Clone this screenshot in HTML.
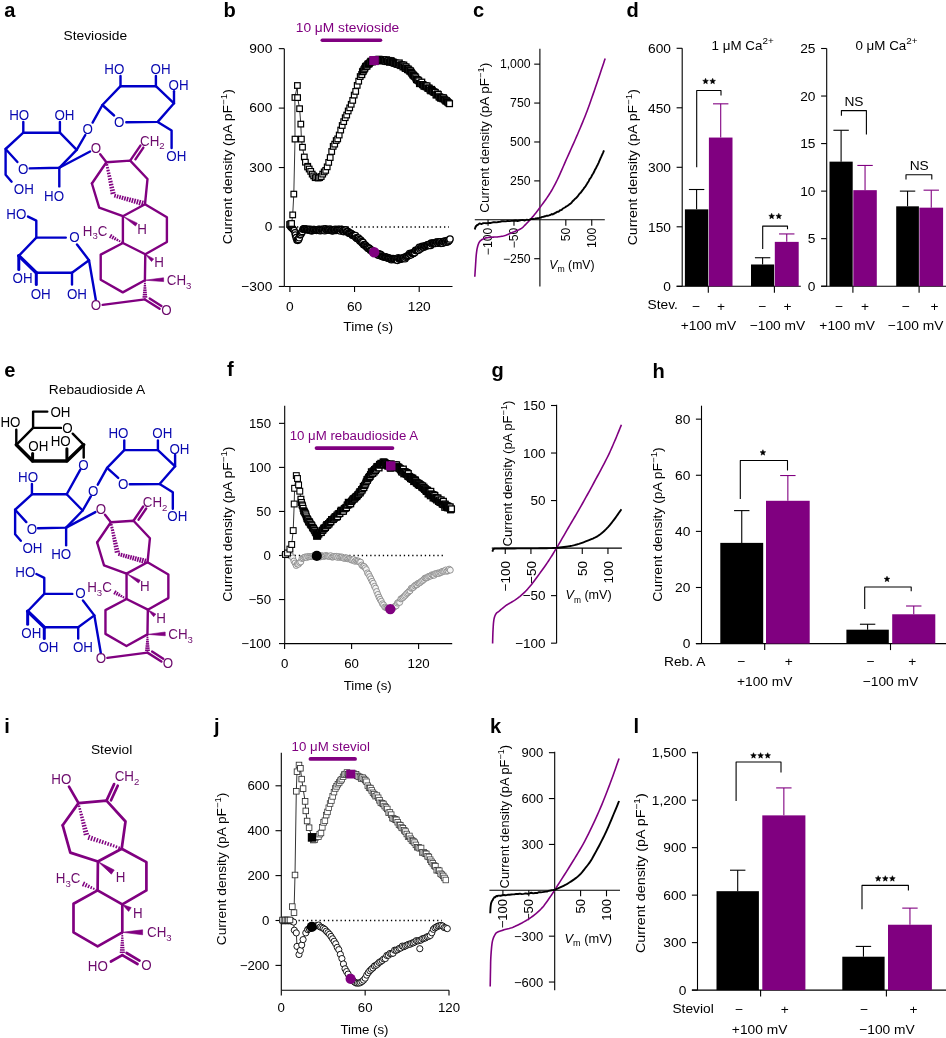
<!DOCTYPE html>
<html><head><meta charset="utf-8"><style>
html,body{margin:0;padding:0;background:#fff;}
svg{display:block;will-change:transform;}
text{font-family:"Liberation Sans", sans-serif;}
</style></head><body>
<svg width="946" height="1038" viewBox="0 0 946 1038">
<rect x="0" y="0" width="946" height="1038" fill="#fff"/>
<text transform="translate(223.50,16.70) scale(0.99,1)" font-size="20.3" text-anchor="start" fill="#000" font-weight="bold" >b</text>
<line x1="284.30" y1="48.65" x2="284.30" y2="286.45" stroke="#000" stroke-width="1.1" />
<line x1="278.80" y1="48.65" x2="284.30" y2="48.65" stroke="#000" stroke-width="1.1" />
<text transform="translate(272.30,52.95) scale(1.06,1)" font-size="13" text-anchor="end" fill="#000" font-weight="normal" >900</text>
<line x1="278.80" y1="108.10" x2="284.30" y2="108.10" stroke="#000" stroke-width="1.1" />
<text transform="translate(272.30,112.40) scale(1.06,1)" font-size="13" text-anchor="end" fill="#000" font-weight="normal" >600</text>
<line x1="278.80" y1="167.55" x2="284.30" y2="167.55" stroke="#000" stroke-width="1.1" />
<text transform="translate(272.30,171.85) scale(1.06,1)" font-size="13" text-anchor="end" fill="#000" font-weight="normal" >300</text>
<line x1="278.80" y1="227.00" x2="284.30" y2="227.00" stroke="#000" stroke-width="1.1" />
<text transform="translate(272.30,231.30) scale(1.06,1)" font-size="13" text-anchor="end" fill="#000" font-weight="normal" >0</text>
<line x1="278.80" y1="286.45" x2="284.30" y2="286.45" stroke="#000" stroke-width="1.1" />
<text transform="translate(272.30,290.75) scale(1.06,1)" font-size="13" text-anchor="end" fill="#000" font-weight="normal" >−300</text>
<line x1="284.30" y1="286.45" x2="452.50" y2="286.45" stroke="#000" stroke-width="1.1" />
<line x1="289.90" y1="286.45" x2="289.90" y2="291.95" stroke="#000" stroke-width="1.1" />
<text transform="translate(289.90,310.80) scale(1.06,1)" font-size="13" text-anchor="middle" fill="#000" font-weight="normal" >0</text>
<line x1="354.55" y1="286.45" x2="354.55" y2="291.95" stroke="#000" stroke-width="1.1" />
<text transform="translate(354.55,310.80) scale(1.06,1)" font-size="13" text-anchor="middle" fill="#000" font-weight="normal" >60</text>
<line x1="419.20" y1="286.45" x2="419.20" y2="291.95" stroke="#000" stroke-width="1.1" />
<text transform="translate(419.20,310.80) scale(1.06,1)" font-size="13" text-anchor="middle" fill="#000" font-weight="normal" >120</text>
<text transform="translate(368.20,331.00) scale(1.06,1)" font-size="13" text-anchor="middle" fill="#000" font-weight="normal" >Time (s)</text>
<text transform="translate(232.30,166.70) rotate(-90) scale(1.0731,1)" font-size="13" text-anchor="middle" fill="#000">Current density (pA pF<tspan font-size="9.1" dy="-5">−1</tspan><tspan dy="5">)</tspan></text>
<text transform="translate(347.50,32.00) scale(1.06,1)" font-size="13" text-anchor="middle" fill="#800080" font-weight="normal" >10 μM stevioside</text>
<line x1="322.30" y1="40.30" x2="380.50" y2="40.30" stroke="#800080" stroke-width="3.6" stroke-linecap="round"/>
<line x1="297.00" y1="227.00" x2="449.00" y2="227.00" stroke="#000" stroke-width="1.3" stroke-dasharray="1.3,2.9"/>
<polyline points="290.50,226.60 290.56,226.65 290.62,226.71 290.69,226.78 290.78,226.85 290.86,226.93 290.96,227.01 291.06,227.10 291.17,227.19 291.28,227.29 291.39,227.39 291.50,227.50 291.62,227.61 291.74,227.71 291.85,227.83 291.97,227.94 292.08,228.05 292.19,228.16 292.30,228.28 292.40,228.39 292.50,228.50 292.60,228.61 292.69,228.72 292.79,228.83 292.88,228.95 292.98,229.06 293.07,229.17 293.17,229.29 293.26,229.41 293.36,229.53 293.45,229.65 293.54,229.77 293.63,229.90 293.72,230.03 293.81,230.16 293.90,230.29 293.98,230.43 294.06,230.57 294.15,230.71 294.22,230.85 294.30,231.00 294.37,231.15 294.44,231.31 294.51,231.47 294.58,231.63 294.64,231.79 294.71,231.96 294.77,232.13 294.83,232.30 294.89,232.48 294.94,232.66 295.00,232.84 295.06,233.02 295.11,233.20 295.17,233.38 295.22,233.57 295.28,233.75 295.33,233.94 295.39,234.13 295.44,234.31 295.50,234.50 295.56,234.69 295.61,234.89 295.67,235.09 295.72,235.30 295.78,235.52 295.83,235.74 295.89,235.95 295.94,236.17 296.00,236.39 296.05,236.61 296.10,236.83 296.16,237.04 296.21,237.25 296.27,237.45 296.32,237.65 296.38,237.84 296.43,238.02 296.49,238.19 296.54,238.35 296.60,238.50 296.66,238.64 296.71,238.78 296.77,238.92 296.83,239.06 296.89,239.19 296.94,239.32 297.00,239.44 297.06,239.56 297.12,239.67 297.18,239.77 297.23,239.86 297.29,239.95 297.35,240.02 297.41,240.09 297.48,240.14 297.54,240.18 297.60,240.21 297.67,240.22 297.73,240.22 297.80,240.20 297.87,240.17 297.94,240.12 298.00,240.05 298.07,239.97 298.14,239.88 298.21,239.78 298.28,239.66 298.35,239.53 298.43,239.40 298.50,239.25 298.57,239.10 298.65,238.94 298.73,238.77 298.80,238.60 298.88,238.42 298.96,238.24 299.05,238.06 299.13,237.87 299.21,237.69 299.30,237.50 299.39,237.31 299.48,237.10 299.56,236.89 299.65,236.67 299.74,236.43 299.83,236.19 299.93,235.95 300.02,235.70 300.12,235.44 300.21,235.19 300.31,234.93 300.41,234.68 300.51,234.42 300.62,234.17 300.73,233.92 300.83,233.68 300.95,233.45 301.06,233.22 301.18,233.01 301.30,232.80 301.42,232.60 301.54,232.40 301.66,232.19 301.78,231.99 301.89,231.79 302.01,231.59 302.13,231.40 302.26,231.21 302.38,231.02 302.51,230.84 302.65,230.66 302.79,230.49 302.93,230.33 303.09,230.18 303.25,230.04 303.42,229.91 303.60,229.79 303.79,229.68 303.99,229.58 304.20,229.50 304.42,229.43 304.64,229.38 304.87,229.35 305.11,229.33 305.35,229.32 305.59,229.33 305.85,229.34 306.11,229.37 306.38,229.40 306.66,229.43 306.94,229.47 307.24,229.51 307.54,229.56 307.86,229.60 308.19,229.65 308.52,229.69 308.87,229.73 309.24,229.76 309.61,229.78 310.00,229.80 310.41,229.81 310.83,229.82 311.27,229.84 311.73,229.85 312.20,229.86 312.69,229.87 313.19,229.89 313.70,229.90 314.21,229.91 314.74,229.92 315.27,229.93 315.80,229.94 316.33,229.95 316.87,229.96 317.40,229.97 317.93,229.97 318.46,229.98 318.98,229.99 319.50,229.99 320.00,230.00 320.50,230.00 320.99,230.01 321.47,230.01 321.96,230.00 322.43,230.00 322.91,230.00 323.39,229.99 323.87,229.99 324.34,229.98 324.82,229.98 325.31,229.97 325.80,229.97 326.29,229.96 326.79,229.96 327.30,229.96 327.82,229.96 328.35,229.97 328.89,229.98 329.44,229.99 330.00,230.00 330.58,230.01 331.18,230.02 331.80,230.03 332.43,230.03 333.08,230.04 333.74,230.04 334.40,230.05 335.08,230.05 335.75,230.06 336.43,230.08 337.11,230.09 337.78,230.12 338.45,230.14 339.11,230.18 339.77,230.22 340.41,230.28 341.03,230.34 341.64,230.42 342.23,230.50 342.80,230.60 343.35,230.71 343.89,230.83 344.42,230.95 344.94,231.08 345.45,231.23 345.95,231.37 346.44,231.53 346.92,231.69 347.40,231.87 347.87,232.04 348.33,232.23 348.79,232.42 349.24,232.62 349.69,232.83 350.13,233.04 350.57,233.26 351.00,233.49 351.44,233.72 351.87,233.96 352.30,234.20 352.73,234.45 353.14,234.72 353.55,234.99 353.96,235.28 354.36,235.58 354.75,235.88 355.14,236.19 355.52,236.51 355.90,236.83 356.28,237.16 356.65,237.49 357.02,237.82 357.39,238.16 357.76,238.50 358.13,238.83 358.50,239.17 358.87,239.51 359.25,239.84 359.62,240.17 360.00,240.50 360.38,240.83 360.76,241.16 361.14,241.50 361.53,241.84 361.91,242.18 362.29,242.53 362.67,242.88 363.05,243.23 363.43,243.58 363.81,243.92 364.19,244.27 364.57,244.62 364.94,244.96 365.32,245.30 365.69,245.63 366.05,245.96 366.42,246.28 366.78,246.59 367.14,246.90 367.50,247.20 367.85,247.49 368.19,247.78 368.53,248.07 368.86,248.34 369.19,248.62 369.51,248.89 369.83,249.16 370.15,249.42 370.47,249.68 370.79,249.94 371.11,250.19 371.43,250.44 371.75,250.68 372.08,250.92 372.42,251.16 372.76,251.40 373.11,251.63 373.46,251.85 373.83,252.08 374.20,252.30 374.58,252.52 374.97,252.73 375.37,252.94 375.77,253.14 376.17,253.34 376.58,253.54 377.00,253.73 377.42,253.92 377.84,254.11 378.27,254.29 378.70,254.47 379.13,254.65 379.57,254.83 380.01,255.00 380.46,255.17 380.90,255.34 381.35,255.51 381.80,255.67 382.25,255.84 382.70,256.00 383.16,256.16 383.62,256.33 384.10,256.49 384.58,256.66 385.07,256.82 385.56,256.99 386.06,257.15 386.56,257.31 387.06,257.47 387.56,257.62 388.05,257.77 388.55,257.91 389.04,258.05 389.53,258.18 390.01,258.30 390.49,258.42 390.96,258.53 391.42,258.63 391.86,258.72 392.30,258.80 392.72,258.87 393.13,258.94 393.53,259.01 393.92,259.07 394.30,259.13 394.67,259.18 395.03,259.22 395.39,259.26 395.75,259.29 396.11,259.31 396.46,259.33 396.82,259.33 397.18,259.33 397.54,259.32 397.91,259.29 398.29,259.26 398.68,259.21 399.07,259.15 399.48,259.08 399.90,259.00 400.33,258.90 400.76,258.80 401.20,258.68 401.65,258.55 402.10,258.41 402.55,258.26 403.01,258.10 403.47,257.93 403.94,257.75 404.41,257.56 404.89,257.36 405.37,257.16 405.86,256.94 406.35,256.72 406.85,256.48 407.35,256.24 407.85,255.99 408.36,255.74 408.88,255.47 409.40,255.20 409.93,254.91 410.46,254.61 411.01,254.28 411.56,253.93 412.12,253.58 412.68,253.20 413.25,252.82 413.82,252.44 414.40,252.04 414.98,251.64 415.56,251.25 416.15,250.85 416.73,250.46 417.32,250.07 417.91,249.69 418.49,249.32 419.07,248.97 419.65,248.63 420.23,248.30 420.80,248.00 421.37,247.71 421.95,247.42 422.53,247.15 423.11,246.87 423.69,246.60 424.28,246.34 424.87,246.09 425.45,245.84 426.04,245.60 426.62,245.36 427.20,245.14 427.78,244.92 428.35,244.71 428.92,244.51 429.48,244.32 430.04,244.13 430.59,243.96 431.14,243.80 431.67,243.64 432.20,243.50 432.72,243.37 433.23,243.26 433.74,243.17 434.24,243.10 434.73,243.04 435.22,242.99 435.70,242.95 436.18,242.92 436.65,242.90 437.12,242.88 437.59,242.86 438.06,242.84 438.52,242.82 438.98,242.80 439.43,242.77 439.89,242.74 440.34,242.70 440.79,242.65 441.25,242.58 441.70,242.50 442.16,242.41 442.64,242.30 443.12,242.18 443.62,242.06 444.11,241.92 444.62,241.78 445.12,241.64 445.62,241.49 446.11,241.34 446.59,241.19 447.07,241.04 447.52,240.89 447.96,240.75 448.38,240.61 448.78,240.48 449.14,240.36 449.48,240.25 449.79,240.16 450.07,240.07 450.30,240.00" fill="none" stroke="#000" stroke-width="0.8" stroke-linejoin="round" />
<circle cx="290.50" cy="226.52" r="3.1" fill="#fff" stroke="#000" stroke-width="1.25"/>
<circle cx="291.40" cy="227.56" r="3.1" fill="#fff" stroke="#000" stroke-width="1.25"/>
<circle cx="292.30" cy="228.21" r="3.1" fill="#fff" stroke="#000" stroke-width="1.25"/>
<circle cx="293.20" cy="229.24" r="3.1" fill="#fff" stroke="#000" stroke-width="1.25"/>
<circle cx="294.10" cy="230.35" r="3.1" fill="#fff" stroke="#000" stroke-width="1.25"/>
<circle cx="295.00" cy="232.77" r="3.1" fill="#fff" stroke="#000" stroke-width="1.25"/>
<circle cx="295.50" cy="235.11" r="3.2" fill="#fff" stroke="#000" stroke-width="1.3"/>
<circle cx="296.25" cy="237.63" r="3.2" fill="#fff" stroke="#000" stroke-width="1.3"/>
<circle cx="297.00" cy="240.01" r="3.2" fill="#fff" stroke="#000" stroke-width="1.3"/>
<circle cx="297.75" cy="240.35" r="3.2" fill="#fff" stroke="#000" stroke-width="1.3"/>
<circle cx="298.50" cy="239.47" r="3.2" fill="#fff" stroke="#000" stroke-width="1.3"/>
<circle cx="299.25" cy="237.71" r="3.2" fill="#fff" stroke="#000" stroke-width="1.3"/>
<circle cx="300.00" cy="234.84" r="3.2" fill="#fff" stroke="#000" stroke-width="1.3"/>
<circle cx="300.75" cy="234.34" r="3.2" fill="#fff" stroke="#000" stroke-width="1.3"/>
<circle cx="301.50" cy="232.74" r="3.2" fill="#fff" stroke="#000" stroke-width="1.3"/>
<circle cx="302.25" cy="231.49" r="3.2" fill="#fff" stroke="#000" stroke-width="1.3"/>
<circle cx="303.00" cy="229.34" r="3.2" fill="#fff" stroke="#000" stroke-width="1.3"/>
<circle cx="303.75" cy="228.74" r="3.2" fill="#fff" stroke="#000" stroke-width="1.3"/>
<circle cx="304.50" cy="228.93" r="3.2" fill="#fff" stroke="#000" stroke-width="1.3"/>
<circle cx="305.25" cy="229.07" r="3.2" fill="#fff" stroke="#000" stroke-width="1.3"/>
<circle cx="306.00" cy="229.52" r="3.2" fill="#fff" stroke="#000" stroke-width="1.3"/>
<circle cx="306.75" cy="229.42" r="3.2" fill="#fff" stroke="#000" stroke-width="1.3"/>
<circle cx="307.50" cy="229.84" r="3.2" fill="#fff" stroke="#000" stroke-width="1.3"/>
<circle cx="308.25" cy="229.30" r="3.2" fill="#fff" stroke="#000" stroke-width="1.3"/>
<circle cx="309.00" cy="229.91" r="3.2" fill="#fff" stroke="#000" stroke-width="1.3"/>
<circle cx="309.75" cy="230.01" r="3.2" fill="#fff" stroke="#000" stroke-width="1.3"/>
<circle cx="310.50" cy="229.45" r="3.2" fill="#fff" stroke="#000" stroke-width="1.3"/>
<circle cx="311.25" cy="230.78" r="3.2" fill="#fff" stroke="#000" stroke-width="1.3"/>
<circle cx="312.00" cy="230.16" r="3.2" fill="#fff" stroke="#000" stroke-width="1.3"/>
<circle cx="312.75" cy="230.53" r="3.2" fill="#fff" stroke="#000" stroke-width="1.3"/>
<circle cx="313.50" cy="229.55" r="3.2" fill="#fff" stroke="#000" stroke-width="1.3"/>
<circle cx="314.25" cy="229.50" r="3.2" fill="#fff" stroke="#000" stroke-width="1.3"/>
<circle cx="315.00" cy="229.73" r="3.2" fill="#fff" stroke="#000" stroke-width="1.3"/>
<circle cx="315.75" cy="229.88" r="3.2" fill="#fff" stroke="#000" stroke-width="1.3"/>
<circle cx="316.50" cy="230.30" r="3.2" fill="#fff" stroke="#000" stroke-width="1.3"/>
<circle cx="317.25" cy="230.10" r="3.2" fill="#fff" stroke="#000" stroke-width="1.3"/>
<circle cx="318.00" cy="229.73" r="3.2" fill="#fff" stroke="#000" stroke-width="1.3"/>
<circle cx="318.75" cy="229.46" r="3.2" fill="#fff" stroke="#000" stroke-width="1.3"/>
<circle cx="319.50" cy="229.71" r="3.2" fill="#fff" stroke="#000" stroke-width="1.3"/>
<circle cx="320.25" cy="230.67" r="3.2" fill="#fff" stroke="#000" stroke-width="1.3"/>
<circle cx="321.00" cy="229.56" r="3.2" fill="#fff" stroke="#000" stroke-width="1.3"/>
<circle cx="321.75" cy="230.14" r="3.2" fill="#fff" stroke="#000" stroke-width="1.3"/>
<circle cx="322.50" cy="230.23" r="3.2" fill="#fff" stroke="#000" stroke-width="1.3"/>
<circle cx="323.25" cy="229.17" r="3.2" fill="#fff" stroke="#000" stroke-width="1.3"/>
<circle cx="324.00" cy="230.01" r="3.2" fill="#fff" stroke="#000" stroke-width="1.3"/>
<circle cx="324.75" cy="230.69" r="3.2" fill="#fff" stroke="#000" stroke-width="1.3"/>
<circle cx="325.50" cy="228.86" r="3.2" fill="#fff" stroke="#000" stroke-width="1.3"/>
<circle cx="326.25" cy="229.79" r="3.2" fill="#fff" stroke="#000" stroke-width="1.3"/>
<circle cx="327.00" cy="229.90" r="3.2" fill="#fff" stroke="#000" stroke-width="1.3"/>
<circle cx="327.75" cy="229.51" r="3.2" fill="#fff" stroke="#000" stroke-width="1.3"/>
<circle cx="328.50" cy="230.24" r="3.2" fill="#fff" stroke="#000" stroke-width="1.3"/>
<circle cx="329.25" cy="229.95" r="3.2" fill="#fff" stroke="#000" stroke-width="1.3"/>
<circle cx="330.00" cy="229.19" r="3.2" fill="#fff" stroke="#000" stroke-width="1.3"/>
<circle cx="330.75" cy="230.47" r="3.2" fill="#fff" stroke="#000" stroke-width="1.3"/>
<circle cx="331.50" cy="230.39" r="3.2" fill="#fff" stroke="#000" stroke-width="1.3"/>
<circle cx="332.25" cy="230.55" r="3.2" fill="#fff" stroke="#000" stroke-width="1.3"/>
<circle cx="333.00" cy="230.83" r="3.2" fill="#fff" stroke="#000" stroke-width="1.3"/>
<circle cx="333.75" cy="230.24" r="3.2" fill="#fff" stroke="#000" stroke-width="1.3"/>
<circle cx="334.50" cy="230.11" r="3.2" fill="#fff" stroke="#000" stroke-width="1.3"/>
<circle cx="335.25" cy="229.34" r="3.2" fill="#fff" stroke="#000" stroke-width="1.3"/>
<circle cx="336.00" cy="230.41" r="3.2" fill="#fff" stroke="#000" stroke-width="1.3"/>
<circle cx="336.75" cy="229.75" r="3.2" fill="#fff" stroke="#000" stroke-width="1.3"/>
<circle cx="337.50" cy="229.86" r="3.2" fill="#fff" stroke="#000" stroke-width="1.3"/>
<circle cx="338.25" cy="229.44" r="3.2" fill="#fff" stroke="#000" stroke-width="1.3"/>
<circle cx="339.00" cy="229.64" r="3.2" fill="#fff" stroke="#000" stroke-width="1.3"/>
<circle cx="339.75" cy="229.93" r="3.2" fill="#fff" stroke="#000" stroke-width="1.3"/>
<circle cx="340.50" cy="231.00" r="3.2" fill="#fff" stroke="#000" stroke-width="1.3"/>
<circle cx="341.25" cy="229.25" r="3.2" fill="#fff" stroke="#000" stroke-width="1.3"/>
<circle cx="342.00" cy="229.67" r="3.2" fill="#fff" stroke="#000" stroke-width="1.3"/>
<circle cx="342.75" cy="230.72" r="3.2" fill="#fff" stroke="#000" stroke-width="1.3"/>
<circle cx="343.50" cy="231.54" r="3.2" fill="#fff" stroke="#000" stroke-width="1.3"/>
<circle cx="344.25" cy="231.23" r="3.2" fill="#fff" stroke="#000" stroke-width="1.3"/>
<circle cx="345.00" cy="230.06" r="3.2" fill="#fff" stroke="#000" stroke-width="1.3"/>
<circle cx="345.75" cy="229.93" r="3.2" fill="#fff" stroke="#000" stroke-width="1.3"/>
<circle cx="346.50" cy="231.75" r="3.2" fill="#fff" stroke="#000" stroke-width="1.3"/>
<circle cx="347.25" cy="231.41" r="3.2" fill="#fff" stroke="#000" stroke-width="1.3"/>
<circle cx="348.00" cy="231.48" r="3.2" fill="#fff" stroke="#000" stroke-width="1.3"/>
<circle cx="348.75" cy="232.94" r="3.2" fill="#fff" stroke="#000" stroke-width="1.3"/>
<circle cx="349.50" cy="233.35" r="3.2" fill="#fff" stroke="#000" stroke-width="1.3"/>
<circle cx="350.25" cy="233.19" r="3.2" fill="#fff" stroke="#000" stroke-width="1.3"/>
<circle cx="351.00" cy="233.62" r="3.2" fill="#fff" stroke="#000" stroke-width="1.3"/>
<circle cx="351.75" cy="234.13" r="3.2" fill="#fff" stroke="#000" stroke-width="1.3"/>
<circle cx="352.50" cy="235.20" r="3.2" fill="#fff" stroke="#000" stroke-width="1.3"/>
<circle cx="353.25" cy="235.13" r="3.2" fill="#fff" stroke="#000" stroke-width="1.3"/>
<circle cx="354.00" cy="235.60" r="3.2" fill="#fff" stroke="#000" stroke-width="1.3"/>
<circle cx="354.75" cy="236.18" r="3.2" fill="#fff" stroke="#000" stroke-width="1.3"/>
<circle cx="355.50" cy="235.63" r="3.2" fill="#fff" stroke="#000" stroke-width="1.3"/>
<circle cx="356.25" cy="237.84" r="3.2" fill="#fff" stroke="#000" stroke-width="1.3"/>
<circle cx="357.00" cy="238.33" r="3.2" fill="#fff" stroke="#000" stroke-width="1.3"/>
<circle cx="357.75" cy="238.78" r="3.2" fill="#fff" stroke="#000" stroke-width="1.3"/>
<circle cx="358.50" cy="238.08" r="3.2" fill="#fff" stroke="#000" stroke-width="1.3"/>
<circle cx="359.25" cy="239.50" r="3.2" fill="#fff" stroke="#000" stroke-width="1.3"/>
<circle cx="360.00" cy="240.96" r="3.2" fill="#fff" stroke="#000" stroke-width="1.3"/>
<circle cx="360.75" cy="240.15" r="3.2" fill="#fff" stroke="#000" stroke-width="1.3"/>
<circle cx="361.50" cy="241.72" r="3.2" fill="#fff" stroke="#000" stroke-width="1.3"/>
<circle cx="362.25" cy="243.06" r="3.2" fill="#fff" stroke="#000" stroke-width="1.3"/>
<circle cx="363.00" cy="242.46" r="3.2" fill="#fff" stroke="#000" stroke-width="1.3"/>
<circle cx="363.75" cy="244.75" r="3.2" fill="#fff" stroke="#000" stroke-width="1.3"/>
<circle cx="364.50" cy="244.86" r="3.2" fill="#fff" stroke="#000" stroke-width="1.3"/>
<circle cx="365.25" cy="245.15" r="3.2" fill="#fff" stroke="#000" stroke-width="1.3"/>
<circle cx="366.00" cy="246.09" r="3.2" fill="#fff" stroke="#000" stroke-width="1.3"/>
<circle cx="366.75" cy="246.92" r="3.2" fill="#fff" stroke="#000" stroke-width="1.3"/>
<circle cx="367.50" cy="247.27" r="3.2" fill="#fff" stroke="#000" stroke-width="1.3"/>
<circle cx="368.25" cy="248.46" r="3.2" fill="#fff" stroke="#000" stroke-width="1.3"/>
<circle cx="369.00" cy="248.10" r="3.2" fill="#fff" stroke="#000" stroke-width="1.3"/>
<circle cx="369.75" cy="248.86" r="3.2" fill="#fff" stroke="#000" stroke-width="1.3"/>
<circle cx="370.50" cy="250.28" r="3.2" fill="#fff" stroke="#000" stroke-width="1.3"/>
<circle cx="371.25" cy="250.31" r="3.2" fill="#fff" stroke="#000" stroke-width="1.3"/>
<circle cx="372.00" cy="250.38" r="3.2" fill="#fff" stroke="#000" stroke-width="1.3"/>
<circle cx="372.75" cy="251.91" r="3.2" fill="#fff" stroke="#000" stroke-width="1.3"/>
<circle cx="373.50" cy="252.68" r="3.2" fill="#fff" stroke="#000" stroke-width="1.3"/>
<circle cx="374.25" cy="252.08" r="3.2" fill="#fff" stroke="#000" stroke-width="1.3"/>
<circle cx="375.00" cy="251.99" r="3.2" fill="#fff" stroke="#000" stroke-width="1.3"/>
<circle cx="375.75" cy="253.06" r="3.2" fill="#fff" stroke="#000" stroke-width="1.3"/>
<circle cx="376.50" cy="253.42" r="3.2" fill="#fff" stroke="#000" stroke-width="1.3"/>
<circle cx="377.25" cy="253.68" r="3.2" fill="#fff" stroke="#000" stroke-width="1.3"/>
<circle cx="378.00" cy="254.95" r="3.2" fill="#fff" stroke="#000" stroke-width="1.3"/>
<circle cx="378.75" cy="253.93" r="3.2" fill="#fff" stroke="#000" stroke-width="1.3"/>
<circle cx="379.50" cy="255.49" r="3.2" fill="#fff" stroke="#000" stroke-width="1.3"/>
<circle cx="380.25" cy="254.39" r="3.2" fill="#fff" stroke="#000" stroke-width="1.3"/>
<circle cx="381.00" cy="254.94" r="3.2" fill="#fff" stroke="#000" stroke-width="1.3"/>
<circle cx="381.75" cy="256.00" r="3.2" fill="#fff" stroke="#000" stroke-width="1.3"/>
<circle cx="382.50" cy="256.55" r="3.2" fill="#fff" stroke="#000" stroke-width="1.3"/>
<circle cx="383.25" cy="256.67" r="3.2" fill="#fff" stroke="#000" stroke-width="1.3"/>
<circle cx="384.00" cy="256.65" r="3.2" fill="#fff" stroke="#000" stroke-width="1.3"/>
<circle cx="384.75" cy="256.79" r="3.2" fill="#fff" stroke="#000" stroke-width="1.3"/>
<circle cx="385.50" cy="257.05" r="3.2" fill="#fff" stroke="#000" stroke-width="1.3"/>
<circle cx="386.25" cy="257.53" r="3.2" fill="#fff" stroke="#000" stroke-width="1.3"/>
<circle cx="387.00" cy="257.35" r="3.2" fill="#fff" stroke="#000" stroke-width="1.3"/>
<circle cx="387.75" cy="257.83" r="3.2" fill="#fff" stroke="#000" stroke-width="1.3"/>
<circle cx="388.50" cy="258.21" r="3.2" fill="#fff" stroke="#000" stroke-width="1.3"/>
<circle cx="389.25" cy="258.10" r="3.2" fill="#fff" stroke="#000" stroke-width="1.3"/>
<circle cx="390.00" cy="258.72" r="3.2" fill="#fff" stroke="#000" stroke-width="1.3"/>
<circle cx="390.75" cy="258.79" r="3.2" fill="#fff" stroke="#000" stroke-width="1.3"/>
<circle cx="391.50" cy="259.75" r="3.2" fill="#fff" stroke="#000" stroke-width="1.3"/>
<circle cx="392.25" cy="258.97" r="3.2" fill="#fff" stroke="#000" stroke-width="1.3"/>
<circle cx="393.00" cy="258.69" r="3.2" fill="#fff" stroke="#000" stroke-width="1.3"/>
<circle cx="393.75" cy="258.84" r="3.2" fill="#fff" stroke="#000" stroke-width="1.3"/>
<circle cx="394.50" cy="259.15" r="3.2" fill="#fff" stroke="#000" stroke-width="1.3"/>
<circle cx="395.25" cy="259.75" r="3.2" fill="#fff" stroke="#000" stroke-width="1.3"/>
<circle cx="396.00" cy="259.12" r="3.2" fill="#fff" stroke="#000" stroke-width="1.3"/>
<circle cx="396.75" cy="259.54" r="3.2" fill="#fff" stroke="#000" stroke-width="1.3"/>
<circle cx="397.50" cy="260.33" r="3.2" fill="#fff" stroke="#000" stroke-width="1.3"/>
<circle cx="398.25" cy="257.85" r="3.2" fill="#fff" stroke="#000" stroke-width="1.3"/>
<circle cx="399.00" cy="258.55" r="3.2" fill="#fff" stroke="#000" stroke-width="1.3"/>
<circle cx="399.75" cy="259.16" r="3.2" fill="#fff" stroke="#000" stroke-width="1.3"/>
<circle cx="400.50" cy="259.08" r="3.2" fill="#fff" stroke="#000" stroke-width="1.3"/>
<circle cx="401.25" cy="258.80" r="3.2" fill="#fff" stroke="#000" stroke-width="1.3"/>
<circle cx="402.00" cy="258.20" r="3.2" fill="#fff" stroke="#000" stroke-width="1.3"/>
<circle cx="402.75" cy="258.55" r="3.2" fill="#fff" stroke="#000" stroke-width="1.3"/>
<circle cx="403.50" cy="258.08" r="3.2" fill="#fff" stroke="#000" stroke-width="1.3"/>
<circle cx="404.25" cy="257.34" r="3.2" fill="#fff" stroke="#000" stroke-width="1.3"/>
<circle cx="405.00" cy="258.65" r="3.2" fill="#fff" stroke="#000" stroke-width="1.3"/>
<circle cx="405.75" cy="257.18" r="3.2" fill="#fff" stroke="#000" stroke-width="1.3"/>
<circle cx="406.50" cy="256.34" r="3.2" fill="#fff" stroke="#000" stroke-width="1.3"/>
<circle cx="407.25" cy="256.23" r="3.2" fill="#fff" stroke="#000" stroke-width="1.3"/>
<circle cx="408.00" cy="255.79" r="3.2" fill="#fff" stroke="#000" stroke-width="1.3"/>
<circle cx="408.75" cy="255.50" r="3.2" fill="#fff" stroke="#000" stroke-width="1.3"/>
<circle cx="409.50" cy="253.65" r="3.2" fill="#fff" stroke="#000" stroke-width="1.3"/>
<circle cx="410.25" cy="254.46" r="3.2" fill="#fff" stroke="#000" stroke-width="1.3"/>
<circle cx="411.00" cy="254.84" r="3.2" fill="#fff" stroke="#000" stroke-width="1.3"/>
<circle cx="411.75" cy="253.17" r="3.2" fill="#fff" stroke="#000" stroke-width="1.3"/>
<circle cx="412.50" cy="253.29" r="3.2" fill="#fff" stroke="#000" stroke-width="1.3"/>
<circle cx="413.25" cy="253.35" r="3.2" fill="#fff" stroke="#000" stroke-width="1.3"/>
<circle cx="414.00" cy="252.79" r="3.2" fill="#fff" stroke="#000" stroke-width="1.3"/>
<circle cx="414.75" cy="252.62" r="3.2" fill="#fff" stroke="#000" stroke-width="1.3"/>
<circle cx="415.50" cy="250.35" r="3.2" fill="#fff" stroke="#000" stroke-width="1.3"/>
<circle cx="416.25" cy="250.59" r="3.2" fill="#fff" stroke="#000" stroke-width="1.3"/>
<circle cx="417.00" cy="250.09" r="3.2" fill="#fff" stroke="#000" stroke-width="1.3"/>
<circle cx="417.75" cy="250.13" r="3.2" fill="#fff" stroke="#000" stroke-width="1.3"/>
<circle cx="418.50" cy="249.92" r="3.2" fill="#fff" stroke="#000" stroke-width="1.3"/>
<circle cx="419.25" cy="247.39" r="3.2" fill="#fff" stroke="#000" stroke-width="1.3"/>
<circle cx="420.00" cy="249.03" r="3.2" fill="#fff" stroke="#000" stroke-width="1.3"/>
<circle cx="420.75" cy="247.23" r="3.2" fill="#fff" stroke="#000" stroke-width="1.3"/>
<circle cx="421.50" cy="248.02" r="3.2" fill="#fff" stroke="#000" stroke-width="1.3"/>
<circle cx="422.25" cy="246.46" r="3.2" fill="#fff" stroke="#000" stroke-width="1.3"/>
<circle cx="423.00" cy="247.02" r="3.2" fill="#fff" stroke="#000" stroke-width="1.3"/>
<circle cx="423.75" cy="247.24" r="3.2" fill="#fff" stroke="#000" stroke-width="1.3"/>
<circle cx="424.50" cy="246.16" r="3.2" fill="#fff" stroke="#000" stroke-width="1.3"/>
<circle cx="425.25" cy="246.03" r="3.2" fill="#fff" stroke="#000" stroke-width="1.3"/>
<circle cx="426.00" cy="246.05" r="3.2" fill="#fff" stroke="#000" stroke-width="1.3"/>
<circle cx="426.75" cy="245.39" r="3.2" fill="#fff" stroke="#000" stroke-width="1.3"/>
<circle cx="427.50" cy="244.97" r="3.2" fill="#fff" stroke="#000" stroke-width="1.3"/>
<circle cx="428.25" cy="245.59" r="3.2" fill="#fff" stroke="#000" stroke-width="1.3"/>
<circle cx="429.00" cy="245.06" r="3.2" fill="#fff" stroke="#000" stroke-width="1.3"/>
<circle cx="429.75" cy="244.07" r="3.2" fill="#fff" stroke="#000" stroke-width="1.3"/>
<circle cx="430.50" cy="245.50" r="3.2" fill="#fff" stroke="#000" stroke-width="1.3"/>
<circle cx="431.25" cy="243.13" r="3.2" fill="#fff" stroke="#000" stroke-width="1.3"/>
<circle cx="432.00" cy="244.06" r="3.2" fill="#fff" stroke="#000" stroke-width="1.3"/>
<circle cx="432.75" cy="243.22" r="3.2" fill="#fff" stroke="#000" stroke-width="1.3"/>
<circle cx="433.50" cy="243.29" r="3.2" fill="#fff" stroke="#000" stroke-width="1.3"/>
<circle cx="434.25" cy="243.49" r="3.2" fill="#fff" stroke="#000" stroke-width="1.3"/>
<circle cx="435.00" cy="243.13" r="3.2" fill="#fff" stroke="#000" stroke-width="1.3"/>
<circle cx="435.75" cy="243.30" r="3.2" fill="#fff" stroke="#000" stroke-width="1.3"/>
<circle cx="436.50" cy="242.06" r="3.2" fill="#fff" stroke="#000" stroke-width="1.3"/>
<circle cx="437.25" cy="242.04" r="3.2" fill="#fff" stroke="#000" stroke-width="1.3"/>
<circle cx="438.00" cy="243.18" r="3.2" fill="#fff" stroke="#000" stroke-width="1.3"/>
<circle cx="438.75" cy="242.28" r="3.2" fill="#fff" stroke="#000" stroke-width="1.3"/>
<circle cx="439.50" cy="242.20" r="3.2" fill="#fff" stroke="#000" stroke-width="1.3"/>
<circle cx="440.25" cy="241.90" r="3.2" fill="#fff" stroke="#000" stroke-width="1.3"/>
<circle cx="441.00" cy="243.31" r="3.2" fill="#fff" stroke="#000" stroke-width="1.3"/>
<circle cx="441.75" cy="242.90" r="3.2" fill="#fff" stroke="#000" stroke-width="1.3"/>
<circle cx="442.50" cy="243.14" r="3.2" fill="#fff" stroke="#000" stroke-width="1.3"/>
<circle cx="443.25" cy="241.63" r="3.2" fill="#fff" stroke="#000" stroke-width="1.3"/>
<circle cx="444.00" cy="241.95" r="3.2" fill="#fff" stroke="#000" stroke-width="1.3"/>
<circle cx="444.75" cy="241.12" r="3.2" fill="#fff" stroke="#000" stroke-width="1.3"/>
<circle cx="445.50" cy="241.94" r="3.2" fill="#fff" stroke="#000" stroke-width="1.3"/>
<circle cx="446.25" cy="242.17" r="3.2" fill="#fff" stroke="#000" stroke-width="1.3"/>
<circle cx="447.00" cy="240.57" r="3.2" fill="#fff" stroke="#000" stroke-width="1.3"/>
<circle cx="447.75" cy="241.68" r="3.2" fill="#fff" stroke="#000" stroke-width="1.3"/>
<circle cx="448.50" cy="241.12" r="3.2" fill="#fff" stroke="#000" stroke-width="1.3"/>
<circle cx="449.25" cy="240.23" r="3.2" fill="#fff" stroke="#000" stroke-width="1.3"/>
<circle cx="450.00" cy="239.01" r="3.2" fill="#fff" stroke="#000" stroke-width="1.3"/>
<circle cx="374.20" cy="252.30" r="5.2" fill="#800080" stroke="#000" stroke-width="0"/>
<polyline points="289.60,224.50 290.60,223.80 291.60,223.50 292.70,214.90 293.80,194.10 295.00,139.10 294.90,97.50 297.40,85.50 297.60,97.60 299.60,108.70 300.80,124.10 301.40,139.10 302.50,147.20 304.30,157.00 305.40,162.20 307.70,166.30 307.70,166.30 307.78,166.44 307.87,166.61 307.98,166.81 308.09,167.03 308.22,167.26 308.36,167.52 308.50,167.78 308.65,168.06 308.81,168.35 308.97,168.65 309.13,168.95 309.30,169.26 309.47,169.56 309.64,169.86 309.81,170.16 309.97,170.45 310.14,170.74 310.30,171.01 310.45,171.26 310.60,171.50 310.74,171.73 310.89,171.96 311.03,172.18 311.18,172.41 311.32,172.63 311.47,172.85 311.61,173.07 311.76,173.28 311.90,173.49 312.04,173.70 312.19,173.90 312.33,174.10 312.48,174.30 312.62,174.48 312.77,174.67 312.91,174.85 313.06,175.02 313.21,175.19 313.35,175.35 313.50,175.50 313.65,175.65 313.80,175.79 313.94,175.93 314.09,176.07 314.24,176.20 314.39,176.33 314.54,176.45 314.69,176.56 314.84,176.68 314.99,176.78 315.14,176.88 315.30,176.98 315.45,177.06 315.60,177.15 315.75,177.22 315.90,177.29 316.05,177.35 316.20,177.41 316.35,177.46 316.50,177.50 316.65,177.53 316.80,177.56 316.95,177.57 317.11,177.58 317.26,177.59 317.42,177.58 317.57,177.57 317.72,177.55 317.88,177.53 318.03,177.50 318.18,177.47 318.34,177.43 318.49,177.39 318.64,177.34 318.79,177.29 318.93,177.24 319.08,177.18 319.22,177.12 319.36,177.06 319.50,177.00 319.64,176.94 319.77,176.87 319.90,176.80 320.02,176.73 320.15,176.65 320.27,176.58 320.39,176.49 320.51,176.41 320.63,176.32 320.74,176.22 320.86,176.13 320.98,176.02 321.10,175.91 321.22,175.80 321.34,175.68 321.47,175.56 321.60,175.43 321.73,175.29 321.86,175.15 322.00,175.00 322.14,174.84 322.29,174.68 322.43,174.52 322.58,174.35 322.74,174.17 322.89,173.99 323.05,173.81 323.21,173.62 323.37,173.42 323.52,173.22 323.69,173.01 323.85,172.80 324.01,172.58 324.17,172.36 324.33,172.13 324.48,171.89 324.64,171.65 324.80,171.41 324.95,171.16 325.10,170.90 325.25,170.65 325.39,170.40 325.53,170.16 325.67,169.93 325.80,169.70 325.93,169.46 326.06,169.23 326.19,168.98 326.32,168.73 326.46,168.47 326.59,168.19 326.73,167.90 326.87,167.58 327.01,167.24 327.16,166.88 327.31,166.49 327.47,166.07 327.64,165.62 327.82,165.13 328.00,164.60 328.19,164.03 328.38,163.40 328.58,162.74 328.79,162.03 329.00,161.29 329.21,160.52 329.42,159.72 329.65,158.90 329.87,158.06 330.10,157.21 330.33,156.35 330.57,155.48 330.81,154.62 331.06,153.77 331.30,152.92 331.56,152.09 331.81,151.28 332.07,150.49 332.33,149.73 332.60,149.00 332.87,148.30 333.16,147.61 333.45,146.94 333.75,146.28 334.05,145.64 334.36,145.00 334.68,144.37 335.00,143.75 335.32,143.13 335.64,142.51 335.97,141.90 336.29,141.29 336.61,140.67 336.93,140.05 337.24,139.43 337.55,138.80 337.85,138.17 338.14,137.52 338.42,136.87 338.70,136.20 338.97,135.52 339.22,134.83 339.48,134.13 339.72,133.42 339.96,132.70 340.19,131.98 340.42,131.25 340.65,130.52 340.88,129.79 341.10,129.06 341.32,128.33 341.54,127.60 341.77,126.88 341.99,126.16 342.22,125.44 342.44,124.73 342.68,124.04 342.91,123.35 343.15,122.67 343.40,122.00 343.65,121.35 343.91,120.71 344.16,120.08 344.42,119.46 344.68,118.85 344.95,118.24 345.21,117.65 345.48,117.05 345.74,116.46 346.01,115.88 346.28,115.29 346.55,114.70 346.82,114.11 347.09,113.51 347.36,112.92 347.63,112.31 347.90,111.70 348.17,111.08 348.43,110.44 348.70,109.80 348.96,109.15 349.23,108.50 349.49,107.85 349.75,107.20 350.01,106.55 350.27,105.89 350.54,105.23 350.80,104.57 351.06,103.90 351.32,103.22 351.58,102.54 351.84,101.86 352.11,101.16 352.37,100.45 352.64,99.74 352.91,99.02 353.18,98.28 353.45,97.53 353.72,96.77 354.00,96.00 354.28,95.20 354.57,94.36 354.86,93.49 355.16,92.60 355.46,91.68 355.77,90.75 356.08,89.80 356.38,88.84 356.69,87.89 357.00,86.93 357.31,85.98 357.61,85.05 357.91,84.13 358.20,83.24 358.49,82.37 358.77,81.53 359.04,80.73 359.30,79.97 359.56,79.26 359.80,78.60 360.03,77.99 360.25,77.42 360.47,76.88 360.67,76.38 360.87,75.92 361.05,75.48 361.24,75.06 361.42,74.67 361.59,74.30 361.76,73.95 361.93,73.61 362.10,73.28 362.27,72.96 362.43,72.65 362.60,72.33 362.77,72.02 362.95,71.70 363.13,71.38 363.31,71.05 363.50,70.70 363.69,70.35 363.88,70.00 364.06,69.66 364.24,69.31 364.42,68.98 364.60,68.64 364.78,68.31 364.96,67.99 365.14,67.67 365.32,67.35 365.51,67.04 365.71,66.73 365.90,66.43 366.11,66.14 366.32,65.85 366.54,65.57 366.76,65.29 367.00,65.02 367.24,64.76 367.50,64.50 367.77,64.25 368.05,64.00 368.34,63.76 368.65,63.52 368.96,63.28 369.28,63.05 369.61,62.82 369.94,62.60 370.28,62.39 370.62,62.18 370.97,61.98 371.32,61.79 371.66,61.61 372.01,61.43 372.35,61.27 372.69,61.11 373.03,60.97 373.36,60.83 373.68,60.71 374.00,60.60 374.31,60.50 374.61,60.42 374.91,60.35 375.20,60.29 375.49,60.24 375.77,60.20 376.06,60.17 376.34,60.15 376.62,60.14 376.91,60.13 377.19,60.13 377.48,60.14 377.77,60.15 378.07,60.17 378.37,60.19 378.68,60.21 379.00,60.23 379.32,60.25 379.66,60.28 380.00,60.30 380.35,60.33 380.71,60.36 381.08,60.39 381.45,60.43 381.83,60.48 382.21,60.52 382.60,60.58 382.99,60.63 383.39,60.69 383.79,60.76 384.20,60.82 384.61,60.89 385.02,60.96 385.44,61.03 385.86,61.11 386.28,61.18 386.71,61.26 387.14,61.34 387.57,61.42 388.00,61.50 388.43,61.58 388.87,61.65 389.31,61.73 389.76,61.80 390.20,61.87 390.65,61.94 391.11,62.01 391.56,62.08 392.02,62.16 392.49,62.24 392.95,62.33 393.42,62.42 393.90,62.52 394.37,62.63 394.85,62.75 395.34,62.88 395.82,63.01 396.31,63.16 396.80,63.32 397.30,63.50 397.80,63.68 398.31,63.87 398.82,64.05 399.34,64.24 399.86,64.43 400.39,64.63 400.92,64.84 401.45,65.05 401.99,65.28 402.52,65.51 403.06,65.76 403.60,66.02 404.15,66.30 404.69,66.60 405.23,66.91 405.77,67.25 406.30,67.60 406.84,67.98 407.37,68.38 407.90,68.80 408.43,69.26 408.95,69.76 409.48,70.30 410.00,70.88 410.53,71.48 411.05,72.10 411.58,72.75 412.10,73.41 412.63,74.09 413.15,74.77 413.67,75.45 414.20,76.13 414.72,76.81 415.25,77.48 415.77,78.13 416.30,78.76 416.82,79.36 417.35,79.94 417.87,80.49 418.40,81.00 418.93,81.48 419.46,81.93 419.98,82.37 420.51,82.78 421.04,83.18 421.57,83.56 422.10,83.92 422.63,84.28 423.16,84.63 423.69,84.97 424.22,85.30 424.76,85.63 425.29,85.96 425.82,86.29 426.35,86.63 426.88,86.96 427.41,87.31 427.94,87.66 428.47,88.02 429.00,88.40 429.53,88.78 430.06,89.17 430.59,89.56 431.12,89.96 431.65,90.35 432.18,90.75 432.71,91.15 433.24,91.55 433.78,91.95 434.31,92.35 434.84,92.75 435.37,93.15 435.90,93.55 436.43,93.95 436.96,94.35 437.49,94.74 438.02,95.14 438.54,95.53 439.07,95.92 439.60,96.30 440.14,96.69 440.70,97.09 441.28,97.51 441.87,97.93 442.48,98.36 443.09,98.79 443.70,99.22 444.31,99.65 444.92,100.08 445.51,100.49 446.10,100.90 446.66,101.30 447.21,101.68 447.72,102.04 448.22,102.38 448.67,102.70 449.09,103.00 449.48,103.26 449.81,103.50 450.10,103.70" fill="none" stroke="#000" stroke-width="0.8" stroke-linejoin="round" />
<rect x="286.80" y="221.70" width="5.6" height="5.6" fill="#fff" stroke="#000" stroke-width="1.2"/>
<rect x="287.80" y="221.00" width="5.6" height="5.6" fill="#fff" stroke="#000" stroke-width="1.2"/>
<rect x="288.80" y="220.70" width="5.6" height="5.6" fill="#fff" stroke="#000" stroke-width="1.2"/>
<rect x="289.90" y="212.10" width="5.6" height="5.6" fill="#fff" stroke="#000" stroke-width="1.2"/>
<rect x="291.00" y="191.30" width="5.6" height="5.6" fill="#fff" stroke="#000" stroke-width="1.2"/>
<rect x="292.20" y="136.30" width="5.6" height="5.6" fill="#fff" stroke="#000" stroke-width="1.2"/>
<rect x="292.10" y="94.70" width="5.6" height="5.6" fill="#fff" stroke="#000" stroke-width="1.2"/>
<rect x="294.60" y="82.70" width="5.6" height="5.6" fill="#fff" stroke="#000" stroke-width="1.2"/>
<rect x="294.80" y="94.80" width="5.6" height="5.6" fill="#fff" stroke="#000" stroke-width="1.2"/>
<rect x="296.80" y="105.90" width="5.6" height="5.6" fill="#fff" stroke="#000" stroke-width="1.2"/>
<rect x="298.00" y="121.30" width="5.6" height="5.6" fill="#fff" stroke="#000" stroke-width="1.2"/>
<rect x="298.60" y="136.30" width="5.6" height="5.6" fill="#fff" stroke="#000" stroke-width="1.2"/>
<rect x="299.70" y="144.40" width="5.6" height="5.6" fill="#fff" stroke="#000" stroke-width="1.2"/>
<rect x="301.50" y="154.20" width="5.6" height="5.6" fill="#fff" stroke="#000" stroke-width="1.2"/>
<rect x="302.60" y="159.40" width="5.6" height="5.6" fill="#fff" stroke="#000" stroke-width="1.2"/>
<rect x="304.90" y="163.50" width="5.6" height="5.6" fill="#fff" stroke="#000" stroke-width="1.2"/>
<rect x="304.90" y="164.20" width="5.6" height="5.6" fill="#fff" stroke="#000" stroke-width="1.2"/>
<rect x="306.40" y="166.23" width="5.6" height="5.6" fill="#fff" stroke="#000" stroke-width="1.2"/>
<rect x="307.90" y="168.56" width="5.6" height="5.6" fill="#fff" stroke="#000" stroke-width="1.2"/>
<rect x="309.40" y="171.32" width="5.6" height="5.6" fill="#fff" stroke="#000" stroke-width="1.2"/>
<rect x="310.90" y="173.10" width="5.6" height="5.6" fill="#fff" stroke="#000" stroke-width="1.2"/>
<rect x="312.40" y="174.87" width="5.6" height="5.6" fill="#fff" stroke="#000" stroke-width="1.2"/>
<rect x="313.90" y="174.23" width="5.6" height="5.6" fill="#fff" stroke="#000" stroke-width="1.2"/>
<rect x="315.40" y="175.23" width="5.6" height="5.6" fill="#fff" stroke="#000" stroke-width="1.2"/>
<rect x="316.90" y="174.85" width="5.6" height="5.6" fill="#fff" stroke="#000" stroke-width="1.2"/>
<rect x="318.40" y="173.75" width="5.6" height="5.6" fill="#fff" stroke="#000" stroke-width="1.2"/>
<rect x="319.90" y="171.33" width="5.6" height="5.6" fill="#fff" stroke="#000" stroke-width="1.2"/>
<rect x="321.40" y="169.14" width="5.6" height="5.6" fill="#fff" stroke="#000" stroke-width="1.2"/>
<rect x="322.90" y="167.58" width="5.6" height="5.6" fill="#fff" stroke="#000" stroke-width="1.2"/>
<rect x="324.40" y="164.04" width="5.6" height="5.6" fill="#fff" stroke="#000" stroke-width="1.2"/>
<rect x="325.90" y="159.60" width="5.6" height="5.6" fill="#fff" stroke="#000" stroke-width="1.2"/>
<rect x="327.40" y="154.75" width="5.6" height="5.6" fill="#fff" stroke="#000" stroke-width="1.2"/>
<rect x="328.90" y="148.70" width="5.6" height="5.6" fill="#fff" stroke="#000" stroke-width="1.2"/>
<rect x="330.40" y="143.56" width="5.6" height="5.6" fill="#fff" stroke="#000" stroke-width="1.2"/>
<rect x="331.90" y="141.34" width="5.6" height="5.6" fill="#fff" stroke="#000" stroke-width="1.2"/>
<rect x="333.40" y="137.73" width="5.6" height="5.6" fill="#fff" stroke="#000" stroke-width="1.2"/>
<rect x="334.90" y="136.09" width="5.6" height="5.6" fill="#fff" stroke="#000" stroke-width="1.2"/>
<rect x="336.40" y="132.25" width="5.6" height="5.6" fill="#fff" stroke="#000" stroke-width="1.2"/>
<rect x="337.90" y="127.26" width="5.6" height="5.6" fill="#fff" stroke="#000" stroke-width="1.2"/>
<rect x="339.40" y="122.69" width="5.6" height="5.6" fill="#fff" stroke="#000" stroke-width="1.2"/>
<rect x="340.90" y="118.84" width="5.6" height="5.6" fill="#fff" stroke="#000" stroke-width="1.2"/>
<rect x="342.40" y="114.91" width="5.6" height="5.6" fill="#fff" stroke="#000" stroke-width="1.2"/>
<rect x="343.90" y="112.24" width="5.6" height="5.6" fill="#fff" stroke="#000" stroke-width="1.2"/>
<rect x="345.40" y="108.17" width="5.6" height="5.6" fill="#fff" stroke="#000" stroke-width="1.2"/>
<rect x="346.90" y="105.05" width="5.6" height="5.6" fill="#fff" stroke="#000" stroke-width="1.2"/>
<rect x="348.40" y="101.48" width="5.6" height="5.6" fill="#fff" stroke="#000" stroke-width="1.2"/>
<rect x="349.90" y="97.58" width="5.6" height="5.6" fill="#fff" stroke="#000" stroke-width="1.2"/>
<rect x="351.40" y="92.30" width="5.6" height="5.6" fill="#fff" stroke="#000" stroke-width="1.2"/>
<rect x="352.90" y="88.60" width="5.6" height="5.6" fill="#fff" stroke="#000" stroke-width="1.2"/>
<rect x="354.40" y="82.57" width="5.6" height="5.6" fill="#fff" stroke="#000" stroke-width="1.2"/>
<rect x="355.90" y="78.39" width="5.6" height="5.6" fill="#fff" stroke="#000" stroke-width="1.2"/>
<rect x="357.40" y="73.77" width="5.6" height="5.6" fill="#fff" stroke="#000" stroke-width="1.2"/>
<rect x="358.86" y="71.69" width="5.8" height="5.8" fill="#fff" stroke="#000" stroke-width="1.3"/>
<rect x="359.61" y="68.86" width="5.8" height="5.8" fill="#fff" stroke="#000" stroke-width="1.3"/>
<rect x="360.36" y="68.23" width="5.8" height="5.8" fill="#fff" stroke="#000" stroke-width="1.3"/>
<rect x="361.11" y="66.73" width="5.8" height="5.8" fill="#fff" stroke="#000" stroke-width="1.3"/>
<rect x="361.86" y="65.42" width="5.8" height="5.8" fill="#fff" stroke="#000" stroke-width="1.3"/>
<rect x="362.61" y="63.78" width="5.8" height="5.8" fill="#fff" stroke="#000" stroke-width="1.3"/>
<rect x="363.36" y="63.16" width="5.8" height="5.8" fill="#fff" stroke="#000" stroke-width="1.3"/>
<rect x="364.11" y="63.18" width="5.8" height="5.8" fill="#fff" stroke="#000" stroke-width="1.3"/>
<rect x="364.86" y="61.38" width="5.8" height="5.8" fill="#fff" stroke="#000" stroke-width="1.3"/>
<rect x="365.61" y="61.04" width="5.8" height="5.8" fill="#fff" stroke="#000" stroke-width="1.3"/>
<rect x="366.36" y="60.76" width="5.8" height="5.8" fill="#fff" stroke="#000" stroke-width="1.3"/>
<rect x="367.11" y="59.54" width="5.8" height="5.8" fill="#fff" stroke="#000" stroke-width="1.3"/>
<rect x="367.86" y="58.45" width="5.8" height="5.8" fill="#fff" stroke="#000" stroke-width="1.3"/>
<rect x="368.61" y="58.45" width="5.8" height="5.8" fill="#fff" stroke="#000" stroke-width="1.3"/>
<rect x="369.36" y="59.05" width="5.8" height="5.8" fill="#fff" stroke="#000" stroke-width="1.3"/>
<rect x="370.11" y="57.09" width="5.8" height="5.8" fill="#fff" stroke="#000" stroke-width="1.3"/>
<rect x="370.86" y="57.42" width="5.8" height="5.8" fill="#fff" stroke="#000" stroke-width="1.3"/>
<rect x="371.61" y="58.15" width="5.8" height="5.8" fill="#fff" stroke="#000" stroke-width="1.3"/>
<rect x="372.36" y="57.85" width="5.8" height="5.8" fill="#fff" stroke="#000" stroke-width="1.3"/>
<rect x="373.11" y="57.28" width="5.8" height="5.8" fill="#fff" stroke="#000" stroke-width="1.3"/>
<rect x="373.86" y="57.72" width="5.8" height="5.8" fill="#fff" stroke="#000" stroke-width="1.3"/>
<rect x="374.61" y="57.34" width="5.8" height="5.8" fill="#fff" stroke="#000" stroke-width="1.3"/>
<rect x="375.36" y="56.57" width="5.8" height="5.8" fill="#fff" stroke="#000" stroke-width="1.3"/>
<rect x="376.11" y="56.39" width="5.8" height="5.8" fill="#fff" stroke="#000" stroke-width="1.3"/>
<rect x="376.86" y="57.00" width="5.8" height="5.8" fill="#fff" stroke="#000" stroke-width="1.3"/>
<rect x="377.61" y="57.99" width="5.8" height="5.8" fill="#fff" stroke="#000" stroke-width="1.3"/>
<rect x="378.36" y="57.17" width="5.8" height="5.8" fill="#fff" stroke="#000" stroke-width="1.3"/>
<rect x="379.11" y="57.06" width="5.8" height="5.8" fill="#fff" stroke="#000" stroke-width="1.3"/>
<rect x="379.86" y="57.24" width="5.8" height="5.8" fill="#fff" stroke="#000" stroke-width="1.3"/>
<rect x="380.61" y="56.89" width="5.8" height="5.8" fill="#fff" stroke="#000" stroke-width="1.3"/>
<rect x="381.36" y="57.86" width="5.8" height="5.8" fill="#fff" stroke="#000" stroke-width="1.3"/>
<rect x="382.11" y="57.35" width="5.8" height="5.8" fill="#fff" stroke="#000" stroke-width="1.3"/>
<rect x="382.86" y="58.41" width="5.8" height="5.8" fill="#fff" stroke="#000" stroke-width="1.3"/>
<rect x="383.61" y="56.91" width="5.8" height="5.8" fill="#fff" stroke="#000" stroke-width="1.3"/>
<rect x="384.36" y="58.66" width="5.8" height="5.8" fill="#fff" stroke="#000" stroke-width="1.3"/>
<rect x="385.11" y="58.22" width="5.8" height="5.8" fill="#fff" stroke="#000" stroke-width="1.3"/>
<rect x="385.86" y="57.57" width="5.8" height="5.8" fill="#fff" stroke="#000" stroke-width="1.3"/>
<rect x="386.61" y="59.29" width="5.8" height="5.8" fill="#fff" stroke="#000" stroke-width="1.3"/>
<rect x="387.36" y="58.81" width="5.8" height="5.8" fill="#fff" stroke="#000" stroke-width="1.3"/>
<rect x="388.11" y="57.76" width="5.8" height="5.8" fill="#fff" stroke="#000" stroke-width="1.3"/>
<rect x="388.86" y="58.69" width="5.8" height="5.8" fill="#fff" stroke="#000" stroke-width="1.3"/>
<rect x="389.61" y="59.52" width="5.8" height="5.8" fill="#fff" stroke="#000" stroke-width="1.3"/>
<rect x="390.36" y="59.22" width="5.8" height="5.8" fill="#fff" stroke="#000" stroke-width="1.3"/>
<rect x="391.11" y="60.12" width="5.8" height="5.8" fill="#fff" stroke="#000" stroke-width="1.3"/>
<rect x="391.86" y="60.28" width="5.8" height="5.8" fill="#fff" stroke="#000" stroke-width="1.3"/>
<rect x="392.61" y="60.43" width="5.8" height="5.8" fill="#fff" stroke="#000" stroke-width="1.3"/>
<rect x="393.36" y="60.44" width="5.8" height="5.8" fill="#fff" stroke="#000" stroke-width="1.3"/>
<rect x="394.11" y="61.30" width="5.8" height="5.8" fill="#fff" stroke="#000" stroke-width="1.3"/>
<rect x="394.86" y="61.16" width="5.8" height="5.8" fill="#fff" stroke="#000" stroke-width="1.3"/>
<rect x="395.61" y="61.31" width="5.8" height="5.8" fill="#fff" stroke="#000" stroke-width="1.3"/>
<rect x="396.36" y="60.06" width="5.8" height="5.8" fill="#fff" stroke="#000" stroke-width="1.3"/>
<rect x="397.11" y="62.13" width="5.8" height="5.8" fill="#fff" stroke="#000" stroke-width="1.3"/>
<rect x="397.86" y="62.66" width="5.8" height="5.8" fill="#fff" stroke="#000" stroke-width="1.3"/>
<rect x="398.61" y="62.00" width="5.8" height="5.8" fill="#fff" stroke="#000" stroke-width="1.3"/>
<rect x="399.36" y="62.22" width="5.8" height="5.8" fill="#fff" stroke="#000" stroke-width="1.3"/>
<rect x="400.11" y="64.00" width="5.8" height="5.8" fill="#fff" stroke="#000" stroke-width="1.3"/>
<rect x="400.86" y="62.15" width="5.8" height="5.8" fill="#fff" stroke="#000" stroke-width="1.3"/>
<rect x="401.61" y="63.89" width="5.8" height="5.8" fill="#fff" stroke="#000" stroke-width="1.3"/>
<rect x="402.36" y="65.49" width="5.8" height="5.8" fill="#fff" stroke="#000" stroke-width="1.3"/>
<rect x="403.11" y="63.95" width="5.8" height="5.8" fill="#fff" stroke="#000" stroke-width="1.3"/>
<rect x="403.86" y="65.44" width="5.8" height="5.8" fill="#fff" stroke="#000" stroke-width="1.3"/>
<rect x="404.61" y="66.72" width="5.8" height="5.8" fill="#fff" stroke="#000" stroke-width="1.3"/>
<rect x="405.36" y="66.14" width="5.8" height="5.8" fill="#fff" stroke="#000" stroke-width="1.3"/>
<rect x="406.11" y="67.26" width="5.8" height="5.8" fill="#fff" stroke="#000" stroke-width="1.3"/>
<rect x="406.86" y="68.25" width="5.8" height="5.8" fill="#fff" stroke="#000" stroke-width="1.3"/>
<rect x="407.61" y="68.01" width="5.8" height="5.8" fill="#fff" stroke="#000" stroke-width="1.3"/>
<rect x="408.36" y="69.41" width="5.8" height="5.8" fill="#fff" stroke="#000" stroke-width="1.3"/>
<rect x="409.11" y="70.58" width="5.8" height="5.8" fill="#fff" stroke="#000" stroke-width="1.3"/>
<rect x="409.86" y="71.86" width="5.8" height="5.8" fill="#fff" stroke="#000" stroke-width="1.3"/>
<rect x="410.61" y="72.32" width="5.8" height="5.8" fill="#fff" stroke="#000" stroke-width="1.3"/>
<rect x="411.36" y="73.20" width="5.8" height="5.8" fill="#fff" stroke="#000" stroke-width="1.3"/>
<rect x="412.11" y="73.67" width="5.8" height="5.8" fill="#fff" stroke="#000" stroke-width="1.3"/>
<rect x="412.86" y="75.00" width="5.8" height="5.8" fill="#fff" stroke="#000" stroke-width="1.3"/>
<rect x="413.61" y="76.64" width="5.8" height="5.8" fill="#fff" stroke="#000" stroke-width="1.3"/>
<rect x="414.36" y="77.01" width="5.8" height="5.8" fill="#fff" stroke="#000" stroke-width="1.3"/>
<rect x="415.11" y="77.21" width="5.8" height="5.8" fill="#fff" stroke="#000" stroke-width="1.3"/>
<rect x="415.86" y="77.92" width="5.8" height="5.8" fill="#fff" stroke="#000" stroke-width="1.3"/>
<rect x="416.61" y="80.68" width="5.8" height="5.8" fill="#fff" stroke="#000" stroke-width="1.3"/>
<rect x="417.36" y="80.37" width="5.8" height="5.8" fill="#fff" stroke="#000" stroke-width="1.3"/>
<rect x="418.11" y="80.64" width="5.8" height="5.8" fill="#fff" stroke="#000" stroke-width="1.3"/>
<rect x="418.86" y="79.23" width="5.8" height="5.8" fill="#fff" stroke="#000" stroke-width="1.3"/>
<rect x="419.61" y="81.67" width="5.8" height="5.8" fill="#fff" stroke="#000" stroke-width="1.3"/>
<rect x="420.36" y="82.08" width="5.8" height="5.8" fill="#fff" stroke="#000" stroke-width="1.3"/>
<rect x="421.11" y="83.28" width="5.8" height="5.8" fill="#fff" stroke="#000" stroke-width="1.3"/>
<rect x="421.86" y="83.00" width="5.8" height="5.8" fill="#fff" stroke="#000" stroke-width="1.3"/>
<rect x="422.61" y="83.16" width="5.8" height="5.8" fill="#fff" stroke="#000" stroke-width="1.3"/>
<rect x="423.36" y="83.99" width="5.8" height="5.8" fill="#fff" stroke="#000" stroke-width="1.3"/>
<rect x="424.11" y="82.99" width="5.8" height="5.8" fill="#fff" stroke="#000" stroke-width="1.3"/>
<rect x="424.86" y="85.26" width="5.8" height="5.8" fill="#fff" stroke="#000" stroke-width="1.3"/>
<rect x="425.61" y="85.35" width="5.8" height="5.8" fill="#fff" stroke="#000" stroke-width="1.3"/>
<rect x="426.36" y="85.27" width="5.8" height="5.8" fill="#fff" stroke="#000" stroke-width="1.3"/>
<rect x="427.11" y="87.03" width="5.8" height="5.8" fill="#fff" stroke="#000" stroke-width="1.3"/>
<rect x="427.86" y="87.88" width="5.8" height="5.8" fill="#fff" stroke="#000" stroke-width="1.3"/>
<rect x="428.61" y="86.51" width="5.8" height="5.8" fill="#fff" stroke="#000" stroke-width="1.3"/>
<rect x="429.36" y="87.51" width="5.8" height="5.8" fill="#fff" stroke="#000" stroke-width="1.3"/>
<rect x="430.11" y="88.65" width="5.8" height="5.8" fill="#fff" stroke="#000" stroke-width="1.3"/>
<rect x="430.86" y="89.15" width="5.8" height="5.8" fill="#fff" stroke="#000" stroke-width="1.3"/>
<rect x="431.61" y="89.37" width="5.8" height="5.8" fill="#fff" stroke="#000" stroke-width="1.3"/>
<rect x="432.36" y="89.59" width="5.8" height="5.8" fill="#fff" stroke="#000" stroke-width="1.3"/>
<rect x="433.11" y="92.01" width="5.8" height="5.8" fill="#fff" stroke="#000" stroke-width="1.3"/>
<rect x="433.86" y="91.92" width="5.8" height="5.8" fill="#fff" stroke="#000" stroke-width="1.3"/>
<rect x="434.61" y="91.15" width="5.8" height="5.8" fill="#fff" stroke="#000" stroke-width="1.3"/>
<rect x="435.36" y="91.61" width="5.8" height="5.8" fill="#fff" stroke="#000" stroke-width="1.3"/>
<rect x="436.11" y="93.99" width="5.8" height="5.8" fill="#fff" stroke="#000" stroke-width="1.3"/>
<rect x="436.86" y="94.11" width="5.8" height="5.8" fill="#fff" stroke="#000" stroke-width="1.3"/>
<rect x="437.61" y="95.15" width="5.8" height="5.8" fill="#fff" stroke="#000" stroke-width="1.3"/>
<rect x="438.36" y="95.08" width="5.8" height="5.8" fill="#fff" stroke="#000" stroke-width="1.3"/>
<rect x="439.11" y="94.61" width="5.8" height="5.8" fill="#fff" stroke="#000" stroke-width="1.3"/>
<rect x="439.86" y="95.82" width="5.8" height="5.8" fill="#fff" stroke="#000" stroke-width="1.3"/>
<rect x="440.61" y="94.89" width="5.8" height="5.8" fill="#fff" stroke="#000" stroke-width="1.3"/>
<rect x="441.36" y="96.27" width="5.8" height="5.8" fill="#fff" stroke="#000" stroke-width="1.3"/>
<rect x="442.11" y="97.21" width="5.8" height="5.8" fill="#fff" stroke="#000" stroke-width="1.3"/>
<rect x="442.86" y="98.08" width="5.8" height="5.8" fill="#fff" stroke="#000" stroke-width="1.3"/>
<rect x="443.61" y="97.86" width="5.8" height="5.8" fill="#fff" stroke="#000" stroke-width="1.3"/>
<rect x="444.36" y="98.74" width="5.8" height="5.8" fill="#fff" stroke="#000" stroke-width="1.3"/>
<rect x="445.11" y="99.62" width="5.8" height="5.8" fill="#fff" stroke="#000" stroke-width="1.3"/>
<rect x="445.86" y="100.09" width="5.8" height="5.8" fill="#fff" stroke="#000" stroke-width="1.3"/>
<rect x="446.61" y="100.77" width="5.8" height="5.8" fill="#fff" stroke="#000" stroke-width="1.3"/>
<rect x="369.3" y="56.1" width="9.5" height="9" fill="#800080"/>
<text transform="translate(473.00,16.70) scale(0.99,1)" font-size="20.3" text-anchor="start" fill="#000" font-weight="bold" >c</text>
<line x1="539.90" y1="48.70" x2="539.90" y2="286.50" stroke="#000" stroke-width="1.1" />
<line x1="534.20" y1="64.15" x2="539.90" y2="64.15" stroke="#000" stroke-width="1.1" />
<text transform="translate(530.50,68.45) scale(1.02,1)" font-size="12" text-anchor="end" fill="#000" font-weight="normal" >1,000</text>
<line x1="534.20" y1="103.06" x2="539.90" y2="103.06" stroke="#000" stroke-width="1.1" />
<text transform="translate(530.50,107.36) scale(1.02,1)" font-size="12" text-anchor="end" fill="#000" font-weight="normal" >750</text>
<line x1="534.20" y1="141.98" x2="539.90" y2="141.98" stroke="#000" stroke-width="1.1" />
<text transform="translate(530.50,146.28) scale(1.02,1)" font-size="12" text-anchor="end" fill="#000" font-weight="normal" >500</text>
<line x1="534.20" y1="180.89" x2="539.90" y2="180.89" stroke="#000" stroke-width="1.1" />
<text transform="translate(530.50,185.19) scale(1.02,1)" font-size="12" text-anchor="end" fill="#000" font-weight="normal" >250</text>
<line x1="534.20" y1="258.71" x2="539.90" y2="258.71" stroke="#000" stroke-width="1.1" />
<text transform="translate(530.50,263.01) scale(1.02,1)" font-size="12" text-anchor="end" fill="#000" font-weight="normal" >−250</text>
<line x1="474.80" y1="219.80" x2="604.80" y2="219.80" stroke="#000" stroke-width="1.1" />
<line x1="488.05" y1="219.80" x2="488.05" y2="225.80" stroke="#000" stroke-width="1.1" />
<text transform="translate(492.35,227.6) rotate(-90) scale(1.02,1)" font-size="12" text-anchor="end" fill="#000">−100</text>
<line x1="513.98" y1="219.80" x2="513.98" y2="225.80" stroke="#000" stroke-width="1.1" />
<text transform="translate(518.27,227.6) rotate(-90) scale(1.02,1)" font-size="12" text-anchor="end" fill="#000">−50</text>
<line x1="565.82" y1="219.80" x2="565.82" y2="225.80" stroke="#000" stroke-width="1.1" />
<text transform="translate(570.12,227.6) rotate(-90) scale(1.02,1)" font-size="12" text-anchor="end" fill="#000">50</text>
<line x1="591.75" y1="219.80" x2="591.75" y2="225.80" stroke="#000" stroke-width="1.1" />
<text transform="translate(596.05,227.6) rotate(-90) scale(1.02,1)" font-size="12" text-anchor="end" fill="#000">100</text>
<text transform="translate(549.3,268.8) scale(1.02,1)" font-size="12" fill="#000"><tspan font-style="italic">V</tspan><tspan font-size="8.5" dy="3.5">m</tspan><tspan dy="-3.5"> (mV)</tspan></text>
<text transform="translate(489.00,137.70) rotate(-90) scale(1.0380,1)" font-size="13" text-anchor="middle" fill="#000">Current density (pA pF<tspan font-size="9.1" dy="-5">−1</tspan><tspan dy="5">)</tspan></text>
<polyline points="474.80,276.70 474.85,275.88 474.92,274.80 475.01,273.51 475.10,272.07 475.20,270.54 475.30,268.98 475.40,267.45 475.50,266.00 475.59,264.57 475.68,263.09 475.78,261.57 475.87,260.05 475.97,258.55 476.07,257.11 476.18,255.75 476.30,254.50 476.43,253.36 476.55,252.29 476.69,251.29 476.83,250.36 476.97,249.47 477.13,248.62 477.31,247.80 477.50,247.00 477.70,246.22 477.92,245.47 478.15,244.76 478.39,244.09 478.64,243.45 478.91,242.86 479.20,242.31 479.50,241.80 479.82,241.35 480.17,240.96 480.53,240.62 480.91,240.31 481.30,240.04 481.70,239.78 482.10,239.54 482.50,239.30 482.89,239.07 483.26,238.86 483.63,238.66 484.01,238.49 484.41,238.33 484.85,238.18 485.34,238.03 485.90,237.90 486.53,237.78 487.23,237.67 487.97,237.57 488.76,237.49 489.56,237.41 490.38,237.34 491.20,237.27 492.00,237.20 492.79,237.14 493.60,237.10 494.41,237.07 495.23,237.04 496.04,237.00 496.87,236.96 497.68,236.89 498.50,236.80 499.30,236.69 500.09,236.58 500.88,236.46 501.67,236.32 502.47,236.17 503.28,235.98 504.13,235.76 505.00,235.50 505.91,235.19 506.86,234.84 507.83,234.45 508.81,234.04 509.81,233.61 510.81,233.17 511.81,232.73 512.80,232.30 513.80,231.88 514.84,231.46 515.89,231.04 516.94,230.61 517.96,230.18 518.94,229.73 519.86,229.27 520.70,228.80 521.45,228.31 522.12,227.82 522.73,227.31 523.30,226.79 523.84,226.26 524.38,225.72 524.93,225.17 525.50,224.60 526.09,224.02 526.68,223.42 527.27,222.81 527.85,222.19 528.43,221.55 529.02,220.91 529.61,220.26 530.20,219.60 530.80,218.93 531.39,218.26 531.99,217.57 532.59,216.88 533.20,216.18 533.80,215.46 534.40,214.74 535.00,214.00 535.57,213.29 536.09,212.64 536.59,212.00 537.11,211.34 537.66,210.61 538.27,209.79 538.98,208.83 539.80,207.70 540.77,206.37 541.88,204.87 543.09,203.23 544.36,201.50 545.65,199.70 546.93,197.88 548.16,196.07 549.30,194.30 550.35,192.61 551.34,190.97 552.30,189.34 553.23,187.69 554.17,185.97 555.13,184.14 556.13,182.16 557.20,180.00 558.33,177.63 559.49,175.10 560.69,172.42 561.92,169.63 563.17,166.76 564.44,163.84 565.71,160.91 567.00,158.00 568.31,155.06 569.66,152.06 571.04,149.00 572.42,145.91 573.81,142.82 575.17,139.74 576.51,136.69 577.80,133.70 579.04,130.79 580.25,127.95 581.42,125.16 582.58,122.37 583.73,119.56 584.88,116.70 586.03,113.76 587.20,110.70 588.39,107.50 589.59,104.19 590.80,100.79 592.01,97.34 593.21,93.88 594.39,90.42 595.56,87.02 596.70,83.70 597.87,80.28 599.09,76.66 600.33,72.98 601.54,69.36 602.68,65.96 603.70,62.91 604.55,60.34 605.20,58.40" fill="none" stroke="#800080" stroke-width="1.6" stroke-linejoin="round" />
<polyline points="474.80,229.25 474.85,228.97 474.92,229.00 475.01,228.57 475.10,228.09 475.20,227.84 475.30,227.69 475.40,227.40 475.50,227.23 475.58,227.02 475.64,226.90 475.69,226.69 475.74,226.32 475.82,226.56 475.93,226.56 476.08,226.27 476.30,225.96 476.54,225.89 476.78,225.35 477.05,224.90 477.36,225.07 477.73,224.59 478.20,224.71 478.78,224.08 479.50,223.52 480.36,223.68 481.36,224.08 482.46,223.48 483.66,223.11 484.93,223.09 486.25,223.23 487.62,223.07 489.00,222.84 490.41,222.96 491.88,222.63 493.39,222.30 494.95,222.27 496.56,222.34 498.22,222.02 499.94,221.88 501.70,221.26 503.56,221.32 505.53,221.36 507.57,220.99 509.66,221.15 511.74,220.91 513.78,220.85 515.75,220.48 517.60,220.96 519.42,220.55 521.28,220.11 523.12,220.06 524.89,220.50 526.54,219.75 528.01,219.93 529.25,219.88 530.20,219.44 531.10,219.03 532.00,219.17 532.90,219.06 533.80,219.07 534.70,218.84 535.60,218.51 536.50,218.53 537.40,218.29 538.30,218.05 539.20,217.83 540.10,217.58 541.00,217.59 541.90,217.01 542.80,216.90 543.70,216.82 544.60,216.27 545.50,216.26 546.40,215.67 547.30,215.70 548.20,215.70 549.10,215.42 550.00,214.99 550.90,214.64 551.80,214.06 552.70,214.43 553.60,213.79 554.50,213.55 555.40,212.73 556.30,212.48 557.20,211.69 558.10,211.82 559.00,211.40 559.90,210.30 560.80,210.20 561.70,209.83 562.60,208.76 563.50,208.18 564.40,207.76 565.30,207.25 566.20,206.44 567.10,206.10 568.00,205.46 568.90,204.84 569.80,204.11 570.70,203.52 571.60,202.66 572.50,201.29 573.40,200.62 574.30,199.62 575.20,198.70 576.10,197.98 577.00,197.03 577.90,196.13 578.80,194.64 579.70,193.65 580.60,192.81 581.50,191.63 582.40,190.43 583.30,189.28 584.20,187.88 585.10,186.92 586.00,185.52 586.90,184.07 587.80,182.54 588.70,181.22 589.60,179.18 590.50,178.04 591.40,176.71 592.30,174.77 593.20,173.50 594.10,171.81 595.00,169.74 595.90,168.22 596.80,166.38 597.70,164.69 598.60,162.81 599.50,160.71 600.40,158.53 601.30,156.63 602.20,154.55 603.10,152.58 604.00,150.28" fill="none" stroke="#000" stroke-width="1.9" stroke-linejoin="round" />
<text transform="translate(626.50,16.70) scale(0.99,1)" font-size="20.3" text-anchor="start" fill="#000" font-weight="bold" >d</text>
<line x1="682.20" y1="48.30" x2="682.20" y2="286.30" stroke="#000" stroke-width="1.1" />
<line x1="676.60" y1="286.30" x2="800.80" y2="286.30" stroke="#000" stroke-width="1.1" />
<line x1="676.60" y1="48.30" x2="682.20" y2="48.30" stroke="#000" stroke-width="1.1" />
<text transform="translate(671.00,53.00) scale(1.06,1)" font-size="13" text-anchor="end" fill="#000" font-weight="normal" >600</text>
<line x1="676.60" y1="107.80" x2="682.20" y2="107.80" stroke="#000" stroke-width="1.1" />
<text transform="translate(671.00,112.50) scale(1.06,1)" font-size="13" text-anchor="end" fill="#000" font-weight="normal" >450</text>
<line x1="676.60" y1="167.30" x2="682.20" y2="167.30" stroke="#000" stroke-width="1.1" />
<text transform="translate(671.00,172.00) scale(1.06,1)" font-size="13" text-anchor="end" fill="#000" font-weight="normal" >300</text>
<line x1="676.60" y1="226.80" x2="682.20" y2="226.80" stroke="#000" stroke-width="1.1" />
<text transform="translate(671.00,231.50) scale(1.06,1)" font-size="13" text-anchor="end" fill="#000" font-weight="normal" >150</text>
<line x1="676.60" y1="286.30" x2="682.20" y2="286.30" stroke="#000" stroke-width="1.1" />
<text transform="translate(671.00,291.00) scale(1.06,1)" font-size="13" text-anchor="end" fill="#000" font-weight="normal" >0</text>
<rect x="684.90" y="209.35" width="23.40" height="76.95" fill="#000" />
<line x1="696.60" y1="189.51" x2="696.60" y2="209.35" stroke="#000" stroke-width="1.1" />
<line x1="688.90" y1="189.51" x2="704.30" y2="189.51" stroke="#000" stroke-width="1.1" />
<rect x="708.90" y="137.55" width="23.60" height="148.75" fill="#800080" />
<line x1="720.70" y1="103.83" x2="720.70" y2="137.55" stroke="#800080" stroke-width="1.1" />
<line x1="713.00" y1="103.83" x2="728.40" y2="103.83" stroke="#800080" stroke-width="1.1" />
<rect x="751.00" y="264.48" width="23.20" height="21.82" fill="#000" />
<line x1="762.60" y1="257.74" x2="762.60" y2="264.48" stroke="#000" stroke-width="1.1" />
<line x1="754.90" y1="257.74" x2="770.30" y2="257.74" stroke="#000" stroke-width="1.1" />
<rect x="774.80" y="241.87" width="23.90" height="44.43" fill="#800080" />
<line x1="786.75" y1="233.94" x2="786.75" y2="241.87" stroke="#800080" stroke-width="1.1" />
<line x1="779.05" y1="233.94" x2="794.45" y2="233.94" stroke="#800080" stroke-width="1.1" />
<polyline points="696.70,167.20 696.70,90.50 721.00,90.50 721.00,95.60" fill="none" stroke="#000" stroke-width="1.1" stroke-linejoin="round" stroke-linejoin="miter"/>
<path d="M705.55,78.30 L706.34,80.21 L708.40,80.37 L706.83,81.72 L707.31,83.73 L705.55,82.65 L703.79,83.73 L704.27,81.72 L702.70,80.37 L704.76,80.21 Z" fill="#000" stroke="#000" stroke-width="0.5" stroke-linejoin="round"/>
<path d="M712.65,78.30 L713.44,80.21 L715.50,80.37 L713.93,81.72 L714.41,83.73 L712.65,82.65 L710.89,83.73 L711.37,81.72 L709.80,80.37 L711.86,80.21 Z" fill="#000" stroke="#000" stroke-width="0.5" stroke-linejoin="round"/>
<polyline points="762.70,249.00 762.70,226.10 787.50,226.10 787.50,229.20" fill="none" stroke="#000" stroke-width="1.1" stroke-linejoin="round" stroke-linejoin="miter"/>
<path d="M771.65,213.30 L772.44,215.21 L774.50,215.37 L772.93,216.72 L773.41,218.73 L771.65,217.65 L769.89,218.73 L770.37,216.72 L768.80,215.37 L770.86,215.21 Z" fill="#000" stroke="#000" stroke-width="0.5" stroke-linejoin="round"/>
<path d="M778.75,213.30 L779.54,215.21 L781.60,215.37 L780.03,216.72 L780.51,218.73 L778.75,217.65 L776.99,218.73 L777.47,216.72 L775.90,215.37 L777.96,215.21 Z" fill="#000" stroke="#000" stroke-width="0.5" stroke-linejoin="round"/>
<line x1="708.30" y1="286.30" x2="708.30" y2="292.80" stroke="#000" stroke-width="1.1" />
<line x1="774.40" y1="286.30" x2="774.40" y2="292.80" stroke="#000" stroke-width="1.1" />
<line x1="826.70" y1="48.50" x2="826.70" y2="286.20" stroke="#000" stroke-width="1.1" />
<line x1="821.10" y1="286.20" x2="946.00" y2="286.20" stroke="#000" stroke-width="1.1" />
<line x1="821.10" y1="48.50" x2="826.70" y2="48.50" stroke="#000" stroke-width="1.1" />
<text transform="translate(815.50,53.20) scale(1.06,1)" font-size="13" text-anchor="end" fill="#000" font-weight="normal" >25</text>
<line x1="821.10" y1="96.04" x2="826.70" y2="96.04" stroke="#000" stroke-width="1.1" />
<text transform="translate(815.50,100.74) scale(1.06,1)" font-size="13" text-anchor="end" fill="#000" font-weight="normal" >20</text>
<line x1="821.10" y1="143.58" x2="826.70" y2="143.58" stroke="#000" stroke-width="1.1" />
<text transform="translate(815.50,148.28) scale(1.06,1)" font-size="13" text-anchor="end" fill="#000" font-weight="normal" >15</text>
<line x1="821.10" y1="191.12" x2="826.70" y2="191.12" stroke="#000" stroke-width="1.1" />
<text transform="translate(815.50,195.82) scale(1.06,1)" font-size="13" text-anchor="end" fill="#000" font-weight="normal" >10</text>
<line x1="821.10" y1="238.66" x2="826.70" y2="238.66" stroke="#000" stroke-width="1.1" />
<text transform="translate(815.50,243.36) scale(1.06,1)" font-size="13" text-anchor="end" fill="#000" font-weight="normal" >5</text>
<line x1="821.10" y1="286.20" x2="826.70" y2="286.20" stroke="#000" stroke-width="1.1" />
<text transform="translate(815.50,290.90) scale(1.06,1)" font-size="13" text-anchor="end" fill="#000" font-weight="normal" >0</text>
<rect x="829.50" y="161.65" width="23.20" height="124.55" fill="#000" />
<line x1="841.10" y1="130.27" x2="841.10" y2="161.65" stroke="#000" stroke-width="1.1" />
<line x1="833.40" y1="130.27" x2="848.80" y2="130.27" stroke="#000" stroke-width="1.1" />
<rect x="853.30" y="190.17" width="23.50" height="96.03" fill="#800080" />
<line x1="865.05" y1="165.45" x2="865.05" y2="190.17" stroke="#800080" stroke-width="1.1" />
<line x1="857.35" y1="165.45" x2="872.75" y2="165.45" stroke="#800080" stroke-width="1.1" />
<rect x="896.20" y="206.33" width="22.70" height="79.87" fill="#000" />
<line x1="907.55" y1="191.12" x2="907.55" y2="206.33" stroke="#000" stroke-width="1.1" />
<line x1="899.85" y1="191.12" x2="915.25" y2="191.12" stroke="#000" stroke-width="1.1" />
<rect x="919.40" y="207.66" width="23.70" height="78.54" fill="#800080" />
<line x1="931.25" y1="190.17" x2="931.25" y2="207.66" stroke="#800080" stroke-width="1.1" />
<line x1="923.55" y1="190.17" x2="938.95" y2="190.17" stroke="#800080" stroke-width="1.1" />
<polyline points="841.40,115.70 841.40,110.60 866.40,110.60 866.40,134.60" fill="none" stroke="#000" stroke-width="1.1" stroke-linejoin="round" stroke-linejoin="miter"/>
<text transform="translate(854.00,106.40) scale(1.06,1)" font-size="13" text-anchor="middle" fill="#000" font-weight="normal" >NS</text>
<polyline points="906.00,179.40 906.00,174.70 931.80,174.70 931.80,179.40" fill="none" stroke="#000" stroke-width="1.1" stroke-linejoin="round" stroke-linejoin="miter"/>
<text transform="translate(919.20,170.40) scale(1.06,1)" font-size="13" text-anchor="middle" fill="#000" font-weight="normal" >NS</text>
<line x1="852.90" y1="286.20" x2="852.90" y2="292.70" stroke="#000" stroke-width="1.1" />
<line x1="919.10" y1="286.20" x2="919.10" y2="292.70" stroke="#000" stroke-width="1.1" />
<text transform="translate(711.6,49.9) scale(1.03,1)" font-size="13" fill="#000">1 μM Ca<tspan font-size="9.6" dy="-5.6">2+</tspan></text>
<text transform="translate(855.4,49.8) scale(1.03,1)" font-size="13" fill="#000">0 μM Ca<tspan font-size="9.6" dy="-5.6">2+</tspan></text>
<text transform="translate(647.50,309.30) scale(1.06,1)" font-size="13" text-anchor="start" fill="#000" font-weight="normal" >Stev.</text>
<text transform="translate(696.00,310.50) scale(1.06,1)" font-size="13" text-anchor="middle" fill="#000" font-weight="normal" >−</text>
<text transform="translate(720.90,310.50) scale(1.06,1)" font-size="13" text-anchor="middle" fill="#000" font-weight="normal" >+</text>
<text transform="translate(762.20,310.50) scale(1.06,1)" font-size="13" text-anchor="middle" fill="#000" font-weight="normal" >−</text>
<text transform="translate(787.40,310.50) scale(1.06,1)" font-size="13" text-anchor="middle" fill="#000" font-weight="normal" >+</text>
<text transform="translate(839.00,310.50) scale(1.06,1)" font-size="13" text-anchor="middle" fill="#000" font-weight="normal" >−</text>
<text transform="translate(865.00,310.50) scale(1.06,1)" font-size="13" text-anchor="middle" fill="#000" font-weight="normal" >+</text>
<text transform="translate(905.80,310.50) scale(1.06,1)" font-size="13" text-anchor="middle" fill="#000" font-weight="normal" >−</text>
<text transform="translate(934.40,310.50) scale(1.06,1)" font-size="13" text-anchor="middle" fill="#000" font-weight="normal" >+</text>
<text transform="translate(708.50,329.60) scale(1.06,1)" font-size="13" text-anchor="middle" fill="#000" font-weight="normal" >+100 mV</text>
<text transform="translate(777.50,329.60) scale(1.06,1)" font-size="13" text-anchor="middle" fill="#000" font-weight="normal" >−100 mV</text>
<text transform="translate(847.10,329.60) scale(1.06,1)" font-size="13" text-anchor="middle" fill="#000" font-weight="normal" >+100 mV</text>
<text transform="translate(915.60,329.60) scale(1.06,1)" font-size="13" text-anchor="middle" fill="#000" font-weight="normal" >−100 mV</text>
<text transform="translate(637.30,167.20) rotate(-90) scale(1.0795,1)" font-size="13" text-anchor="middle" fill="#000">Current density (pA pF<tspan font-size="9.1" dy="-5">−1</tspan><tspan dy="5">)</tspan></text>
<text transform="translate(227.00,375.60) scale(0.99,1)" font-size="20.3" text-anchor="start" fill="#000" font-weight="bold" >f</text>
<line x1="284.70" y1="405.80" x2="284.70" y2="643.60" stroke="#000" stroke-width="1.1" />
<line x1="279.00" y1="423.35" x2="284.70" y2="423.35" stroke="#000" stroke-width="1.1" />
<text transform="translate(271.00,427.65) scale(1.06,1)" font-size="12.5" text-anchor="end" fill="#000" font-weight="normal" >150</text>
<line x1="279.00" y1="467.40" x2="284.70" y2="467.40" stroke="#000" stroke-width="1.1" />
<text transform="translate(271.00,471.70) scale(1.06,1)" font-size="12.5" text-anchor="end" fill="#000" font-weight="normal" >100</text>
<line x1="279.00" y1="511.45" x2="284.70" y2="511.45" stroke="#000" stroke-width="1.1" />
<text transform="translate(271.00,515.75) scale(1.06,1)" font-size="12.5" text-anchor="end" fill="#000" font-weight="normal" >50</text>
<line x1="279.00" y1="555.50" x2="284.70" y2="555.50" stroke="#000" stroke-width="1.1" />
<text transform="translate(271.00,559.80) scale(1.06,1)" font-size="12.5" text-anchor="end" fill="#000" font-weight="normal" >0</text>
<line x1="279.00" y1="599.55" x2="284.70" y2="599.55" stroke="#000" stroke-width="1.1" />
<text transform="translate(271.00,603.85) scale(1.06,1)" font-size="12.5" text-anchor="end" fill="#000" font-weight="normal" >−50</text>
<line x1="279.00" y1="643.60" x2="284.70" y2="643.60" stroke="#000" stroke-width="1.1" />
<text transform="translate(271.00,647.90) scale(1.06,1)" font-size="12.5" text-anchor="end" fill="#000" font-weight="normal" >−100</text>
<line x1="284.70" y1="643.60" x2="452.20" y2="643.60" stroke="#000" stroke-width="1.1" />
<line x1="284.60" y1="643.60" x2="284.60" y2="649.00" stroke="#000" stroke-width="1.1" />
<text transform="translate(284.60,667.50) scale(1.06,1)" font-size="12.5" text-anchor="middle" fill="#000" font-weight="normal" >0</text>
<line x1="351.60" y1="643.60" x2="351.60" y2="649.00" stroke="#000" stroke-width="1.1" />
<text transform="translate(351.60,667.50) scale(1.06,1)" font-size="12.5" text-anchor="middle" fill="#000" font-weight="normal" >60</text>
<line x1="418.60" y1="643.60" x2="418.60" y2="649.00" stroke="#000" stroke-width="1.1" />
<text transform="translate(418.60,667.50) scale(1.06,1)" font-size="12.5" text-anchor="middle" fill="#000" font-weight="normal" >120</text>
<text transform="translate(367.70,689.70) scale(1.06,1)" font-size="12.5" text-anchor="middle" fill="#000" font-weight="normal" >Time (s)</text>
<text transform="translate(232.30,524.10) rotate(-90) scale(1.0731,1)" font-size="13" text-anchor="middle" fill="#000">Current density (pA pF<tspan font-size="9.1" dy="-5">−1</tspan><tspan dy="5">)</tspan></text>
<text transform="translate(289.70,439.60) scale(1.06,1)" font-size="12.5" text-anchor="start" fill="#800080" font-weight="normal" >10 μM rebaudioside A</text>
<line x1="316.50" y1="448.10" x2="392.50" y2="448.10" stroke="#800080" stroke-width="3.7" stroke-linecap="round"/>
<line x1="294.60" y1="555.50" x2="445.00" y2="555.50" stroke="#000" stroke-width="1.3" stroke-dasharray="1.3,2.9"/>
<circle cx="284.70" cy="554.14" r="3.0" fill="#f4f4f4" stroke="#8a8a8a" stroke-width="0.9"/>
<circle cx="285.85" cy="554.08" r="3.0" fill="#f4f4f4" stroke="#8a8a8a" stroke-width="0.9"/>
<circle cx="287.00" cy="554.80" r="3.0" fill="#f4f4f4" stroke="#8a8a8a" stroke-width="0.9"/>
<circle cx="288.15" cy="554.78" r="3.0" fill="#f4f4f4" stroke="#8a8a8a" stroke-width="0.9"/>
<circle cx="289.30" cy="554.87" r="3.0" fill="#f4f4f4" stroke="#8a8a8a" stroke-width="0.9"/>
<circle cx="290.45" cy="555.83" r="3.0" fill="#f4f4f4" stroke="#8a8a8a" stroke-width="0.9"/>
<circle cx="291.60" cy="556.30" r="3.0" fill="#f4f4f4" stroke="#8a8a8a" stroke-width="0.9"/>
<circle cx="292.75" cy="557.97" r="3.0" fill="#f4f4f4" stroke="#8a8a8a" stroke-width="0.9"/>
<circle cx="293.90" cy="561.05" r="3.0" fill="#f4f4f4" stroke="#8a8a8a" stroke-width="0.9"/>
<circle cx="295.05" cy="563.05" r="3.0" fill="#f4f4f4" stroke="#8a8a8a" stroke-width="0.9"/>
<circle cx="296.20" cy="565.50" r="3.0" fill="#f4f4f4" stroke="#8a8a8a" stroke-width="0.9"/>
<circle cx="297.35" cy="564.10" r="3.0" fill="#f4f4f4" stroke="#8a8a8a" stroke-width="0.9"/>
<circle cx="298.50" cy="564.24" r="3.0" fill="#f4f4f4" stroke="#8a8a8a" stroke-width="0.9"/>
<circle cx="299.65" cy="562.68" r="3.0" fill="#f4f4f4" stroke="#8a8a8a" stroke-width="0.9"/>
<circle cx="300.80" cy="561.88" r="3.0" fill="#f4f4f4" stroke="#8a8a8a" stroke-width="0.9"/>
<circle cx="301.95" cy="558.54" r="3.0" fill="#f4f4f4" stroke="#8a8a8a" stroke-width="0.9"/>
<circle cx="303.10" cy="558.03" r="3.0" fill="#f4f4f4" stroke="#8a8a8a" stroke-width="0.9"/>
<circle cx="304.25" cy="557.30" r="3.0" fill="#f4f4f4" stroke="#8a8a8a" stroke-width="0.9"/>
<circle cx="305.40" cy="556.96" r="3.0" fill="#f4f4f4" stroke="#8a8a8a" stroke-width="0.9"/>
<circle cx="306.55" cy="557.59" r="3.0" fill="#f4f4f4" stroke="#8a8a8a" stroke-width="0.9"/>
<circle cx="307.70" cy="556.46" r="3.0" fill="#f4f4f4" stroke="#8a8a8a" stroke-width="0.9"/>
<circle cx="308.85" cy="556.85" r="3.0" fill="#f4f4f4" stroke="#8a8a8a" stroke-width="0.9"/>
<circle cx="310.00" cy="556.53" r="3.0" fill="#f4f4f4" stroke="#8a8a8a" stroke-width="0.9"/>
<circle cx="311.15" cy="556.58" r="3.0" fill="#f4f4f4" stroke="#8a8a8a" stroke-width="0.9"/>
<circle cx="312.30" cy="556.34" r="3.0" fill="#f4f4f4" stroke="#8a8a8a" stroke-width="0.9"/>
<circle cx="313.45" cy="555.98" r="3.0" fill="#f4f4f4" stroke="#8a8a8a" stroke-width="0.9"/>
<circle cx="314.60" cy="556.29" r="3.0" fill="#f4f4f4" stroke="#8a8a8a" stroke-width="0.9"/>
<circle cx="315.75" cy="555.48" r="3.0" fill="#f4f4f4" stroke="#8a8a8a" stroke-width="0.9"/>
<circle cx="316.90" cy="556.58" r="3.0" fill="#f4f4f4" stroke="#8a8a8a" stroke-width="0.9"/>
<circle cx="318.05" cy="555.46" r="3.0" fill="#f4f4f4" stroke="#8a8a8a" stroke-width="0.9"/>
<circle cx="319.20" cy="556.07" r="3.0" fill="#f4f4f4" stroke="#8a8a8a" stroke-width="0.9"/>
<circle cx="320.35" cy="556.98" r="3.0" fill="#f4f4f4" stroke="#8a8a8a" stroke-width="0.9"/>
<circle cx="321.50" cy="555.80" r="3.0" fill="#f4f4f4" stroke="#8a8a8a" stroke-width="0.9"/>
<circle cx="322.65" cy="555.91" r="3.0" fill="#f4f4f4" stroke="#8a8a8a" stroke-width="0.9"/>
<circle cx="323.80" cy="556.47" r="3.0" fill="#f4f4f4" stroke="#8a8a8a" stroke-width="0.9"/>
<circle cx="324.95" cy="555.91" r="3.0" fill="#f4f4f4" stroke="#8a8a8a" stroke-width="0.9"/>
<circle cx="326.10" cy="555.50" r="3.0" fill="#f4f4f4" stroke="#8a8a8a" stroke-width="0.9"/>
<circle cx="327.25" cy="556.06" r="3.0" fill="#f4f4f4" stroke="#8a8a8a" stroke-width="0.9"/>
<circle cx="328.40" cy="556.25" r="3.0" fill="#f4f4f4" stroke="#8a8a8a" stroke-width="0.9"/>
<circle cx="329.55" cy="556.37" r="3.0" fill="#f4f4f4" stroke="#8a8a8a" stroke-width="0.9"/>
<circle cx="330.70" cy="555.69" r="3.0" fill="#f4f4f4" stroke="#8a8a8a" stroke-width="0.9"/>
<circle cx="331.85" cy="557.03" r="3.0" fill="#f4f4f4" stroke="#8a8a8a" stroke-width="0.9"/>
<circle cx="333.00" cy="557.08" r="3.0" fill="#f4f4f4" stroke="#8a8a8a" stroke-width="0.9"/>
<circle cx="334.15" cy="556.37" r="3.0" fill="#f4f4f4" stroke="#8a8a8a" stroke-width="0.9"/>
<circle cx="335.30" cy="556.61" r="3.0" fill="#f4f4f4" stroke="#8a8a8a" stroke-width="0.9"/>
<circle cx="336.45" cy="556.39" r="3.0" fill="#f4f4f4" stroke="#8a8a8a" stroke-width="0.9"/>
<circle cx="337.60" cy="557.46" r="3.0" fill="#f4f4f4" stroke="#8a8a8a" stroke-width="0.9"/>
<circle cx="338.75" cy="556.55" r="3.0" fill="#f4f4f4" stroke="#8a8a8a" stroke-width="0.9"/>
<circle cx="339.90" cy="557.40" r="3.0" fill="#f4f4f4" stroke="#8a8a8a" stroke-width="0.9"/>
<circle cx="341.05" cy="557.00" r="3.0" fill="#f4f4f4" stroke="#8a8a8a" stroke-width="0.9"/>
<circle cx="342.20" cy="557.07" r="3.0" fill="#f4f4f4" stroke="#8a8a8a" stroke-width="0.9"/>
<circle cx="343.35" cy="557.97" r="3.0" fill="#f4f4f4" stroke="#8a8a8a" stroke-width="0.9"/>
<circle cx="344.50" cy="558.47" r="3.0" fill="#f4f4f4" stroke="#8a8a8a" stroke-width="0.9"/>
<circle cx="345.65" cy="558.01" r="3.0" fill="#f4f4f4" stroke="#8a8a8a" stroke-width="0.9"/>
<circle cx="346.80" cy="557.89" r="3.0" fill="#f4f4f4" stroke="#8a8a8a" stroke-width="0.9"/>
<circle cx="347.95" cy="558.86" r="3.0" fill="#f4f4f4" stroke="#8a8a8a" stroke-width="0.9"/>
<circle cx="349.10" cy="558.68" r="3.0" fill="#f4f4f4" stroke="#8a8a8a" stroke-width="0.9"/>
<circle cx="350.25" cy="559.11" r="3.0" fill="#f4f4f4" stroke="#8a8a8a" stroke-width="0.9"/>
<circle cx="351.40" cy="560.00" r="3.0" fill="#f4f4f4" stroke="#8a8a8a" stroke-width="0.9"/>
<circle cx="352.55" cy="560.11" r="3.0" fill="#f4f4f4" stroke="#8a8a8a" stroke-width="0.9"/>
<circle cx="353.70" cy="559.58" r="3.0" fill="#f4f4f4" stroke="#8a8a8a" stroke-width="0.9"/>
<circle cx="354.85" cy="561.27" r="3.0" fill="#f4f4f4" stroke="#8a8a8a" stroke-width="0.9"/>
<circle cx="356.00" cy="560.44" r="3.0" fill="#f4f4f4" stroke="#8a8a8a" stroke-width="0.9"/>
<circle cx="357.15" cy="561.22" r="3.0" fill="#f4f4f4" stroke="#8a8a8a" stroke-width="0.9"/>
<circle cx="358.30" cy="561.03" r="3.0" fill="#f4f4f4" stroke="#8a8a8a" stroke-width="0.9"/>
<circle cx="359.45" cy="562.06" r="3.0" fill="#f4f4f4" stroke="#8a8a8a" stroke-width="0.9"/>
<circle cx="360.60" cy="562.14" r="3.0" fill="#f4f4f4" stroke="#8a8a8a" stroke-width="0.9"/>
<circle cx="361.75" cy="565.04" r="3.0" fill="#f4f4f4" stroke="#8a8a8a" stroke-width="0.9"/>
<circle cx="362.90" cy="566.16" r="3.0" fill="#f4f4f4" stroke="#8a8a8a" stroke-width="0.9"/>
<circle cx="364.05" cy="566.37" r="3.0" fill="#f4f4f4" stroke="#8a8a8a" stroke-width="0.9"/>
<circle cx="365.20" cy="567.88" r="3.0" fill="#f4f4f4" stroke="#8a8a8a" stroke-width="0.9"/>
<circle cx="366.35" cy="569.60" r="3.0" fill="#f4f4f4" stroke="#8a8a8a" stroke-width="0.9"/>
<circle cx="367.50" cy="572.90" r="3.0" fill="#f4f4f4" stroke="#8a8a8a" stroke-width="0.9"/>
<circle cx="368.65" cy="574.16" r="3.0" fill="#f4f4f4" stroke="#8a8a8a" stroke-width="0.9"/>
<circle cx="369.80" cy="576.59" r="3.0" fill="#f4f4f4" stroke="#8a8a8a" stroke-width="0.9"/>
<circle cx="370.95" cy="578.80" r="3.0" fill="#f4f4f4" stroke="#8a8a8a" stroke-width="0.9"/>
<circle cx="372.10" cy="581.31" r="3.0" fill="#f4f4f4" stroke="#8a8a8a" stroke-width="0.9"/>
<circle cx="373.25" cy="583.27" r="3.0" fill="#f4f4f4" stroke="#8a8a8a" stroke-width="0.9"/>
<circle cx="374.40" cy="586.29" r="3.0" fill="#f4f4f4" stroke="#8a8a8a" stroke-width="0.9"/>
<circle cx="375.55" cy="588.16" r="3.0" fill="#f4f4f4" stroke="#8a8a8a" stroke-width="0.9"/>
<circle cx="376.70" cy="591.53" r="3.0" fill="#f4f4f4" stroke="#8a8a8a" stroke-width="0.9"/>
<circle cx="377.85" cy="594.43" r="3.0" fill="#f4f4f4" stroke="#8a8a8a" stroke-width="0.9"/>
<circle cx="379.00" cy="597.18" r="3.0" fill="#f4f4f4" stroke="#8a8a8a" stroke-width="0.9"/>
<circle cx="380.15" cy="599.37" r="3.0" fill="#f4f4f4" stroke="#8a8a8a" stroke-width="0.9"/>
<circle cx="381.30" cy="601.29" r="3.0" fill="#f4f4f4" stroke="#8a8a8a" stroke-width="0.9"/>
<circle cx="382.45" cy="603.76" r="3.0" fill="#f4f4f4" stroke="#8a8a8a" stroke-width="0.9"/>
<circle cx="383.60" cy="604.93" r="3.0" fill="#f4f4f4" stroke="#8a8a8a" stroke-width="0.9"/>
<circle cx="384.75" cy="607.06" r="3.0" fill="#f4f4f4" stroke="#8a8a8a" stroke-width="0.9"/>
<circle cx="385.90" cy="607.62" r="3.0" fill="#f4f4f4" stroke="#8a8a8a" stroke-width="0.9"/>
<circle cx="387.05" cy="607.97" r="3.0" fill="#f4f4f4" stroke="#8a8a8a" stroke-width="0.9"/>
<circle cx="388.20" cy="608.39" r="3.0" fill="#f4f4f4" stroke="#8a8a8a" stroke-width="0.9"/>
<circle cx="389.35" cy="608.66" r="3.0" fill="#f4f4f4" stroke="#8a8a8a" stroke-width="0.9"/>
<circle cx="390.50" cy="608.61" r="3.0" fill="#f4f4f4" stroke="#8a8a8a" stroke-width="0.9"/>
<circle cx="391.65" cy="608.53" r="3.0" fill="#f4f4f4" stroke="#8a8a8a" stroke-width="0.9"/>
<circle cx="392.80" cy="608.09" r="3.0" fill="#f4f4f4" stroke="#8a8a8a" stroke-width="0.9"/>
<circle cx="393.95" cy="607.20" r="3.0" fill="#f4f4f4" stroke="#8a8a8a" stroke-width="0.9"/>
<circle cx="395.10" cy="606.20" r="3.0" fill="#f4f4f4" stroke="#8a8a8a" stroke-width="0.9"/>
<circle cx="396.25" cy="605.84" r="3.0" fill="#f4f4f4" stroke="#8a8a8a" stroke-width="0.9"/>
<circle cx="397.40" cy="603.15" r="3.0" fill="#f4f4f4" stroke="#8a8a8a" stroke-width="0.9"/>
<circle cx="398.55" cy="602.23" r="3.0" fill="#f4f4f4" stroke="#8a8a8a" stroke-width="0.9"/>
<circle cx="399.70" cy="602.40" r="3.0" fill="#f4f4f4" stroke="#8a8a8a" stroke-width="0.9"/>
<circle cx="400.85" cy="598.88" r="3.0" fill="#f4f4f4" stroke="#8a8a8a" stroke-width="0.9"/>
<circle cx="402.00" cy="598.34" r="3.0" fill="#f4f4f4" stroke="#8a8a8a" stroke-width="0.9"/>
<circle cx="403.15" cy="597.46" r="3.0" fill="#f4f4f4" stroke="#8a8a8a" stroke-width="0.9"/>
<circle cx="404.30" cy="596.24" r="3.0" fill="#f4f4f4" stroke="#8a8a8a" stroke-width="0.9"/>
<circle cx="405.45" cy="595.16" r="3.0" fill="#f4f4f4" stroke="#8a8a8a" stroke-width="0.9"/>
<circle cx="406.60" cy="593.66" r="3.0" fill="#f4f4f4" stroke="#8a8a8a" stroke-width="0.9"/>
<circle cx="407.75" cy="592.79" r="3.0" fill="#f4f4f4" stroke="#8a8a8a" stroke-width="0.9"/>
<circle cx="408.90" cy="591.50" r="3.0" fill="#f4f4f4" stroke="#8a8a8a" stroke-width="0.9"/>
<circle cx="410.05" cy="590.76" r="3.0" fill="#f4f4f4" stroke="#8a8a8a" stroke-width="0.9"/>
<circle cx="411.20" cy="588.36" r="3.0" fill="#f4f4f4" stroke="#8a8a8a" stroke-width="0.9"/>
<circle cx="412.35" cy="587.86" r="3.0" fill="#f4f4f4" stroke="#8a8a8a" stroke-width="0.9"/>
<circle cx="413.50" cy="587.32" r="3.0" fill="#f4f4f4" stroke="#8a8a8a" stroke-width="0.9"/>
<circle cx="414.65" cy="585.84" r="3.0" fill="#f4f4f4" stroke="#8a8a8a" stroke-width="0.9"/>
<circle cx="415.80" cy="584.90" r="3.0" fill="#f4f4f4" stroke="#8a8a8a" stroke-width="0.9"/>
<circle cx="416.95" cy="584.82" r="3.0" fill="#f4f4f4" stroke="#8a8a8a" stroke-width="0.9"/>
<circle cx="418.10" cy="583.29" r="3.0" fill="#f4f4f4" stroke="#8a8a8a" stroke-width="0.9"/>
<circle cx="419.25" cy="583.06" r="3.0" fill="#f4f4f4" stroke="#8a8a8a" stroke-width="0.9"/>
<circle cx="420.40" cy="582.26" r="3.0" fill="#f4f4f4" stroke="#8a8a8a" stroke-width="0.9"/>
<circle cx="421.55" cy="581.22" r="3.0" fill="#f4f4f4" stroke="#8a8a8a" stroke-width="0.9"/>
<circle cx="422.70" cy="580.52" r="3.0" fill="#f4f4f4" stroke="#8a8a8a" stroke-width="0.9"/>
<circle cx="423.85" cy="579.44" r="3.0" fill="#f4f4f4" stroke="#8a8a8a" stroke-width="0.9"/>
<circle cx="425.00" cy="578.05" r="3.0" fill="#f4f4f4" stroke="#8a8a8a" stroke-width="0.9"/>
<circle cx="426.15" cy="578.04" r="3.0" fill="#f4f4f4" stroke="#8a8a8a" stroke-width="0.9"/>
<circle cx="427.30" cy="577.62" r="3.0" fill="#f4f4f4" stroke="#8a8a8a" stroke-width="0.9"/>
<circle cx="428.45" cy="576.52" r="3.0" fill="#f4f4f4" stroke="#8a8a8a" stroke-width="0.9"/>
<circle cx="429.60" cy="576.17" r="3.0" fill="#f4f4f4" stroke="#8a8a8a" stroke-width="0.9"/>
<circle cx="430.75" cy="576.07" r="3.0" fill="#f4f4f4" stroke="#8a8a8a" stroke-width="0.9"/>
<circle cx="431.90" cy="574.77" r="3.0" fill="#f4f4f4" stroke="#8a8a8a" stroke-width="0.9"/>
<circle cx="433.05" cy="575.07" r="3.0" fill="#f4f4f4" stroke="#8a8a8a" stroke-width="0.9"/>
<circle cx="434.20" cy="575.25" r="3.0" fill="#f4f4f4" stroke="#8a8a8a" stroke-width="0.9"/>
<circle cx="435.35" cy="573.64" r="3.0" fill="#f4f4f4" stroke="#8a8a8a" stroke-width="0.9"/>
<circle cx="436.50" cy="573.59" r="3.0" fill="#f4f4f4" stroke="#8a8a8a" stroke-width="0.9"/>
<circle cx="437.65" cy="573.04" r="3.0" fill="#f4f4f4" stroke="#8a8a8a" stroke-width="0.9"/>
<circle cx="438.80" cy="573.51" r="3.0" fill="#f4f4f4" stroke="#8a8a8a" stroke-width="0.9"/>
<circle cx="439.95" cy="572.54" r="3.0" fill="#f4f4f4" stroke="#8a8a8a" stroke-width="0.9"/>
<circle cx="441.10" cy="572.50" r="3.0" fill="#f4f4f4" stroke="#8a8a8a" stroke-width="0.9"/>
<circle cx="442.25" cy="571.39" r="3.0" fill="#f4f4f4" stroke="#8a8a8a" stroke-width="0.9"/>
<circle cx="443.40" cy="571.43" r="3.0" fill="#f4f4f4" stroke="#8a8a8a" stroke-width="0.9"/>
<circle cx="444.55" cy="571.14" r="3.0" fill="#f4f4f4" stroke="#8a8a8a" stroke-width="0.9"/>
<circle cx="445.70" cy="569.98" r="3.0" fill="#f4f4f4" stroke="#8a8a8a" stroke-width="0.9"/>
<circle cx="446.85" cy="571.31" r="3.0" fill="#f4f4f4" stroke="#8a8a8a" stroke-width="0.9"/>
<circle cx="448.00" cy="570.77" r="3.0" fill="#f4f4f4" stroke="#8a8a8a" stroke-width="0.9"/>
<circle cx="449.15" cy="569.17" r="3.0" fill="#f4f4f4" stroke="#8a8a8a" stroke-width="0.9"/>
<circle cx="450.30" cy="570.15" r="3.0" fill="#f4f4f4" stroke="#8a8a8a" stroke-width="0.9"/>
<circle cx="316.80" cy="555.90" r="5.1" fill="#000" stroke="#000" stroke-width="0"/>
<circle cx="390.30" cy="609.10" r="5.2" fill="#800080" stroke="#000" stroke-width="0"/>
<polyline points="285.50,554.50 287.50,553.00 289.90,549.10 291.70,544.50 293.20,530.60 294.20,504.00 294.60,488.30 296.30,475.60 297.50,478.50 298.60,484.90 299.80,491.20 300.90,499.30 300.97,499.64 301.05,500.07 301.14,500.58 301.24,501.14 301.36,501.76 301.48,502.42 301.62,503.09 301.77,503.77 301.93,504.45 302.10,505.10 302.28,505.75 302.48,506.43 302.69,507.13 302.91,507.84 303.14,508.56 303.38,509.29 303.63,510.01 303.88,510.72 304.14,511.42 304.40,512.10 304.66,512.77 304.93,513.42 305.21,514.08 305.49,514.72 305.77,515.36 306.07,516.00 306.37,516.63 306.67,517.26 306.98,517.88 307.30,518.50 307.63,519.12 307.96,519.73 308.31,520.35 308.66,520.95 309.02,521.56 309.38,522.16 309.74,522.75 310.10,523.34 310.45,523.92 310.80,524.50 311.15,525.07 311.49,525.64 311.84,526.20 312.19,526.76 312.54,527.31 312.88,527.86 313.22,528.40 313.55,528.94 313.88,529.47 314.20,530.00 314.52,530.54 314.86,531.11 315.20,531.69 315.54,532.28 315.86,532.84 316.17,533.38 316.46,533.88 316.71,534.33 316.93,534.70 317.10,535.00 317.10,535.00 317.32,534.81 317.57,534.60 317.86,534.36 318.18,534.09 318.53,533.81 318.91,533.50 319.31,533.17 319.73,532.82 320.16,532.45 320.61,532.06 321.08,531.66 321.55,531.23 322.04,530.80 322.52,530.34 323.01,529.88 323.50,529.40 324.00,528.90 324.51,528.37 325.03,527.81 325.57,527.22 326.12,526.62 326.69,526.00 327.26,525.36 327.84,524.71 328.43,524.06 329.03,523.39 329.63,522.73 330.24,522.07 330.85,521.41 331.47,520.76 332.08,520.12 332.70,519.50 333.32,518.88 333.96,518.27 334.61,517.65 335.26,517.03 335.93,516.41 336.60,515.79 337.27,515.17 337.95,514.56 338.63,513.94 339.30,513.33 339.97,512.71 340.64,512.11 341.29,511.50 341.94,510.90 342.58,510.30 343.20,509.70 343.81,509.11 344.41,508.53 345.00,507.96 345.59,507.39 346.17,506.82 346.74,506.26 347.31,505.70 347.88,505.14 348.44,504.58 349.00,504.02 349.56,503.45 350.12,502.88 350.69,502.30 351.25,501.71 351.82,501.11 352.40,500.50 352.98,499.88 353.57,499.26 354.17,498.64 354.77,498.01 355.38,497.38 355.98,496.74 356.59,496.09 357.19,495.44 357.79,494.79 358.38,494.13 358.96,493.46 359.53,492.78 360.10,492.10 360.65,491.41 361.18,490.71 361.70,490.00 362.20,489.28 362.67,488.54 363.13,487.78 363.57,487.01 364.00,486.24 364.42,485.45 364.84,484.66 365.24,483.86 365.65,483.07 366.06,482.27 366.47,481.49 366.89,480.70 367.32,479.93 367.76,479.17 368.22,478.43 368.70,477.70 369.20,476.97 369.71,476.24 370.24,475.49 370.78,474.74 371.33,474.00 371.89,473.25 372.45,472.52 373.02,471.80 373.58,471.10 374.14,470.41 374.70,469.76 375.25,469.13 375.78,468.54 376.30,467.98 376.81,467.47 377.30,467.00 377.77,466.57 378.23,466.18 378.67,465.82 379.11,465.48 379.53,465.18 379.95,464.91 380.36,464.66 380.76,464.44 381.16,464.24 381.56,464.07 381.96,463.92 382.36,463.80 382.76,463.69 383.17,463.61 383.58,463.55 384.00,463.50 384.42,463.49 384.84,463.51 385.26,463.58 385.68,463.68 386.10,463.80 386.52,463.96 386.94,464.13 387.36,464.31 387.79,464.51 388.21,464.71 388.63,464.92 389.06,465.12 389.49,465.31 389.93,465.49 390.36,465.66 390.80,465.80 391.21,465.90 391.58,465.95 391.92,465.95 392.23,465.93 392.53,465.89 392.83,465.84 393.14,465.80 393.46,465.78 393.82,465.79 394.22,465.84 394.67,465.95 395.19,466.12 395.78,466.37 396.45,466.70 397.22,467.15 398.10,467.70 399.10,468.38 400.23,469.19 401.47,470.10 402.80,471.11 404.21,472.21 405.69,473.36 407.21,474.58 408.78,475.82 410.36,477.10 411.94,478.38 413.52,479.66 415.06,480.92 416.57,482.15 418.02,483.33 419.41,484.45 420.70,485.50 421.93,486.50 423.14,487.49 424.33,488.46 425.49,489.43 426.63,490.39 427.74,491.33 428.84,492.25 429.92,493.16 430.98,494.06 432.02,494.94 433.05,495.80 434.07,496.64 435.07,497.46 436.06,498.26 437.03,499.04 438.00,499.80 438.97,500.55 439.96,501.29 440.96,502.03 441.96,502.76 442.95,503.47 443.93,504.17 444.90,504.84 445.83,505.49 446.73,506.12 447.59,506.71 448.41,507.27 449.16,507.79 449.86,508.26 450.48,508.69 451.03,509.07 451.50,509.40" fill="none" stroke="#000" stroke-width="0.8" stroke-linejoin="round" />
<rect x="282.60" y="551.60" width="5.8" height="5.8" fill="#fff" stroke="#000" stroke-width="1.1"/>
<rect x="284.60" y="550.10" width="5.8" height="5.8" fill="#fff" stroke="#000" stroke-width="1.1"/>
<rect x="287.00" y="546.20" width="5.8" height="5.8" fill="#fff" stroke="#000" stroke-width="1.1"/>
<rect x="288.80" y="541.60" width="5.8" height="5.8" fill="#fff" stroke="#000" stroke-width="1.1"/>
<rect x="290.30" y="527.70" width="5.8" height="5.8" fill="#fff" stroke="#000" stroke-width="1.1"/>
<rect x="291.30" y="501.10" width="5.8" height="5.8" fill="#fff" stroke="#000" stroke-width="1.1"/>
<rect x="291.70" y="485.40" width="5.8" height="5.8" fill="#fff" stroke="#000" stroke-width="1.1"/>
<rect x="293.40" y="472.70" width="5.8" height="5.8" fill="#fff" stroke="#000" stroke-width="1.1"/>
<rect x="294.60" y="475.60" width="5.8" height="5.8" fill="#fff" stroke="#000" stroke-width="1.1"/>
<rect x="295.70" y="482.00" width="5.8" height="5.8" fill="#fff" stroke="#000" stroke-width="1.1"/>
<rect x="296.90" y="488.30" width="5.8" height="5.8" fill="#fff" stroke="#000" stroke-width="1.1"/>
<rect x="298.00" y="496.33" width="5.8" height="5.8" fill="#fff" stroke="#000" stroke-width="1.2"/>
<rect x="298.55" y="499.57" width="5.8" height="5.8" fill="#fff" stroke="#000" stroke-width="1.2"/>
<rect x="299.10" y="502.00" width="5.8" height="5.8" fill="#fff" stroke="#000" stroke-width="1.2"/>
<rect x="299.65" y="503.02" width="5.8" height="5.8" fill="#fff" stroke="#000" stroke-width="1.2"/>
<rect x="300.20" y="505.42" width="5.8" height="5.8" fill="#fff" stroke="#000" stroke-width="1.2"/>
<rect x="300.75" y="507.91" width="5.8" height="5.8" fill="#fff" stroke="#000" stroke-width="1.2"/>
<rect x="301.30" y="508.39" width="5.8" height="5.8" fill="#fff" stroke="#000" stroke-width="1.2"/>
<rect x="301.85" y="509.57" width="5.8" height="5.8" fill="#fff" stroke="#000" stroke-width="1.2"/>
<rect x="302.40" y="510.71" width="5.8" height="5.8" fill="#fff" stroke="#000" stroke-width="1.2"/>
<rect x="302.95" y="512.01" width="5.8" height="5.8" fill="#fff" stroke="#000" stroke-width="1.2"/>
<rect x="303.50" y="513.96" width="5.8" height="5.8" fill="#fff" stroke="#000" stroke-width="1.2"/>
<rect x="304.05" y="515.76" width="5.8" height="5.8" fill="#fff" stroke="#000" stroke-width="1.2"/>
<rect x="304.60" y="516.19" width="5.8" height="5.8" fill="#fff" stroke="#000" stroke-width="1.2"/>
<rect x="305.15" y="517.11" width="5.8" height="5.8" fill="#fff" stroke="#000" stroke-width="1.2"/>
<rect x="305.70" y="519.06" width="5.8" height="5.8" fill="#fff" stroke="#000" stroke-width="1.2"/>
<rect x="306.25" y="518.62" width="5.8" height="5.8" fill="#fff" stroke="#000" stroke-width="1.2"/>
<rect x="306.80" y="519.45" width="5.8" height="5.8" fill="#fff" stroke="#000" stroke-width="1.2"/>
<rect x="307.35" y="520.95" width="5.8" height="5.8" fill="#fff" stroke="#000" stroke-width="1.2"/>
<rect x="307.90" y="521.87" width="5.8" height="5.8" fill="#fff" stroke="#000" stroke-width="1.2"/>
<rect x="308.45" y="522.00" width="5.8" height="5.8" fill="#fff" stroke="#000" stroke-width="1.2"/>
<rect x="309.00" y="522.81" width="5.8" height="5.8" fill="#fff" stroke="#000" stroke-width="1.2"/>
<rect x="309.55" y="524.42" width="5.8" height="5.8" fill="#fff" stroke="#000" stroke-width="1.2"/>
<rect x="310.10" y="525.27" width="5.8" height="5.8" fill="#fff" stroke="#000" stroke-width="1.2"/>
<rect x="310.65" y="525.38" width="5.8" height="5.8" fill="#fff" stroke="#000" stroke-width="1.2"/>
<rect x="311.20" y="526.83" width="5.8" height="5.8" fill="#fff" stroke="#000" stroke-width="1.2"/>
<rect x="311.75" y="527.59" width="5.8" height="5.8" fill="#fff" stroke="#000" stroke-width="1.2"/>
<rect x="312.30" y="529.03" width="5.8" height="5.8" fill="#fff" stroke="#000" stroke-width="1.2"/>
<rect x="312.85" y="529.69" width="5.8" height="5.8" fill="#fff" stroke="#000" stroke-width="1.2"/>
<rect x="313.40" y="530.66" width="5.8" height="5.8" fill="#fff" stroke="#000" stroke-width="1.2"/>
<rect x="313.95" y="531.49" width="5.8" height="5.8" fill="#fff" stroke="#000" stroke-width="1.2"/>
<rect x="314.20" y="532.84" width="5.8" height="5.8" fill="#fff" stroke="#000" stroke-width="1.25"/>
<rect x="314.80" y="532.57" width="5.8" height="5.8" fill="#fff" stroke="#000" stroke-width="1.25"/>
<rect x="315.40" y="530.84" width="5.8" height="5.8" fill="#fff" stroke="#000" stroke-width="1.25"/>
<rect x="316.00" y="531.20" width="5.8" height="5.8" fill="#fff" stroke="#000" stroke-width="1.25"/>
<rect x="316.60" y="529.58" width="5.8" height="5.8" fill="#fff" stroke="#000" stroke-width="1.25"/>
<rect x="317.20" y="529.65" width="5.8" height="5.8" fill="#fff" stroke="#000" stroke-width="1.25"/>
<rect x="317.80" y="529.61" width="5.8" height="5.8" fill="#fff" stroke="#000" stroke-width="1.25"/>
<rect x="318.40" y="529.62" width="5.8" height="5.8" fill="#fff" stroke="#000" stroke-width="1.25"/>
<rect x="319.00" y="527.75" width="5.8" height="5.8" fill="#fff" stroke="#000" stroke-width="1.25"/>
<rect x="319.60" y="527.41" width="5.8" height="5.8" fill="#fff" stroke="#000" stroke-width="1.25"/>
<rect x="320.20" y="527.03" width="5.8" height="5.8" fill="#fff" stroke="#000" stroke-width="1.25"/>
<rect x="320.80" y="525.25" width="5.8" height="5.8" fill="#fff" stroke="#000" stroke-width="1.25"/>
<rect x="321.40" y="525.69" width="5.8" height="5.8" fill="#fff" stroke="#000" stroke-width="1.25"/>
<rect x="322.00" y="524.58" width="5.8" height="5.8" fill="#fff" stroke="#000" stroke-width="1.25"/>
<rect x="322.60" y="524.66" width="5.8" height="5.8" fill="#fff" stroke="#000" stroke-width="1.25"/>
<rect x="323.20" y="522.96" width="5.8" height="5.8" fill="#fff" stroke="#000" stroke-width="1.25"/>
<rect x="323.80" y="521.70" width="5.8" height="5.8" fill="#fff" stroke="#000" stroke-width="1.25"/>
<rect x="324.40" y="522.44" width="5.8" height="5.8" fill="#fff" stroke="#000" stroke-width="1.25"/>
<rect x="325.00" y="521.93" width="5.8" height="5.8" fill="#fff" stroke="#000" stroke-width="1.25"/>
<rect x="325.60" y="520.70" width="5.8" height="5.8" fill="#fff" stroke="#000" stroke-width="1.25"/>
<rect x="326.20" y="521.04" width="5.8" height="5.8" fill="#fff" stroke="#000" stroke-width="1.25"/>
<rect x="326.80" y="519.57" width="5.8" height="5.8" fill="#fff" stroke="#000" stroke-width="1.25"/>
<rect x="327.40" y="518.68" width="5.8" height="5.8" fill="#fff" stroke="#000" stroke-width="1.25"/>
<rect x="328.00" y="518.80" width="5.8" height="5.8" fill="#fff" stroke="#000" stroke-width="1.25"/>
<rect x="328.60" y="516.73" width="5.8" height="5.8" fill="#fff" stroke="#000" stroke-width="1.25"/>
<rect x="329.20" y="516.73" width="5.8" height="5.8" fill="#fff" stroke="#000" stroke-width="1.25"/>
<rect x="329.80" y="516.59" width="5.8" height="5.8" fill="#fff" stroke="#000" stroke-width="1.25"/>
<rect x="330.40" y="516.60" width="5.8" height="5.8" fill="#fff" stroke="#000" stroke-width="1.25"/>
<rect x="331.00" y="515.31" width="5.8" height="5.8" fill="#fff" stroke="#000" stroke-width="1.25"/>
<rect x="331.60" y="515.07" width="5.8" height="5.8" fill="#fff" stroke="#000" stroke-width="1.25"/>
<rect x="332.20" y="513.82" width="5.8" height="5.8" fill="#fff" stroke="#000" stroke-width="1.25"/>
<rect x="332.80" y="513.93" width="5.8" height="5.8" fill="#fff" stroke="#000" stroke-width="1.25"/>
<rect x="333.40" y="514.33" width="5.8" height="5.8" fill="#fff" stroke="#000" stroke-width="1.25"/>
<rect x="334.00" y="512.14" width="5.8" height="5.8" fill="#fff" stroke="#000" stroke-width="1.25"/>
<rect x="334.60" y="513.72" width="5.8" height="5.8" fill="#fff" stroke="#000" stroke-width="1.25"/>
<rect x="335.20" y="511.07" width="5.8" height="5.8" fill="#fff" stroke="#000" stroke-width="1.25"/>
<rect x="335.80" y="510.99" width="5.8" height="5.8" fill="#fff" stroke="#000" stroke-width="1.25"/>
<rect x="336.40" y="510.55" width="5.8" height="5.8" fill="#fff" stroke="#000" stroke-width="1.25"/>
<rect x="337.00" y="510.60" width="5.8" height="5.8" fill="#fff" stroke="#000" stroke-width="1.25"/>
<rect x="337.60" y="508.46" width="5.8" height="5.8" fill="#fff" stroke="#000" stroke-width="1.25"/>
<rect x="338.20" y="507.31" width="5.8" height="5.8" fill="#fff" stroke="#000" stroke-width="1.25"/>
<rect x="338.80" y="508.64" width="5.8" height="5.8" fill="#fff" stroke="#000" stroke-width="1.25"/>
<rect x="339.40" y="508.21" width="5.8" height="5.8" fill="#fff" stroke="#000" stroke-width="1.25"/>
<rect x="340.00" y="507.52" width="5.8" height="5.8" fill="#fff" stroke="#000" stroke-width="1.25"/>
<rect x="340.60" y="508.35" width="5.8" height="5.8" fill="#fff" stroke="#000" stroke-width="1.25"/>
<rect x="341.20" y="506.07" width="5.8" height="5.8" fill="#fff" stroke="#000" stroke-width="1.25"/>
<rect x="341.80" y="505.53" width="5.8" height="5.8" fill="#fff" stroke="#000" stroke-width="1.25"/>
<rect x="342.40" y="505.42" width="5.8" height="5.8" fill="#fff" stroke="#000" stroke-width="1.25"/>
<rect x="343.00" y="504.44" width="5.8" height="5.8" fill="#fff" stroke="#000" stroke-width="1.25"/>
<rect x="343.60" y="504.76" width="5.8" height="5.8" fill="#fff" stroke="#000" stroke-width="1.25"/>
<rect x="344.20" y="502.14" width="5.8" height="5.8" fill="#fff" stroke="#000" stroke-width="1.25"/>
<rect x="344.80" y="502.15" width="5.8" height="5.8" fill="#fff" stroke="#000" stroke-width="1.25"/>
<rect x="345.40" y="499.41" width="5.8" height="5.8" fill="#fff" stroke="#000" stroke-width="1.25"/>
<rect x="346.00" y="501.79" width="5.8" height="5.8" fill="#fff" stroke="#000" stroke-width="1.25"/>
<rect x="346.60" y="500.35" width="5.8" height="5.8" fill="#fff" stroke="#000" stroke-width="1.25"/>
<rect x="347.20" y="500.65" width="5.8" height="5.8" fill="#fff" stroke="#000" stroke-width="1.25"/>
<rect x="347.80" y="500.89" width="5.8" height="5.8" fill="#fff" stroke="#000" stroke-width="1.25"/>
<rect x="348.40" y="498.76" width="5.8" height="5.8" fill="#fff" stroke="#000" stroke-width="1.25"/>
<rect x="349.00" y="497.95" width="5.8" height="5.8" fill="#fff" stroke="#000" stroke-width="1.25"/>
<rect x="349.60" y="497.14" width="5.8" height="5.8" fill="#fff" stroke="#000" stroke-width="1.25"/>
<rect x="350.20" y="496.27" width="5.8" height="5.8" fill="#fff" stroke="#000" stroke-width="1.25"/>
<rect x="350.80" y="495.79" width="5.8" height="5.8" fill="#fff" stroke="#000" stroke-width="1.25"/>
<rect x="351.40" y="496.05" width="5.8" height="5.8" fill="#fff" stroke="#000" stroke-width="1.25"/>
<rect x="352.00" y="495.00" width="5.8" height="5.8" fill="#fff" stroke="#000" stroke-width="1.25"/>
<rect x="352.60" y="494.39" width="5.8" height="5.8" fill="#fff" stroke="#000" stroke-width="1.25"/>
<rect x="353.20" y="493.59" width="5.8" height="5.8" fill="#fff" stroke="#000" stroke-width="1.25"/>
<rect x="353.80" y="493.71" width="5.8" height="5.8" fill="#fff" stroke="#000" stroke-width="1.25"/>
<rect x="354.40" y="492.77" width="5.8" height="5.8" fill="#fff" stroke="#000" stroke-width="1.25"/>
<rect x="355.00" y="491.66" width="5.8" height="5.8" fill="#fff" stroke="#000" stroke-width="1.25"/>
<rect x="355.60" y="491.55" width="5.8" height="5.8" fill="#fff" stroke="#000" stroke-width="1.25"/>
<rect x="356.20" y="490.29" width="5.8" height="5.8" fill="#fff" stroke="#000" stroke-width="1.25"/>
<rect x="356.80" y="488.87" width="5.8" height="5.8" fill="#fff" stroke="#000" stroke-width="1.25"/>
<rect x="357.40" y="489.96" width="5.8" height="5.8" fill="#fff" stroke="#000" stroke-width="1.25"/>
<rect x="358.00" y="488.50" width="5.8" height="5.8" fill="#fff" stroke="#000" stroke-width="1.25"/>
<rect x="358.60" y="486.70" width="5.8" height="5.8" fill="#fff" stroke="#000" stroke-width="1.25"/>
<rect x="359.20" y="487.27" width="5.8" height="5.8" fill="#fff" stroke="#000" stroke-width="1.25"/>
<rect x="359.80" y="485.84" width="5.8" height="5.8" fill="#fff" stroke="#000" stroke-width="1.25"/>
<rect x="360.40" y="483.50" width="5.8" height="5.8" fill="#fff" stroke="#000" stroke-width="1.25"/>
<rect x="361.00" y="484.65" width="5.8" height="5.8" fill="#fff" stroke="#000" stroke-width="1.25"/>
<rect x="361.60" y="482.63" width="5.8" height="5.8" fill="#fff" stroke="#000" stroke-width="1.25"/>
<rect x="362.20" y="481.87" width="5.8" height="5.8" fill="#fff" stroke="#000" stroke-width="1.25"/>
<rect x="362.80" y="480.21" width="5.8" height="5.8" fill="#fff" stroke="#000" stroke-width="1.25"/>
<rect x="363.40" y="478.81" width="5.8" height="5.8" fill="#fff" stroke="#000" stroke-width="1.25"/>
<rect x="364.00" y="476.71" width="5.8" height="5.8" fill="#fff" stroke="#000" stroke-width="1.25"/>
<rect x="364.60" y="477.41" width="5.8" height="5.8" fill="#fff" stroke="#000" stroke-width="1.25"/>
<rect x="365.20" y="475.75" width="5.8" height="5.8" fill="#fff" stroke="#000" stroke-width="1.25"/>
<rect x="365.80" y="474.51" width="5.8" height="5.8" fill="#fff" stroke="#000" stroke-width="1.3"/>
<rect x="366.25" y="474.49" width="5.8" height="5.8" fill="#fff" stroke="#000" stroke-width="1.3"/>
<rect x="366.70" y="473.57" width="5.8" height="5.8" fill="#fff" stroke="#000" stroke-width="1.3"/>
<rect x="367.15" y="473.54" width="5.8" height="5.8" fill="#fff" stroke="#000" stroke-width="1.3"/>
<rect x="367.60" y="471.86" width="5.8" height="5.8" fill="#fff" stroke="#000" stroke-width="1.3"/>
<rect x="368.05" y="471.58" width="5.8" height="5.8" fill="#fff" stroke="#000" stroke-width="1.3"/>
<rect x="368.50" y="468.87" width="5.8" height="5.8" fill="#fff" stroke="#000" stroke-width="1.3"/>
<rect x="368.95" y="469.99" width="5.8" height="5.8" fill="#fff" stroke="#000" stroke-width="1.3"/>
<rect x="369.40" y="470.50" width="5.8" height="5.8" fill="#fff" stroke="#000" stroke-width="1.3"/>
<rect x="369.85" y="470.58" width="5.8" height="5.8" fill="#fff" stroke="#000" stroke-width="1.3"/>
<rect x="370.30" y="468.31" width="5.8" height="5.8" fill="#fff" stroke="#000" stroke-width="1.3"/>
<rect x="370.75" y="467.99" width="5.8" height="5.8" fill="#fff" stroke="#000" stroke-width="1.3"/>
<rect x="371.20" y="469.15" width="5.8" height="5.8" fill="#fff" stroke="#000" stroke-width="1.3"/>
<rect x="371.65" y="466.71" width="5.8" height="5.8" fill="#fff" stroke="#000" stroke-width="1.3"/>
<rect x="372.10" y="467.25" width="5.8" height="5.8" fill="#fff" stroke="#000" stroke-width="1.3"/>
<rect x="372.55" y="467.68" width="5.8" height="5.8" fill="#fff" stroke="#000" stroke-width="1.3"/>
<rect x="373.00" y="465.55" width="5.8" height="5.8" fill="#fff" stroke="#000" stroke-width="1.3"/>
<rect x="373.45" y="466.26" width="5.8" height="5.8" fill="#fff" stroke="#000" stroke-width="1.3"/>
<rect x="373.90" y="463.87" width="5.8" height="5.8" fill="#fff" stroke="#000" stroke-width="1.3"/>
<rect x="374.35" y="464.36" width="5.8" height="5.8" fill="#fff" stroke="#000" stroke-width="1.3"/>
<rect x="374.80" y="463.66" width="5.8" height="5.8" fill="#fff" stroke="#000" stroke-width="1.3"/>
<rect x="375.25" y="463.46" width="5.8" height="5.8" fill="#fff" stroke="#000" stroke-width="1.3"/>
<rect x="375.70" y="464.10" width="5.8" height="5.8" fill="#fff" stroke="#000" stroke-width="1.3"/>
<rect x="376.15" y="465.02" width="5.8" height="5.8" fill="#fff" stroke="#000" stroke-width="1.3"/>
<rect x="376.60" y="461.64" width="5.8" height="5.8" fill="#fff" stroke="#000" stroke-width="1.3"/>
<rect x="377.05" y="461.43" width="5.8" height="5.8" fill="#fff" stroke="#000" stroke-width="1.3"/>
<rect x="377.50" y="462.23" width="5.8" height="5.8" fill="#fff" stroke="#000" stroke-width="1.3"/>
<rect x="377.95" y="460.44" width="5.8" height="5.8" fill="#fff" stroke="#000" stroke-width="1.3"/>
<rect x="378.40" y="461.78" width="5.8" height="5.8" fill="#fff" stroke="#000" stroke-width="1.3"/>
<rect x="378.85" y="461.67" width="5.8" height="5.8" fill="#fff" stroke="#000" stroke-width="1.3"/>
<rect x="379.30" y="460.67" width="5.8" height="5.8" fill="#fff" stroke="#000" stroke-width="1.3"/>
<rect x="379.75" y="461.36" width="5.8" height="5.8" fill="#fff" stroke="#000" stroke-width="1.3"/>
<rect x="380.20" y="459.18" width="5.8" height="5.8" fill="#fff" stroke="#000" stroke-width="1.3"/>
<rect x="380.65" y="461.41" width="5.8" height="5.8" fill="#fff" stroke="#000" stroke-width="1.3"/>
<rect x="381.10" y="459.06" width="5.8" height="5.8" fill="#fff" stroke="#000" stroke-width="1.3"/>
<rect x="381.55" y="459.89" width="5.8" height="5.8" fill="#fff" stroke="#000" stroke-width="1.3"/>
<rect x="382.00" y="460.07" width="5.8" height="5.8" fill="#fff" stroke="#000" stroke-width="1.3"/>
<rect x="382.45" y="460.30" width="5.8" height="5.8" fill="#fff" stroke="#000" stroke-width="1.3"/>
<rect x="382.90" y="461.67" width="5.8" height="5.8" fill="#fff" stroke="#000" stroke-width="1.3"/>
<rect x="383.35" y="461.04" width="5.8" height="5.8" fill="#fff" stroke="#000" stroke-width="1.3"/>
<rect x="383.80" y="460.73" width="5.8" height="5.8" fill="#fff" stroke="#000" stroke-width="1.3"/>
<rect x="384.25" y="461.86" width="5.8" height="5.8" fill="#fff" stroke="#000" stroke-width="1.3"/>
<rect x="384.70" y="463.10" width="5.8" height="5.8" fill="#fff" stroke="#000" stroke-width="1.3"/>
<rect x="385.15" y="461.74" width="5.8" height="5.8" fill="#fff" stroke="#000" stroke-width="1.3"/>
<rect x="385.60" y="462.32" width="5.8" height="5.8" fill="#fff" stroke="#000" stroke-width="1.3"/>
<rect x="386.05" y="463.40" width="5.8" height="5.8" fill="#fff" stroke="#000" stroke-width="1.3"/>
<rect x="386.50" y="462.64" width="5.8" height="5.8" fill="#fff" stroke="#000" stroke-width="1.3"/>
<rect x="386.95" y="461.28" width="5.8" height="5.8" fill="#fff" stroke="#000" stroke-width="1.3"/>
<rect x="387.40" y="465.22" width="5.8" height="5.8" fill="#fff" stroke="#000" stroke-width="1.3"/>
<rect x="387.85" y="465.09" width="5.8" height="5.8" fill="#fff" stroke="#000" stroke-width="1.3"/>
<rect x="388.30" y="461.01" width="5.8" height="5.8" fill="#fff" stroke="#000" stroke-width="1.3"/>
<rect x="388.75" y="463.01" width="5.8" height="5.8" fill="#fff" stroke="#000" stroke-width="1.3"/>
<rect x="389.20" y="463.46" width="5.8" height="5.8" fill="#fff" stroke="#000" stroke-width="1.3"/>
<rect x="389.65" y="463.95" width="5.8" height="5.8" fill="#fff" stroke="#000" stroke-width="1.3"/>
<rect x="390.10" y="463.59" width="5.8" height="5.8" fill="#fff" stroke="#000" stroke-width="1.3"/>
<rect x="390.55" y="462.61" width="5.8" height="5.8" fill="#fff" stroke="#000" stroke-width="1.3"/>
<rect x="391.00" y="461.85" width="5.8" height="5.8" fill="#fff" stroke="#000" stroke-width="1.3"/>
<rect x="391.45" y="463.07" width="5.8" height="5.8" fill="#fff" stroke="#000" stroke-width="1.3"/>
<rect x="391.90" y="464.12" width="5.8" height="5.8" fill="#fff" stroke="#000" stroke-width="1.3"/>
<rect x="392.35" y="462.15" width="5.8" height="5.8" fill="#fff" stroke="#000" stroke-width="1.3"/>
<rect x="392.80" y="462.41" width="5.8" height="5.8" fill="#fff" stroke="#000" stroke-width="1.3"/>
<rect x="393.25" y="463.63" width="5.8" height="5.8" fill="#fff" stroke="#000" stroke-width="1.3"/>
<rect x="393.70" y="461.95" width="5.8" height="5.8" fill="#fff" stroke="#000" stroke-width="1.3"/>
<rect x="394.15" y="463.89" width="5.8" height="5.8" fill="#fff" stroke="#000" stroke-width="1.3"/>
<rect x="394.60" y="463.98" width="5.8" height="5.8" fill="#fff" stroke="#000" stroke-width="1.3"/>
<rect x="395.05" y="465.16" width="5.8" height="5.8" fill="#fff" stroke="#000" stroke-width="1.3"/>
<rect x="395.50" y="464.30" width="5.8" height="5.8" fill="#fff" stroke="#000" stroke-width="1.3"/>
<rect x="395.95" y="464.43" width="5.8" height="5.8" fill="#fff" stroke="#000" stroke-width="1.3"/>
<rect x="396.40" y="465.23" width="5.8" height="5.8" fill="#fff" stroke="#000" stroke-width="1.3"/>
<rect x="396.85" y="465.90" width="5.8" height="5.8" fill="#fff" stroke="#000" stroke-width="1.3"/>
<rect x="397.30" y="465.60" width="5.8" height="5.8" fill="#fff" stroke="#000" stroke-width="1.3"/>
<rect x="397.75" y="466.61" width="5.8" height="5.8" fill="#fff" stroke="#000" stroke-width="1.3"/>
<rect x="398.20" y="467.68" width="5.8" height="5.8" fill="#fff" stroke="#000" stroke-width="1.3"/>
<rect x="398.65" y="468.45" width="5.8" height="5.8" fill="#fff" stroke="#000" stroke-width="1.3"/>
<rect x="399.10" y="469.31" width="5.8" height="5.8" fill="#fff" stroke="#000" stroke-width="1.3"/>
<rect x="399.55" y="467.17" width="5.8" height="5.8" fill="#fff" stroke="#000" stroke-width="1.3"/>
<rect x="400.00" y="467.87" width="5.8" height="5.8" fill="#fff" stroke="#000" stroke-width="1.3"/>
<rect x="400.45" y="466.16" width="5.8" height="5.8" fill="#fff" stroke="#000" stroke-width="1.3"/>
<rect x="400.90" y="470.89" width="5.8" height="5.8" fill="#fff" stroke="#000" stroke-width="1.3"/>
<rect x="401.35" y="468.61" width="5.8" height="5.8" fill="#fff" stroke="#000" stroke-width="1.3"/>
<rect x="401.80" y="469.66" width="5.8" height="5.8" fill="#fff" stroke="#000" stroke-width="1.3"/>
<rect x="402.25" y="470.57" width="5.8" height="5.8" fill="#fff" stroke="#000" stroke-width="1.3"/>
<rect x="402.70" y="469.04" width="5.8" height="5.8" fill="#fff" stroke="#000" stroke-width="1.3"/>
<rect x="403.15" y="471.22" width="5.8" height="5.8" fill="#fff" stroke="#000" stroke-width="1.3"/>
<rect x="403.60" y="471.08" width="5.8" height="5.8" fill="#fff" stroke="#000" stroke-width="1.3"/>
<rect x="404.05" y="469.64" width="5.8" height="5.8" fill="#fff" stroke="#000" stroke-width="1.3"/>
<rect x="404.50" y="472.12" width="5.8" height="5.8" fill="#fff" stroke="#000" stroke-width="1.3"/>
<rect x="404.95" y="473.38" width="5.8" height="5.8" fill="#fff" stroke="#000" stroke-width="1.3"/>
<rect x="405.40" y="470.68" width="5.8" height="5.8" fill="#fff" stroke="#000" stroke-width="1.3"/>
<rect x="405.85" y="473.71" width="5.8" height="5.8" fill="#fff" stroke="#000" stroke-width="1.3"/>
<rect x="406.30" y="473.48" width="5.8" height="5.8" fill="#fff" stroke="#000" stroke-width="1.3"/>
<rect x="406.75" y="474.10" width="5.8" height="5.8" fill="#fff" stroke="#000" stroke-width="1.3"/>
<rect x="407.20" y="474.43" width="5.8" height="5.8" fill="#fff" stroke="#000" stroke-width="1.3"/>
<rect x="407.65" y="475.66" width="5.8" height="5.8" fill="#fff" stroke="#000" stroke-width="1.3"/>
<rect x="408.10" y="474.50" width="5.8" height="5.8" fill="#fff" stroke="#000" stroke-width="1.3"/>
<rect x="408.55" y="475.96" width="5.8" height="5.8" fill="#fff" stroke="#000" stroke-width="1.3"/>
<rect x="409.00" y="475.04" width="5.8" height="5.8" fill="#fff" stroke="#000" stroke-width="1.3"/>
<rect x="409.45" y="476.54" width="5.8" height="5.8" fill="#fff" stroke="#000" stroke-width="1.3"/>
<rect x="409.90" y="475.37" width="5.8" height="5.8" fill="#fff" stroke="#000" stroke-width="1.3"/>
<rect x="410.35" y="476.44" width="5.8" height="5.8" fill="#fff" stroke="#000" stroke-width="1.3"/>
<rect x="410.80" y="478.64" width="5.8" height="5.8" fill="#fff" stroke="#000" stroke-width="1.3"/>
<rect x="411.25" y="477.72" width="5.8" height="5.8" fill="#fff" stroke="#000" stroke-width="1.3"/>
<rect x="411.70" y="477.49" width="5.8" height="5.8" fill="#fff" stroke="#000" stroke-width="1.3"/>
<rect x="412.15" y="476.87" width="5.8" height="5.8" fill="#fff" stroke="#000" stroke-width="1.3"/>
<rect x="412.60" y="477.59" width="5.8" height="5.8" fill="#fff" stroke="#000" stroke-width="1.3"/>
<rect x="413.05" y="478.94" width="5.8" height="5.8" fill="#fff" stroke="#000" stroke-width="1.3"/>
<rect x="413.50" y="480.05" width="5.8" height="5.8" fill="#fff" stroke="#000" stroke-width="1.3"/>
<rect x="413.95" y="479.90" width="5.8" height="5.8" fill="#fff" stroke="#000" stroke-width="1.3"/>
<rect x="414.40" y="480.37" width="5.8" height="5.8" fill="#fff" stroke="#000" stroke-width="1.3"/>
<rect x="414.85" y="480.17" width="5.8" height="5.8" fill="#fff" stroke="#000" stroke-width="1.3"/>
<rect x="415.30" y="481.93" width="5.8" height="5.8" fill="#fff" stroke="#000" stroke-width="1.3"/>
<rect x="415.75" y="480.55" width="5.8" height="5.8" fill="#fff" stroke="#000" stroke-width="1.3"/>
<rect x="416.20" y="480.76" width="5.8" height="5.8" fill="#fff" stroke="#000" stroke-width="1.3"/>
<rect x="416.65" y="482.56" width="5.8" height="5.8" fill="#fff" stroke="#000" stroke-width="1.3"/>
<rect x="417.10" y="482.10" width="5.8" height="5.8" fill="#fff" stroke="#000" stroke-width="1.3"/>
<rect x="417.55" y="482.12" width="5.8" height="5.8" fill="#fff" stroke="#000" stroke-width="1.3"/>
<rect x="418.00" y="482.19" width="5.8" height="5.8" fill="#fff" stroke="#000" stroke-width="1.3"/>
<rect x="418.45" y="482.87" width="5.8" height="5.8" fill="#fff" stroke="#000" stroke-width="1.3"/>
<rect x="418.90" y="484.11" width="5.8" height="5.8" fill="#fff" stroke="#000" stroke-width="1.3"/>
<rect x="419.35" y="484.21" width="5.8" height="5.8" fill="#fff" stroke="#000" stroke-width="1.3"/>
<rect x="419.80" y="483.02" width="5.8" height="5.8" fill="#fff" stroke="#000" stroke-width="1.3"/>
<rect x="420.25" y="485.02" width="5.8" height="5.8" fill="#fff" stroke="#000" stroke-width="1.3"/>
<rect x="420.70" y="485.14" width="5.8" height="5.8" fill="#fff" stroke="#000" stroke-width="1.3"/>
<rect x="421.15" y="484.34" width="5.8" height="5.8" fill="#fff" stroke="#000" stroke-width="1.3"/>
<rect x="421.60" y="486.48" width="5.8" height="5.8" fill="#fff" stroke="#000" stroke-width="1.3"/>
<rect x="422.05" y="485.80" width="5.8" height="5.8" fill="#fff" stroke="#000" stroke-width="1.3"/>
<rect x="422.50" y="486.12" width="5.8" height="5.8" fill="#fff" stroke="#000" stroke-width="1.3"/>
<rect x="422.95" y="487.63" width="5.8" height="5.8" fill="#fff" stroke="#000" stroke-width="1.3"/>
<rect x="423.40" y="488.53" width="5.8" height="5.8" fill="#fff" stroke="#000" stroke-width="1.3"/>
<rect x="423.85" y="486.90" width="5.8" height="5.8" fill="#fff" stroke="#000" stroke-width="1.3"/>
<rect x="424.30" y="488.41" width="5.8" height="5.8" fill="#fff" stroke="#000" stroke-width="1.3"/>
<rect x="424.75" y="487.47" width="5.8" height="5.8" fill="#fff" stroke="#000" stroke-width="1.3"/>
<rect x="425.20" y="491.04" width="5.8" height="5.8" fill="#fff" stroke="#000" stroke-width="1.3"/>
<rect x="425.65" y="488.61" width="5.8" height="5.8" fill="#fff" stroke="#000" stroke-width="1.3"/>
<rect x="426.10" y="490.68" width="5.8" height="5.8" fill="#fff" stroke="#000" stroke-width="1.3"/>
<rect x="426.55" y="489.22" width="5.8" height="5.8" fill="#fff" stroke="#000" stroke-width="1.3"/>
<rect x="427.00" y="491.06" width="5.8" height="5.8" fill="#fff" stroke="#000" stroke-width="1.3"/>
<rect x="427.45" y="492.85" width="5.8" height="5.8" fill="#fff" stroke="#000" stroke-width="1.3"/>
<rect x="427.90" y="488.46" width="5.8" height="5.8" fill="#fff" stroke="#000" stroke-width="1.3"/>
<rect x="428.35" y="490.95" width="5.8" height="5.8" fill="#fff" stroke="#000" stroke-width="1.3"/>
<rect x="428.80" y="492.26" width="5.8" height="5.8" fill="#fff" stroke="#000" stroke-width="1.3"/>
<rect x="429.25" y="492.05" width="5.8" height="5.8" fill="#fff" stroke="#000" stroke-width="1.3"/>
<rect x="429.70" y="491.85" width="5.8" height="5.8" fill="#fff" stroke="#000" stroke-width="1.3"/>
<rect x="430.15" y="495.05" width="5.8" height="5.8" fill="#fff" stroke="#000" stroke-width="1.3"/>
<rect x="430.60" y="493.35" width="5.8" height="5.8" fill="#fff" stroke="#000" stroke-width="1.3"/>
<rect x="431.05" y="492.00" width="5.8" height="5.8" fill="#fff" stroke="#000" stroke-width="1.3"/>
<rect x="431.50" y="494.87" width="5.8" height="5.8" fill="#fff" stroke="#000" stroke-width="1.3"/>
<rect x="431.95" y="492.66" width="5.8" height="5.8" fill="#fff" stroke="#000" stroke-width="1.3"/>
<rect x="432.40" y="495.90" width="5.8" height="5.8" fill="#fff" stroke="#000" stroke-width="1.3"/>
<rect x="432.85" y="494.54" width="5.8" height="5.8" fill="#fff" stroke="#000" stroke-width="1.3"/>
<rect x="433.30" y="495.62" width="5.8" height="5.8" fill="#fff" stroke="#000" stroke-width="1.3"/>
<rect x="433.75" y="497.10" width="5.8" height="5.8" fill="#fff" stroke="#000" stroke-width="1.3"/>
<rect x="434.20" y="496.31" width="5.8" height="5.8" fill="#fff" stroke="#000" stroke-width="1.3"/>
<rect x="434.65" y="495.16" width="5.8" height="5.8" fill="#fff" stroke="#000" stroke-width="1.3"/>
<rect x="435.10" y="495.20" width="5.8" height="5.8" fill="#fff" stroke="#000" stroke-width="1.3"/>
<rect x="435.55" y="498.43" width="5.8" height="5.8" fill="#fff" stroke="#000" stroke-width="1.3"/>
<rect x="436.00" y="498.33" width="5.8" height="5.8" fill="#fff" stroke="#000" stroke-width="1.3"/>
<rect x="436.45" y="497.11" width="5.8" height="5.8" fill="#fff" stroke="#000" stroke-width="1.3"/>
<rect x="436.90" y="499.13" width="5.8" height="5.8" fill="#fff" stroke="#000" stroke-width="1.3"/>
<rect x="437.35" y="499.10" width="5.8" height="5.8" fill="#fff" stroke="#000" stroke-width="1.3"/>
<rect x="437.80" y="499.58" width="5.8" height="5.8" fill="#fff" stroke="#000" stroke-width="1.3"/>
<rect x="438.25" y="497.01" width="5.8" height="5.8" fill="#fff" stroke="#000" stroke-width="1.3"/>
<rect x="438.70" y="499.29" width="5.8" height="5.8" fill="#fff" stroke="#000" stroke-width="1.3"/>
<rect x="439.15" y="500.82" width="5.8" height="5.8" fill="#fff" stroke="#000" stroke-width="1.3"/>
<rect x="439.60" y="500.98" width="5.8" height="5.8" fill="#fff" stroke="#000" stroke-width="1.3"/>
<rect x="440.05" y="501.45" width="5.8" height="5.8" fill="#fff" stroke="#000" stroke-width="1.3"/>
<rect x="440.50" y="498.43" width="5.8" height="5.8" fill="#fff" stroke="#000" stroke-width="1.3"/>
<rect x="440.95" y="501.38" width="5.8" height="5.8" fill="#fff" stroke="#000" stroke-width="1.3"/>
<rect x="441.40" y="502.02" width="5.8" height="5.8" fill="#fff" stroke="#000" stroke-width="1.3"/>
<rect x="441.85" y="504.39" width="5.8" height="5.8" fill="#fff" stroke="#000" stroke-width="1.3"/>
<rect x="442.30" y="501.20" width="5.8" height="5.8" fill="#fff" stroke="#000" stroke-width="1.3"/>
<rect x="442.75" y="502.14" width="5.8" height="5.8" fill="#fff" stroke="#000" stroke-width="1.3"/>
<rect x="443.20" y="502.82" width="5.8" height="5.8" fill="#fff" stroke="#000" stroke-width="1.3"/>
<rect x="443.65" y="503.98" width="5.8" height="5.8" fill="#fff" stroke="#000" stroke-width="1.3"/>
<rect x="444.10" y="502.96" width="5.8" height="5.8" fill="#fff" stroke="#000" stroke-width="1.3"/>
<rect x="444.55" y="504.86" width="5.8" height="5.8" fill="#fff" stroke="#000" stroke-width="1.3"/>
<rect x="445.00" y="503.23" width="5.8" height="5.8" fill="#fff" stroke="#000" stroke-width="1.3"/>
<rect x="445.45" y="504.60" width="5.8" height="5.8" fill="#fff" stroke="#000" stroke-width="1.3"/>
<rect x="445.90" y="504.11" width="5.8" height="5.8" fill="#fff" stroke="#000" stroke-width="1.3"/>
<rect x="446.35" y="505.10" width="5.8" height="5.8" fill="#fff" stroke="#000" stroke-width="1.3"/>
<rect x="446.80" y="504.56" width="5.8" height="5.8" fill="#fff" stroke="#000" stroke-width="1.3"/>
<rect x="447.25" y="503.96" width="5.8" height="5.8" fill="#fff" stroke="#000" stroke-width="1.3"/>
<rect x="447.70" y="506.96" width="5.8" height="5.8" fill="#fff" stroke="#000" stroke-width="1.3"/>
<rect x="448.15" y="506.49" width="5.8" height="5.8" fill="#fff" stroke="#000" stroke-width="1.3"/>
<rect x="448.60" y="505.94" width="5.8" height="5.8" fill="#fff" stroke="#000" stroke-width="1.3"/>
<rect x="313.1" y="531.8" width="8" height="8" fill="#000"/>
<rect x="386.0" y="461.3" width="9.5" height="9.1" fill="#800080"/>
<text transform="translate(491.50,376.60) scale(0.99,1)" font-size="20.3" text-anchor="start" fill="#000" font-weight="bold" >g</text>
<line x1="556.60" y1="404.70" x2="556.60" y2="643.30" stroke="#000" stroke-width="1.1" />
<line x1="551.00" y1="405.50" x2="556.60" y2="405.50" stroke="#000" stroke-width="1.1" />
<text transform="translate(545.60,410.00) scale(1.04,1)" font-size="13" text-anchor="end" fill="#000" font-weight="normal" >150</text>
<line x1="551.00" y1="453.03" x2="556.60" y2="453.03" stroke="#000" stroke-width="1.1" />
<text transform="translate(545.60,457.53) scale(1.04,1)" font-size="13" text-anchor="end" fill="#000" font-weight="normal" >100</text>
<line x1="551.00" y1="500.57" x2="556.60" y2="500.57" stroke="#000" stroke-width="1.1" />
<text transform="translate(545.60,505.07) scale(1.04,1)" font-size="13" text-anchor="end" fill="#000" font-weight="normal" >50</text>
<line x1="551.00" y1="595.63" x2="556.60" y2="595.63" stroke="#000" stroke-width="1.1" />
<text transform="translate(545.60,600.13) scale(1.04,1)" font-size="13" text-anchor="end" fill="#000" font-weight="normal" >−50</text>
<line x1="551.00" y1="643.17" x2="556.60" y2="643.17" stroke="#000" stroke-width="1.1" />
<text transform="translate(545.60,647.67) scale(1.04,1)" font-size="13" text-anchor="end" fill="#000" font-weight="normal" >−100</text>
<line x1="491.80" y1="548.10" x2="621.90" y2="548.10" stroke="#000" stroke-width="1.1" />
<line x1="505.25" y1="548.10" x2="505.25" y2="554.10" stroke="#000" stroke-width="1.1" />
<text transform="translate(509.85,561.0) rotate(-90) scale(1.04,1)" font-size="13" text-anchor="end" fill="#000">−100</text>
<line x1="530.93" y1="548.10" x2="530.93" y2="554.10" stroke="#000" stroke-width="1.1" />
<text transform="translate(535.53,561.0) rotate(-90) scale(1.04,1)" font-size="13" text-anchor="end" fill="#000">−50</text>
<line x1="582.27" y1="548.10" x2="582.27" y2="554.10" stroke="#000" stroke-width="1.1" />
<text transform="translate(586.88,561.0) rotate(-90) scale(1.04,1)" font-size="13" text-anchor="end" fill="#000">50</text>
<line x1="607.95" y1="548.10" x2="607.95" y2="554.10" stroke="#000" stroke-width="1.1" />
<text transform="translate(612.55,561.0) rotate(-90) scale(1.04,1)" font-size="13" text-anchor="end" fill="#000">100</text>
<text transform="translate(565.5,599.4) scale(1.0,1)" font-size="12.6" fill="#000"><tspan font-style="italic">V</tspan><tspan font-size="8.4" dy="3.6">m</tspan><tspan dy="-3.6"> (mV)</tspan></text>
<text transform="translate(512.00,473.50) rotate(-90) scale(1.0077,1)" font-size="13" text-anchor="middle" fill="#000">Current density (pA pF<tspan font-size="9.1" dy="-5">−1</tspan><tspan dy="5">)</tspan></text>
<polyline points="492.60,643.40 492.63,642.41 492.66,641.08 492.70,639.49 492.74,637.74 492.80,635.90 492.86,634.05 492.92,632.29 493.00,630.70 493.08,629.21 493.16,627.71 493.25,626.23 493.34,624.78 493.45,623.38 493.58,622.05 493.73,620.82 493.90,619.70 494.10,618.70 494.31,617.80 494.54,616.98 494.79,616.24 495.06,615.57 495.36,614.94 495.67,614.36 496.00,613.80 496.34,613.31 496.68,612.92 497.03,612.61 497.41,612.32 497.83,612.05 498.29,611.74 498.81,611.37 499.40,610.90 500.07,610.33 500.80,609.70 501.59,609.01 502.43,608.29 503.31,607.55 504.22,606.81 505.15,606.09 506.10,605.40 507.09,604.74 508.14,604.10 509.23,603.46 510.34,602.82 511.46,602.19 512.55,601.57 513.61,600.93 514.60,600.30 515.53,599.67 516.42,599.06 517.28,598.46 518.11,597.85 518.93,597.23 519.75,596.59 520.57,595.91 521.40,595.20 522.24,594.45 523.08,593.68 523.92,592.88 524.75,592.06 525.58,591.21 526.42,590.34 527.26,589.43 528.10,588.50 528.91,587.58 529.66,586.70 530.40,585.82 531.15,584.90 531.94,583.90 532.81,582.77 533.79,581.49 534.90,580.00 536.19,578.26 537.66,576.28 539.24,574.12 540.89,571.84 542.57,569.52 544.21,567.21 545.77,564.99 547.20,562.90 548.49,560.98 549.67,559.17 550.79,557.44 551.87,555.72 552.95,553.97 554.06,552.15 555.23,550.21 556.50,548.10 557.87,545.81 559.30,543.38 560.78,540.83 562.30,538.21 563.84,535.54 565.40,532.84 566.96,530.15 568.50,527.50 570.04,524.88 571.58,522.26 573.13,519.63 574.69,516.99 576.25,514.32 577.83,511.62 579.41,508.89 581.00,506.10 582.60,503.26 584.21,500.38 585.84,497.45 587.47,494.49 589.10,491.51 590.74,488.51 592.37,485.51 594.00,482.50 595.66,479.43 597.38,476.25 599.12,473.03 600.84,469.81 602.53,466.64 604.14,463.58 605.64,460.69 607.00,458.00 608.20,455.56 609.28,453.32 610.24,451.24 611.13,449.26 611.97,447.35 612.80,445.45 613.63,443.52 614.50,441.50 615.44,439.31 616.43,436.95 617.43,434.52 618.42,432.12 619.34,429.85 620.17,427.81 620.87,426.09 621.40,424.80" fill="none" stroke="#800080" stroke-width="1.6" stroke-linejoin="round" />
<polyline points="492.40,551.80 492.48,551.56 492.56,551.22 492.65,550.81 492.77,550.37 492.93,549.92 493.17,549.51 493.48,549.16 493.90,548.90 494.35,548.74 494.78,548.64 495.24,548.59 495.79,548.58 496.49,548.59 497.39,548.61 498.54,548.61 500.00,548.60 501.83,548.57 504.02,548.54 506.48,548.51 509.13,548.49 511.89,548.46 514.67,548.44 517.40,548.42 520.00,548.40 522.52,548.39 525.06,548.38 527.61,548.38 530.15,548.37 532.68,548.37 535.17,548.36 537.61,548.34 540.00,548.30 542.32,548.26 544.59,548.23 546.81,548.20 548.99,548.16 551.16,548.09 553.31,548.00 555.45,547.87 557.60,547.70 559.75,547.49 561.87,547.27 563.99,547.02 566.09,546.73 568.19,546.40 570.29,546.03 572.39,545.60 574.50,545.10 576.67,544.51 578.92,543.83 581.20,543.08 583.47,542.28 585.67,541.47 587.76,540.67 589.68,539.90 591.40,539.20 592.88,538.57 594.17,537.98 595.30,537.42 596.32,536.88 597.26,536.33 598.16,535.76 599.06,535.16 600.00,534.50 600.95,533.80 601.87,533.07 602.76,532.32 603.63,531.54 604.48,530.74 605.32,529.92 606.16,529.07 607.00,528.20 607.83,527.32 608.63,526.43 609.41,525.53 610.19,524.60 610.98,523.63 611.79,522.62 612.62,521.54 613.50,520.40 614.47,519.09 615.56,517.60 616.71,515.99 617.86,514.36 618.95,512.79 619.95,511.37 620.78,510.18 621.40,509.30" fill="none" stroke="#000" stroke-width="1.9" stroke-linejoin="round" />
<text transform="translate(652.50,377.60) scale(0.99,1)" font-size="20.3" text-anchor="start" fill="#000" font-weight="bold" >h</text>
<line x1="701.50" y1="405.70" x2="701.50" y2="643.60" stroke="#000" stroke-width="1.1" />
<line x1="695.90" y1="643.60" x2="946.00" y2="643.60" stroke="#000" stroke-width="1.1" />
<line x1="695.90" y1="419.15" x2="701.50" y2="419.15" stroke="#000" stroke-width="1.1" />
<text transform="translate(690.30,423.85) scale(1.06,1)" font-size="13" text-anchor="end" fill="#000" font-weight="normal" >80</text>
<line x1="695.90" y1="475.26" x2="701.50" y2="475.26" stroke="#000" stroke-width="1.1" />
<text transform="translate(690.30,479.96) scale(1.06,1)" font-size="13" text-anchor="end" fill="#000" font-weight="normal" >60</text>
<line x1="695.90" y1="531.38" x2="701.50" y2="531.38" stroke="#000" stroke-width="1.1" />
<text transform="translate(690.30,536.08) scale(1.06,1)" font-size="13" text-anchor="end" fill="#000" font-weight="normal" >40</text>
<line x1="695.90" y1="587.49" x2="701.50" y2="587.49" stroke="#000" stroke-width="1.1" />
<text transform="translate(690.30,592.19) scale(1.06,1)" font-size="13" text-anchor="end" fill="#000" font-weight="normal" >20</text>
<line x1="695.90" y1="643.60" x2="701.50" y2="643.60" stroke="#000" stroke-width="1.1" />
<text transform="translate(690.30,648.30) scale(1.06,1)" font-size="13" text-anchor="end" fill="#000" font-weight="normal" >0</text>
<rect x="720.30" y="542.88" width="42.90" height="100.72" fill="#000" />
<line x1="741.75" y1="510.61" x2="741.75" y2="542.88" stroke="#000" stroke-width="1.1" />
<line x1="734.05" y1="510.61" x2="749.45" y2="510.61" stroke="#000" stroke-width="1.1" />
<rect x="766.00" y="500.79" width="43.70" height="142.81" fill="#800080" />
<line x1="787.85" y1="475.54" x2="787.85" y2="500.79" stroke="#800080" stroke-width="1.1" />
<line x1="780.15" y1="475.54" x2="795.55" y2="475.54" stroke="#800080" stroke-width="1.1" />
<rect x="846.40" y="629.68" width="42.40" height="13.92" fill="#000" />
<line x1="867.60" y1="624.24" x2="867.60" y2="629.68" stroke="#000" stroke-width="1.1" />
<line x1="859.90" y1="624.24" x2="875.30" y2="624.24" stroke="#000" stroke-width="1.1" />
<rect x="892.20" y="614.28" width="43.10" height="29.32" fill="#800080" />
<line x1="913.75" y1="606.00" x2="913.75" y2="614.28" stroke="#800080" stroke-width="1.1" />
<line x1="906.05" y1="606.00" x2="921.45" y2="606.00" stroke="#800080" stroke-width="1.1" />
<polyline points="740.30,498.90 740.30,460.50 787.50,460.50 787.50,470.40" fill="none" stroke="#000" stroke-width="1.1" stroke-linejoin="round" stroke-linejoin="miter"/>
<path d="M762.90,449.70 L763.69,451.61 L765.75,451.77 L764.18,453.12 L764.66,455.13 L762.90,454.05 L761.14,455.13 L761.62,453.12 L760.05,451.77 L762.11,451.61 Z" fill="#000" stroke="#000" stroke-width="0.5" stroke-linejoin="round"/>
<polyline points="864.70,609.00 864.70,587.00 911.20,587.00 911.20,591.20" fill="none" stroke="#000" stroke-width="1.1" stroke-linejoin="round" stroke-linejoin="miter"/>
<path d="M887.00,576.20 L887.79,578.11 L889.85,578.27 L888.28,579.62 L888.76,581.63 L887.00,580.55 L885.24,581.63 L885.72,579.62 L884.15,578.27 L886.21,578.11 Z" fill="#000" stroke="#000" stroke-width="0.5" stroke-linejoin="round"/>
<line x1="764.70" y1="643.60" x2="764.70" y2="650.10" stroke="#000" stroke-width="1.1" />
<line x1="890.50" y1="643.60" x2="890.50" y2="650.10" stroke="#000" stroke-width="1.1" />
<text transform="translate(664.00,666.40) scale(1.06,1)" font-size="13" text-anchor="start" fill="#000" font-weight="normal" >Reb. A</text>
<text transform="translate(741.30,666.40) scale(1.06,1)" font-size="13" text-anchor="middle" fill="#000" font-weight="normal" >−</text>
<text transform="translate(788.80,666.40) scale(1.06,1)" font-size="13" text-anchor="middle" fill="#000" font-weight="normal" >+</text>
<text transform="translate(870.50,666.40) scale(1.06,1)" font-size="13" text-anchor="middle" fill="#000" font-weight="normal" >−</text>
<text transform="translate(912.20,666.40) scale(1.06,1)" font-size="13" text-anchor="middle" fill="#000" font-weight="normal" >+</text>
<text transform="translate(764.70,686.00) scale(1.06,1)" font-size="13" text-anchor="middle" fill="#000" font-weight="normal" >+100 mV</text>
<text transform="translate(890.50,686.00) scale(1.06,1)" font-size="13" text-anchor="middle" fill="#000" font-weight="normal" >−100 mV</text>
<text transform="translate(661.70,524.50) rotate(-90) scale(1.0668,1)" font-size="13" text-anchor="middle" fill="#000">Current density (pA pF<tspan font-size="9.1" dy="-5">−1</tspan><tspan dy="5">)</tspan></text>
<text transform="translate(214.00,732.60) scale(0.99,1)" font-size="20.3" text-anchor="start" fill="#000" font-weight="bold" >j</text>
<line x1="281.30" y1="752.80" x2="281.30" y2="990.20" stroke="#000" stroke-width="1.1" />
<line x1="275.50" y1="785.80" x2="281.30" y2="785.80" stroke="#000" stroke-width="1.1" />
<text transform="translate(269.50,790.30) scale(1.06,1)" font-size="12.5" text-anchor="end" fill="#000" font-weight="normal" >600</text>
<line x1="275.50" y1="830.70" x2="281.30" y2="830.70" stroke="#000" stroke-width="1.1" />
<text transform="translate(269.50,835.20) scale(1.06,1)" font-size="12.5" text-anchor="end" fill="#000" font-weight="normal" >400</text>
<line x1="275.50" y1="875.60" x2="281.30" y2="875.60" stroke="#000" stroke-width="1.1" />
<text transform="translate(269.50,880.10) scale(1.06,1)" font-size="12.5" text-anchor="end" fill="#000" font-weight="normal" >200</text>
<line x1="275.50" y1="920.50" x2="281.30" y2="920.50" stroke="#000" stroke-width="1.1" />
<text transform="translate(269.50,925.00) scale(1.06,1)" font-size="12.5" text-anchor="end" fill="#000" font-weight="normal" >0</text>
<line x1="275.50" y1="965.40" x2="281.30" y2="965.40" stroke="#000" stroke-width="1.1" />
<text transform="translate(269.50,969.90) scale(1.06,1)" font-size="12.5" text-anchor="end" fill="#000" font-weight="normal" >−200</text>
<line x1="281.30" y1="990.20" x2="449.00" y2="990.20" stroke="#000" stroke-width="1.1" />
<line x1="281.30" y1="990.20" x2="281.30" y2="995.50" stroke="#000" stroke-width="1.1" />
<text transform="translate(281.30,1012.30) scale(1.06,1)" font-size="12.5" text-anchor="middle" fill="#000" font-weight="normal" >0</text>
<line x1="365.15" y1="990.20" x2="365.15" y2="995.50" stroke="#000" stroke-width="1.1" />
<text transform="translate(365.15,1012.30) scale(1.06,1)" font-size="12.5" text-anchor="middle" fill="#000" font-weight="normal" >60</text>
<line x1="449.00" y1="990.20" x2="449.00" y2="995.50" stroke="#000" stroke-width="1.1" />
<text transform="translate(449.00,1012.30) scale(1.06,1)" font-size="12.5" text-anchor="middle" fill="#000" font-weight="normal" >120</text>
<text transform="translate(364.50,1034.00) scale(1.06,1)" font-size="12.5" text-anchor="middle" fill="#000" font-weight="normal" >Time (s)</text>
<text transform="translate(226.40,868.90) rotate(-90) scale(1.0549,1)" font-size="13" text-anchor="middle" fill="#000">Current density (pA pF<tspan font-size="9.1" dy="-5">−1</tspan><tspan dy="5">)</tspan></text>
<text transform="translate(291.60,750.80) scale(1.06,1)" font-size="12.5" text-anchor="start" fill="#800080" font-weight="normal" >10 μM steviol</text>
<line x1="310.50" y1="758.90" x2="355.00" y2="758.90" stroke="#800080" stroke-width="3.9" stroke-linecap="round"/>
<line x1="294.30" y1="920.50" x2="442.00" y2="920.50" stroke="#000" stroke-width="1.3" stroke-dasharray="1.3,2.9"/>
<polyline points="293.60,922.10 294.30,930.20 296.30,932.90 297.00,946.40 299.00,954.50 300.40,950.40 301.70,945.00 303.10,939.60 305.80,932.90 307.80,929.50 307.80,929.50" fill="none" stroke="#000" stroke-width="0.8" stroke-linejoin="round" />
<circle cx="282.50" cy="920.80" r="3.1" fill="#fff" stroke="#000" stroke-width="0.9"/>
<circle cx="284.00" cy="920.80" r="3.1" fill="#fff" stroke="#000" stroke-width="0.9"/>
<circle cx="285.50" cy="920.80" r="3.1" fill="#fff" stroke="#000" stroke-width="0.9"/>
<circle cx="287.00" cy="920.80" r="3.1" fill="#fff" stroke="#000" stroke-width="0.9"/>
<circle cx="288.50" cy="920.80" r="3.1" fill="#fff" stroke="#000" stroke-width="0.9"/>
<circle cx="290.00" cy="920.80" r="3.1" fill="#fff" stroke="#000" stroke-width="0.9"/>
<circle cx="291.50" cy="921.00" r="3.1" fill="#fff" stroke="#000" stroke-width="0.9"/>
<circle cx="293.60" cy="922.10" r="3.1" fill="#fff" stroke="#000" stroke-width="0.9"/>
<circle cx="294.30" cy="930.20" r="3.1" fill="#fff" stroke="#000" stroke-width="0.9"/>
<circle cx="296.30" cy="932.90" r="3.1" fill="#fff" stroke="#000" stroke-width="0.9"/>
<circle cx="297.00" cy="946.40" r="3.1" fill="#fff" stroke="#000" stroke-width="0.9"/>
<circle cx="299.00" cy="954.50" r="3.1" fill="#fff" stroke="#000" stroke-width="0.9"/>
<circle cx="300.40" cy="950.40" r="3.1" fill="#fff" stroke="#000" stroke-width="0.9"/>
<circle cx="301.70" cy="945.00" r="3.1" fill="#fff" stroke="#000" stroke-width="0.9"/>
<circle cx="303.10" cy="939.60" r="3.1" fill="#fff" stroke="#000" stroke-width="0.9"/>
<circle cx="305.80" cy="932.90" r="3.1" fill="#fff" stroke="#000" stroke-width="0.9"/>
<circle cx="307.80" cy="929.50" r="3.1" fill="#fff" stroke="#000" stroke-width="0.9"/>
<circle cx="307.80" cy="929.58" r="3.1" fill="#fff" stroke="#000" stroke-width="0.9"/>
<circle cx="309.35" cy="928.77" r="3.1" fill="#fff" stroke="#000" stroke-width="0.9"/>
<circle cx="310.90" cy="926.92" r="3.1" fill="#fff" stroke="#000" stroke-width="0.9"/>
<circle cx="312.45" cy="926.47" r="3.1" fill="#fff" stroke="#000" stroke-width="0.9"/>
<circle cx="314.00" cy="926.25" r="3.1" fill="#fff" stroke="#000" stroke-width="0.9"/>
<circle cx="315.55" cy="926.01" r="3.1" fill="#fff" stroke="#000" stroke-width="0.9"/>
<circle cx="317.10" cy="925.58" r="3.1" fill="#fff" stroke="#000" stroke-width="0.9"/>
<circle cx="318.65" cy="925.06" r="3.1" fill="#fff" stroke="#000" stroke-width="0.9"/>
<circle cx="320.20" cy="926.96" r="3.1" fill="#fff" stroke="#000" stroke-width="0.9"/>
<circle cx="321.75" cy="927.41" r="3.1" fill="#fff" stroke="#000" stroke-width="0.9"/>
<circle cx="323.30" cy="928.29" r="3.1" fill="#fff" stroke="#000" stroke-width="0.9"/>
<circle cx="324.85" cy="929.41" r="3.1" fill="#fff" stroke="#000" stroke-width="0.9"/>
<circle cx="326.40" cy="931.18" r="3.1" fill="#fff" stroke="#000" stroke-width="0.9"/>
<circle cx="327.95" cy="932.67" r="3.1" fill="#fff" stroke="#000" stroke-width="0.9"/>
<circle cx="329.50" cy="934.32" r="3.1" fill="#fff" stroke="#000" stroke-width="0.9"/>
<circle cx="331.05" cy="936.49" r="3.1" fill="#fff" stroke="#000" stroke-width="0.9"/>
<circle cx="332.60" cy="938.82" r="3.1" fill="#fff" stroke="#000" stroke-width="0.9"/>
<circle cx="334.15" cy="941.33" r="3.1" fill="#fff" stroke="#000" stroke-width="0.9"/>
<circle cx="335.70" cy="943.81" r="3.1" fill="#fff" stroke="#000" stroke-width="0.9"/>
<circle cx="337.25" cy="947.37" r="3.1" fill="#fff" stroke="#000" stroke-width="0.9"/>
<circle cx="338.80" cy="949.67" r="3.1" fill="#fff" stroke="#000" stroke-width="0.9"/>
<circle cx="340.35" cy="954.37" r="3.1" fill="#fff" stroke="#000" stroke-width="0.9"/>
<circle cx="341.90" cy="958.57" r="3.1" fill="#fff" stroke="#000" stroke-width="0.9"/>
<circle cx="343.45" cy="963.95" r="3.1" fill="#fff" stroke="#000" stroke-width="0.9"/>
<circle cx="345.00" cy="968.79" r="3.1" fill="#fff" stroke="#000" stroke-width="0.9"/>
<circle cx="346.55" cy="971.55" r="3.1" fill="#fff" stroke="#000" stroke-width="0.9"/>
<circle cx="348.10" cy="974.10" r="3.1" fill="#fff" stroke="#000" stroke-width="0.9"/>
<circle cx="349.65" cy="977.43" r="3.1" fill="#fff" stroke="#000" stroke-width="0.9"/>
<circle cx="351.20" cy="979.55" r="3.1" fill="#fff" stroke="#000" stroke-width="0.9"/>
<circle cx="352.75" cy="980.28" r="3.1" fill="#fff" stroke="#000" stroke-width="0.9"/>
<circle cx="354.30" cy="981.86" r="3.1" fill="#fff" stroke="#000" stroke-width="0.9"/>
<circle cx="355.85" cy="982.96" r="3.1" fill="#fff" stroke="#000" stroke-width="0.9"/>
<circle cx="357.40" cy="983.10" r="3.1" fill="#fff" stroke="#000" stroke-width="0.9"/>
<circle cx="358.95" cy="983.09" r="3.1" fill="#fff" stroke="#000" stroke-width="0.9"/>
<circle cx="360.50" cy="982.57" r="3.1" fill="#fff" stroke="#000" stroke-width="0.9"/>
<circle cx="362.05" cy="981.46" r="3.1" fill="#fff" stroke="#000" stroke-width="0.9"/>
<circle cx="363.60" cy="980.12" r="3.1" fill="#fff" stroke="#000" stroke-width="0.9"/>
<circle cx="365.15" cy="978.19" r="3.1" fill="#fff" stroke="#000" stroke-width="0.9"/>
<circle cx="366.70" cy="975.13" r="3.1" fill="#fff" stroke="#000" stroke-width="0.9"/>
<circle cx="368.25" cy="972.68" r="3.1" fill="#fff" stroke="#000" stroke-width="0.9"/>
<circle cx="369.80" cy="970.75" r="3.1" fill="#fff" stroke="#000" stroke-width="0.9"/>
<circle cx="371.35" cy="969.24" r="3.1" fill="#fff" stroke="#000" stroke-width="0.9"/>
<circle cx="372.90" cy="967.92" r="3.1" fill="#fff" stroke="#000" stroke-width="0.9"/>
<circle cx="374.45" cy="966.01" r="3.1" fill="#fff" stroke="#000" stroke-width="0.9"/>
<circle cx="376.00" cy="965.30" r="3.1" fill="#fff" stroke="#000" stroke-width="0.9"/>
<circle cx="377.55" cy="964.15" r="3.1" fill="#fff" stroke="#000" stroke-width="0.9"/>
<circle cx="379.10" cy="962.47" r="3.1" fill="#fff" stroke="#000" stroke-width="0.9"/>
<circle cx="380.65" cy="961.55" r="3.1" fill="#fff" stroke="#000" stroke-width="0.9"/>
<circle cx="382.20" cy="960.47" r="3.1" fill="#fff" stroke="#000" stroke-width="0.9"/>
<circle cx="383.75" cy="958.91" r="3.1" fill="#fff" stroke="#000" stroke-width="0.9"/>
<circle cx="385.30" cy="958.55" r="3.1" fill="#fff" stroke="#000" stroke-width="0.9"/>
<circle cx="386.85" cy="955.46" r="3.1" fill="#fff" stroke="#000" stroke-width="0.9"/>
<circle cx="388.40" cy="955.25" r="3.1" fill="#fff" stroke="#000" stroke-width="0.9"/>
<circle cx="389.95" cy="953.50" r="3.1" fill="#fff" stroke="#000" stroke-width="0.9"/>
<circle cx="391.50" cy="953.57" r="3.1" fill="#fff" stroke="#000" stroke-width="0.9"/>
<circle cx="393.05" cy="953.23" r="3.1" fill="#fff" stroke="#000" stroke-width="0.9"/>
<circle cx="394.60" cy="950.20" r="3.1" fill="#fff" stroke="#000" stroke-width="0.9"/>
<circle cx="396.15" cy="950.33" r="3.1" fill="#fff" stroke="#000" stroke-width="0.9"/>
<circle cx="397.70" cy="949.60" r="3.1" fill="#fff" stroke="#000" stroke-width="0.9"/>
<circle cx="399.25" cy="948.43" r="3.1" fill="#fff" stroke="#000" stroke-width="0.9"/>
<circle cx="400.80" cy="947.97" r="3.1" fill="#fff" stroke="#000" stroke-width="0.9"/>
<circle cx="402.35" cy="946.10" r="3.1" fill="#fff" stroke="#000" stroke-width="0.9"/>
<circle cx="403.90" cy="946.66" r="3.1" fill="#fff" stroke="#000" stroke-width="0.9"/>
<circle cx="405.45" cy="945.84" r="3.1" fill="#fff" stroke="#000" stroke-width="0.9"/>
<circle cx="407.00" cy="945.11" r="3.1" fill="#fff" stroke="#000" stroke-width="0.9"/>
<circle cx="408.55" cy="944.30" r="3.1" fill="#fff" stroke="#000" stroke-width="0.9"/>
<circle cx="410.10" cy="944.22" r="3.1" fill="#fff" stroke="#000" stroke-width="0.9"/>
<circle cx="411.65" cy="943.19" r="3.1" fill="#fff" stroke="#000" stroke-width="0.9"/>
<circle cx="413.20" cy="942.87" r="3.1" fill="#fff" stroke="#000" stroke-width="0.9"/>
<circle cx="414.75" cy="941.97" r="3.1" fill="#fff" stroke="#000" stroke-width="0.9"/>
<circle cx="416.30" cy="940.67" r="3.1" fill="#fff" stroke="#000" stroke-width="0.9"/>
<circle cx="417.85" cy="940.96" r="3.1" fill="#fff" stroke="#000" stroke-width="0.9"/>
<circle cx="419.40" cy="940.45" r="3.1" fill="#fff" stroke="#000" stroke-width="0.9"/>
<circle cx="420.95" cy="940.05" r="3.1" fill="#fff" stroke="#000" stroke-width="0.9"/>
<circle cx="422.50" cy="938.74" r="3.1" fill="#fff" stroke="#000" stroke-width="0.9"/>
<circle cx="424.05" cy="938.36" r="3.1" fill="#fff" stroke="#000" stroke-width="0.9"/>
<circle cx="425.60" cy="937.83" r="3.1" fill="#fff" stroke="#000" stroke-width="0.9"/>
<circle cx="427.15" cy="936.80" r="3.1" fill="#fff" stroke="#000" stroke-width="0.9"/>
<circle cx="428.70" cy="936.29" r="3.1" fill="#fff" stroke="#000" stroke-width="0.9"/>
<circle cx="430.25" cy="935.45" r="3.1" fill="#fff" stroke="#000" stroke-width="0.9"/>
<circle cx="431.80" cy="932.77" r="3.1" fill="#fff" stroke="#000" stroke-width="0.9"/>
<circle cx="433.35" cy="929.33" r="3.1" fill="#fff" stroke="#000" stroke-width="0.9"/>
<circle cx="434.90" cy="927.84" r="3.1" fill="#fff" stroke="#000" stroke-width="0.9"/>
<circle cx="436.45" cy="927.00" r="3.1" fill="#fff" stroke="#000" stroke-width="0.9"/>
<circle cx="438.00" cy="926.08" r="3.1" fill="#fff" stroke="#000" stroke-width="0.9"/>
<circle cx="439.55" cy="925.77" r="3.1" fill="#fff" stroke="#000" stroke-width="0.9"/>
<circle cx="441.10" cy="925.37" r="3.1" fill="#fff" stroke="#000" stroke-width="0.9"/>
<circle cx="442.65" cy="926.01" r="3.1" fill="#fff" stroke="#000" stroke-width="0.9"/>
<circle cx="444.20" cy="927.57" r="3.1" fill="#fff" stroke="#000" stroke-width="0.9"/>
<circle cx="445.75" cy="927.89" r="3.1" fill="#fff" stroke="#000" stroke-width="0.9"/>
<circle cx="447.30" cy="928.59" r="3.1" fill="#fff" stroke="#000" stroke-width="0.9"/>
<circle cx="419.80" cy="948.70" r="3.1" fill="#fff" stroke="#000" stroke-width="0.9"/>
<circle cx="311.80" cy="926.80" r="5.1" fill="#000" stroke="#000" stroke-width="0"/>
<circle cx="350.60" cy="978.80" r="5.1" fill="#800080" stroke="#000" stroke-width="0"/>
<polyline points="292.30,906.60 294.00,912.60 295.00,875.00 296.30,791.30 297.00,771.70 299.00,765.00 300.40,768.30 301.70,779.10 303.10,788.60 305.10,801.40 305.80,810.90 307.10,821.00 309.10,827.70 311.90,837.50 312.04,837.52 312.22,837.57 312.42,837.62 312.64,837.68 312.89,837.75 313.15,837.83 313.42,837.90 313.71,837.97 314.00,838.03 314.30,838.08 314.60,838.12 314.89,838.14 315.19,838.15 315.47,838.13 315.74,838.08 316.00,838.00 316.25,837.90 316.51,837.79 316.76,837.66 317.02,837.51 317.27,837.36 317.53,837.18 317.78,836.99 318.04,836.79 318.29,836.56 318.53,836.33 318.78,836.07 319.01,835.79 319.25,835.50 319.47,835.18 319.69,834.85 319.90,834.50 320.10,834.12 320.29,833.71 320.48,833.27 320.66,832.80 320.83,832.31 321.00,831.80 321.16,831.27 321.32,830.74 321.48,830.19 321.64,829.64 321.80,829.09 321.95,828.53 322.11,827.98 322.27,827.44 322.43,826.91 322.60,826.40 322.77,825.89 322.94,825.39 323.11,824.88 323.28,824.38 323.44,823.87 323.61,823.36 323.78,822.86 323.95,822.35 324.12,821.84 324.29,821.34 324.46,820.83 324.63,820.32 324.79,819.82 324.96,819.31 325.13,818.81 325.30,818.30 325.47,817.79 325.64,817.29 325.81,816.78 325.98,816.27 326.14,815.77 326.31,815.26 326.48,814.76 326.65,814.25 326.82,813.74 326.99,813.24 327.16,812.73 327.32,812.23 327.49,811.72 327.66,811.21 327.83,810.71 328.00,810.20 328.17,809.69 328.34,809.18 328.51,808.66 328.68,808.14 328.84,807.63 329.01,807.11 329.18,806.59 329.35,806.07 329.52,805.55 329.69,805.04 329.86,804.54 330.02,804.03 330.19,803.54 330.36,803.05 330.53,802.57 330.70,802.10 330.87,801.64 331.04,801.19 331.21,800.74 331.38,800.31 331.54,799.88 331.71,799.45 331.88,799.03 332.05,798.61 332.22,798.20 332.39,797.79 332.56,797.37 332.72,796.96 332.89,796.55 333.06,796.14 333.23,795.72 333.40,795.30 333.57,794.88 333.74,794.45 333.91,794.02 334.07,793.59 334.24,793.16 334.41,792.72 334.58,792.29 334.75,791.86 334.92,791.44 335.09,791.01 335.26,790.59 335.43,790.18 335.59,789.77 335.76,789.37 335.93,788.98 336.10,788.60 336.27,788.22 336.44,787.85 336.61,787.49 336.78,787.13 336.94,786.77 337.11,786.42 337.28,786.08 337.45,785.74 337.62,785.40 337.79,785.07 337.96,784.75 338.13,784.43 338.29,784.11 338.46,783.80 338.63,783.50 338.80,783.20 338.97,782.91 339.13,782.63 339.30,782.35 339.46,782.08 339.62,781.82 339.78,781.57 339.94,781.32 340.11,781.07 340.27,780.82 340.44,780.58 340.60,780.34 340.78,780.09 340.95,779.85 341.13,779.60 341.31,779.35 341.50,779.10 341.69,778.84 341.87,778.57 342.06,778.29 342.24,778.00 342.43,777.71 342.61,777.42 342.80,777.13 343.00,776.85 343.20,776.57 343.41,776.30 343.63,776.04 343.86,775.80 344.10,775.57 344.35,775.36 344.62,775.17 344.90,775.00 345.20,774.85 345.53,774.73 345.88,774.62 346.24,774.53 346.62,774.46 347.00,774.40 347.40,774.35 347.80,774.31 348.20,774.27 348.60,774.25 349.00,774.22 349.39,774.20 349.76,774.18 350.13,774.16 350.47,774.13 350.80,774.10 351.11,774.06 351.41,774.02 351.69,773.98 351.97,773.94 352.24,773.90 352.50,773.86 352.76,773.82 353.01,773.79 353.26,773.76 353.51,773.75 353.75,773.74 354.00,773.74 354.24,773.76 354.49,773.79 354.74,773.84 355.00,773.90 355.26,773.98 355.51,774.08 355.76,774.19 356.01,774.32 356.25,774.45 356.50,774.60 356.74,774.76 356.99,774.93 357.24,775.11 357.49,775.29 357.74,775.47 358.00,775.66 358.26,775.84 358.54,776.03 358.81,776.22 359.10,776.40 359.39,776.57 359.67,776.71 359.95,776.83 360.23,776.95 360.51,777.06 360.79,777.17 361.08,777.28 361.38,777.41 361.69,777.56 362.01,777.74 362.34,777.95 362.69,778.20 363.06,778.49 363.45,778.83 363.86,779.23 364.30,779.70 364.76,780.24 365.26,780.85 365.78,781.52 366.32,782.24 366.88,783.01 367.45,783.82 368.04,784.66 368.64,785.53 369.25,786.41 369.87,787.30 370.48,788.20 371.10,789.08 371.71,789.95 372.32,790.80 372.91,791.62 373.50,792.40 374.08,793.16 374.66,793.90 375.24,794.64 375.82,795.38 376.40,796.11 376.98,796.83 377.57,797.55 378.15,798.27 378.73,798.98 379.32,799.70 379.90,800.41 380.48,801.13 381.06,801.84 381.64,802.56 382.22,803.28 382.80,804.00 383.38,804.73 383.95,805.46 384.53,806.19 385.10,806.93 385.68,807.67 386.25,808.40 386.83,809.14 387.40,809.88 387.97,810.61 388.55,811.34 389.12,812.06 389.70,812.78 390.27,813.50 390.85,814.21 391.42,814.91 392.00,815.60 392.58,816.28 393.16,816.94 393.74,817.59 394.32,818.23 394.90,818.86 395.48,819.49 396.06,820.11 396.64,820.73 397.23,821.36 397.81,821.98 398.39,822.62 398.97,823.27 399.55,823.92 400.14,824.60 400.72,825.29 401.30,826.00 401.88,826.74 402.46,827.50 403.05,828.29 403.63,829.09 404.21,829.91 404.79,830.74 405.37,831.58 405.96,832.42 406.54,833.26 407.12,834.09 407.70,834.91 408.28,835.71 408.86,836.50 409.44,837.26 410.02,838.00 410.60,838.70 411.18,839.37 411.75,840.02 412.33,840.64 412.90,841.24 413.48,841.83 414.05,842.40 414.63,842.96 415.20,843.51 415.77,844.05 416.35,844.60 416.92,845.14 417.50,845.69 418.07,846.25 418.65,846.82 419.22,847.40 419.80,848.00 420.38,848.61 420.96,849.21 421.54,849.82 422.12,850.42 422.70,851.03 423.28,851.64 423.87,852.25 424.45,852.88 425.03,853.50 425.62,854.14 426.20,854.78 426.78,855.44 427.36,856.11 427.94,856.79 428.52,857.49 429.10,858.20 429.68,858.94 430.26,859.71 430.85,860.50 431.43,861.32 432.02,862.15 432.61,863.00 433.19,863.85 433.78,864.71 434.36,865.56 434.93,866.41 435.51,867.24 436.08,868.06 436.64,868.87 437.20,869.64 437.76,870.39 438.30,871.10 438.85,871.80 439.42,872.50 440.00,873.20 440.59,873.90 441.18,874.58 441.77,875.26 442.36,875.92 442.93,876.56 443.48,877.17 444.00,877.75 444.50,878.30 444.97,878.81 445.40,879.28 445.78,879.71 446.12,880.08 446.40,880.40" fill="none" stroke="#000" stroke-width="0.8" stroke-linejoin="round" />
<rect x="279.70" y="917.20" width="5.6" height="5.6" fill="#fff" stroke="#222" stroke-width="0.8"/>
<rect x="281.20" y="917.20" width="5.6" height="5.6" fill="#fff" stroke="#222" stroke-width="0.8"/>
<rect x="282.70" y="917.20" width="5.6" height="5.6" fill="#fff" stroke="#222" stroke-width="0.8"/>
<rect x="284.20" y="917.20" width="5.6" height="5.6" fill="#fff" stroke="#222" stroke-width="0.8"/>
<rect x="285.70" y="917.20" width="5.6" height="5.6" fill="#fff" stroke="#222" stroke-width="0.8"/>
<rect x="287.20" y="917.20" width="5.6" height="5.6" fill="#fff" stroke="#222" stroke-width="0.8"/>
<rect x="289.50" y="903.80" width="5.6" height="5.6" fill="#fff" stroke="#222" stroke-width="0.8"/>
<rect x="291.20" y="909.80" width="5.6" height="5.6" fill="#fff" stroke="#222" stroke-width="0.8"/>
<rect x="292.20" y="872.20" width="5.6" height="5.6" fill="#fff" stroke="#222" stroke-width="0.8"/>
<rect x="293.50" y="788.50" width="5.6" height="5.6" fill="#fff" stroke="#222" stroke-width="0.8"/>
<rect x="294.20" y="768.90" width="5.6" height="5.6" fill="#fff" stroke="#222" stroke-width="0.8"/>
<rect x="296.20" y="762.20" width="5.6" height="5.6" fill="#fff" stroke="#222" stroke-width="0.8"/>
<rect x="297.60" y="765.50" width="5.6" height="5.6" fill="#fff" stroke="#222" stroke-width="0.8"/>
<rect x="298.90" y="776.30" width="5.6" height="5.6" fill="#fff" stroke="#222" stroke-width="0.8"/>
<rect x="300.30" y="785.80" width="5.6" height="5.6" fill="#fff" stroke="#222" stroke-width="0.8"/>
<rect x="302.30" y="798.60" width="5.6" height="5.6" fill="#fff" stroke="#222" stroke-width="0.8"/>
<rect x="303.00" y="808.10" width="5.6" height="5.6" fill="#fff" stroke="#222" stroke-width="0.8"/>
<rect x="304.30" y="818.20" width="5.6" height="5.6" fill="#fff" stroke="#222" stroke-width="0.8"/>
<rect x="306.30" y="824.90" width="5.6" height="5.6" fill="#fff" stroke="#222" stroke-width="0.8"/>
<rect x="309.10" y="833.80" width="5.6" height="5.6" fill="#fff" stroke="#333" stroke-width="0.75"/>
<rect x="310.40" y="837.28" width="5.6" height="5.6" fill="#fff" stroke="#333" stroke-width="0.75"/>
<rect x="311.70" y="837.04" width="5.6" height="5.6" fill="#fff" stroke="#333" stroke-width="0.75"/>
<rect x="313.00" y="834.64" width="5.6" height="5.6" fill="#fff" stroke="#333" stroke-width="0.75"/>
<rect x="314.30" y="834.01" width="5.6" height="5.6" fill="#fff" stroke="#333" stroke-width="0.75"/>
<rect x="315.60" y="833.86" width="5.6" height="5.6" fill="#fff" stroke="#333" stroke-width="0.75"/>
<rect x="316.90" y="831.36" width="5.6" height="5.6" fill="#fff" stroke="#333" stroke-width="0.75"/>
<rect x="318.20" y="830.18" width="5.6" height="5.6" fill="#fff" stroke="#333" stroke-width="0.75"/>
<rect x="319.50" y="824.48" width="5.6" height="5.6" fill="#fff" stroke="#333" stroke-width="0.75"/>
<rect x="320.80" y="819.62" width="5.6" height="5.6" fill="#fff" stroke="#333" stroke-width="0.75"/>
<rect x="322.10" y="817.88" width="5.6" height="5.6" fill="#fff" stroke="#333" stroke-width="0.75"/>
<rect x="323.40" y="812.28" width="5.6" height="5.6" fill="#fff" stroke="#333" stroke-width="0.75"/>
<rect x="324.70" y="809.10" width="5.6" height="5.6" fill="#fff" stroke="#333" stroke-width="0.75"/>
<rect x="326.00" y="804.95" width="5.6" height="5.6" fill="#fff" stroke="#333" stroke-width="0.75"/>
<rect x="327.30" y="800.73" width="5.6" height="5.6" fill="#fff" stroke="#333" stroke-width="0.75"/>
<rect x="328.60" y="797.73" width="5.6" height="5.6" fill="#fff" stroke="#333" stroke-width="0.75"/>
<rect x="329.90" y="793.60" width="5.6" height="5.6" fill="#fff" stroke="#333" stroke-width="0.75"/>
<rect x="331.20" y="789.32" width="5.6" height="5.6" fill="#fff" stroke="#333" stroke-width="0.75"/>
<rect x="332.50" y="785.70" width="5.6" height="5.6" fill="#fff" stroke="#333" stroke-width="0.75"/>
<rect x="333.80" y="783.56" width="5.6" height="5.6" fill="#fff" stroke="#333" stroke-width="0.75"/>
<rect x="335.10" y="781.37" width="5.6" height="5.6" fill="#fff" stroke="#333" stroke-width="0.75"/>
<rect x="336.40" y="779.69" width="5.6" height="5.6" fill="#fff" stroke="#333" stroke-width="0.75"/>
<rect x="337.70" y="777.74" width="5.6" height="5.6" fill="#fff" stroke="#333" stroke-width="0.75"/>
<rect x="339.00" y="776.38" width="5.6" height="5.6" fill="#fff" stroke="#333" stroke-width="0.75"/>
<rect x="340.30" y="774.02" width="5.6" height="5.6" fill="#fff" stroke="#333" stroke-width="0.75"/>
<rect x="341.60" y="771.81" width="5.6" height="5.6" fill="#fff" stroke="#333" stroke-width="0.75"/>
<rect x="342.90" y="771.24" width="5.6" height="5.6" fill="#fff" stroke="#333" stroke-width="0.75"/>
<rect x="344.20" y="769.69" width="5.6" height="5.6" fill="#fff" stroke="#333" stroke-width="0.75"/>
<rect x="345.50" y="771.31" width="5.6" height="5.6" fill="#fff" stroke="#333" stroke-width="0.75"/>
<rect x="346.80" y="771.83" width="5.6" height="5.6" fill="#fff" stroke="#333" stroke-width="0.75"/>
<rect x="348.10" y="771.76" width="5.6" height="5.6" fill="#fff" stroke="#333" stroke-width="0.75"/>
<rect x="349.40" y="770.99" width="5.6" height="5.6" fill="#fff" stroke="#333" stroke-width="0.75"/>
<rect x="350.70" y="770.79" width="5.6" height="5.6" fill="#fff" stroke="#333" stroke-width="0.75"/>
<rect x="352.00" y="771.89" width="5.6" height="5.6" fill="#fff" stroke="#333" stroke-width="0.75"/>
<rect x="353.30" y="771.58" width="5.6" height="5.6" fill="#fff" stroke="#333" stroke-width="0.75"/>
<rect x="354.60" y="773.09" width="5.6" height="5.6" fill="#fff" stroke="#333" stroke-width="0.75"/>
<rect x="355.90" y="773.87" width="5.6" height="5.6" fill="#fff" stroke="#333" stroke-width="0.75"/>
<rect x="357.20" y="774.25" width="5.6" height="5.6" fill="#fff" stroke="#333" stroke-width="0.75"/>
<rect x="358.50" y="775.75" width="5.6" height="5.6" fill="#fff" stroke="#333" stroke-width="0.75"/>
<rect x="359.80" y="774.81" width="5.6" height="5.6" fill="#fff" stroke="#333" stroke-width="0.75"/>
<rect x="361.10" y="776.15" width="5.6" height="5.6" fill="#fff" stroke="#333" stroke-width="0.75"/>
<rect x="362.40" y="777.25" width="5.6" height="5.6" fill="#fff" stroke="#333" stroke-width="0.75"/>
<rect x="363.70" y="778.98" width="5.6" height="5.6" fill="#fff" stroke="#333" stroke-width="0.75"/>
<rect x="365.00" y="782.92" width="5.6" height="5.6" fill="#fff" stroke="#333" stroke-width="0.75"/>
<rect x="366.30" y="784.98" width="5.6" height="5.6" fill="#fff" stroke="#333" stroke-width="0.75"/>
<rect x="367.60" y="785.30" width="5.6" height="5.6" fill="#fff" stroke="#333" stroke-width="0.75"/>
<rect x="368.90" y="787.65" width="5.6" height="5.6" fill="#fff" stroke="#333" stroke-width="0.75"/>
<rect x="370.20" y="789.99" width="5.6" height="5.6" fill="#fff" stroke="#333" stroke-width="0.75"/>
<rect x="371.50" y="791.37" width="5.6" height="5.6" fill="#fff" stroke="#333" stroke-width="0.75"/>
<rect x="372.80" y="793.38" width="5.6" height="5.6" fill="#fff" stroke="#333" stroke-width="0.75"/>
<rect x="374.10" y="792.79" width="5.6" height="5.6" fill="#fff" stroke="#333" stroke-width="0.75"/>
<rect x="375.40" y="794.95" width="5.6" height="5.6" fill="#fff" stroke="#333" stroke-width="0.75"/>
<rect x="376.70" y="797.53" width="5.6" height="5.6" fill="#fff" stroke="#333" stroke-width="0.75"/>
<rect x="378.00" y="800.01" width="5.6" height="5.6" fill="#fff" stroke="#333" stroke-width="0.75"/>
<rect x="379.30" y="800.42" width="5.6" height="5.6" fill="#fff" stroke="#333" stroke-width="0.75"/>
<rect x="380.60" y="801.18" width="5.6" height="5.6" fill="#fff" stroke="#333" stroke-width="0.75"/>
<rect x="381.90" y="803.29" width="5.6" height="5.6" fill="#fff" stroke="#333" stroke-width="0.75"/>
<rect x="383.20" y="804.68" width="5.6" height="5.6" fill="#fff" stroke="#333" stroke-width="0.75"/>
<rect x="384.50" y="806.17" width="5.6" height="5.6" fill="#fff" stroke="#333" stroke-width="0.75"/>
<rect x="385.80" y="809.96" width="5.6" height="5.6" fill="#fff" stroke="#333" stroke-width="0.75"/>
<rect x="387.10" y="809.68" width="5.6" height="5.6" fill="#fff" stroke="#333" stroke-width="0.75"/>
<rect x="388.40" y="811.86" width="5.6" height="5.6" fill="#fff" stroke="#333" stroke-width="0.75"/>
<rect x="389.70" y="815.33" width="5.6" height="5.6" fill="#fff" stroke="#333" stroke-width="0.75"/>
<rect x="391.00" y="815.93" width="5.6" height="5.6" fill="#fff" stroke="#333" stroke-width="0.75"/>
<rect x="392.30" y="816.58" width="5.6" height="5.6" fill="#fff" stroke="#333" stroke-width="0.75"/>
<rect x="393.60" y="817.12" width="5.6" height="5.6" fill="#fff" stroke="#333" stroke-width="0.75"/>
<rect x="394.90" y="819.44" width="5.6" height="5.6" fill="#fff" stroke="#333" stroke-width="0.75"/>
<rect x="396.20" y="821.96" width="5.6" height="5.6" fill="#fff" stroke="#333" stroke-width="0.75"/>
<rect x="397.50" y="822.55" width="5.6" height="5.6" fill="#fff" stroke="#333" stroke-width="0.75"/>
<rect x="398.80" y="824.72" width="5.6" height="5.6" fill="#fff" stroke="#333" stroke-width="0.75"/>
<rect x="400.10" y="825.38" width="5.6" height="5.6" fill="#fff" stroke="#333" stroke-width="0.75"/>
<rect x="401.40" y="827.56" width="5.6" height="5.6" fill="#fff" stroke="#333" stroke-width="0.75"/>
<rect x="402.70" y="828.78" width="5.6" height="5.6" fill="#fff" stroke="#333" stroke-width="0.75"/>
<rect x="404.00" y="831.21" width="5.6" height="5.6" fill="#fff" stroke="#333" stroke-width="0.75"/>
<rect x="405.30" y="833.83" width="5.6" height="5.6" fill="#fff" stroke="#333" stroke-width="0.75"/>
<rect x="406.60" y="833.12" width="5.6" height="5.6" fill="#fff" stroke="#333" stroke-width="0.75"/>
<rect x="407.90" y="835.96" width="5.6" height="5.6" fill="#fff" stroke="#333" stroke-width="0.75"/>
<rect x="409.20" y="837.70" width="5.6" height="5.6" fill="#fff" stroke="#333" stroke-width="0.75"/>
<rect x="410.50" y="838.33" width="5.6" height="5.6" fill="#fff" stroke="#333" stroke-width="0.75"/>
<rect x="411.80" y="839.85" width="5.6" height="5.6" fill="#fff" stroke="#333" stroke-width="0.75"/>
<rect x="413.10" y="842.08" width="5.6" height="5.6" fill="#fff" stroke="#333" stroke-width="0.75"/>
<rect x="414.40" y="844.41" width="5.6" height="5.6" fill="#fff" stroke="#333" stroke-width="0.75"/>
<rect x="415.70" y="844.44" width="5.6" height="5.6" fill="#fff" stroke="#333" stroke-width="0.75"/>
<rect x="417.00" y="845.49" width="5.6" height="5.6" fill="#fff" stroke="#333" stroke-width="0.75"/>
<rect x="418.30" y="845.16" width="5.6" height="5.6" fill="#fff" stroke="#333" stroke-width="0.75"/>
<rect x="419.60" y="849.65" width="5.6" height="5.6" fill="#fff" stroke="#333" stroke-width="0.75"/>
<rect x="420.90" y="849.35" width="5.6" height="5.6" fill="#fff" stroke="#333" stroke-width="0.75"/>
<rect x="422.20" y="850.64" width="5.6" height="5.6" fill="#fff" stroke="#333" stroke-width="0.75"/>
<rect x="423.50" y="851.09" width="5.6" height="5.6" fill="#fff" stroke="#333" stroke-width="0.75"/>
<rect x="424.80" y="853.54" width="5.6" height="5.6" fill="#fff" stroke="#333" stroke-width="0.75"/>
<rect x="426.10" y="854.17" width="5.6" height="5.6" fill="#fff" stroke="#333" stroke-width="0.75"/>
<rect x="427.40" y="856.89" width="5.6" height="5.6" fill="#fff" stroke="#333" stroke-width="0.75"/>
<rect x="428.70" y="859.03" width="5.6" height="5.6" fill="#fff" stroke="#333" stroke-width="0.75"/>
<rect x="430.00" y="860.51" width="5.6" height="5.6" fill="#fff" stroke="#333" stroke-width="0.75"/>
<rect x="431.30" y="862.64" width="5.6" height="5.6" fill="#fff" stroke="#333" stroke-width="0.75"/>
<rect x="432.60" y="863.52" width="5.6" height="5.6" fill="#fff" stroke="#333" stroke-width="0.75"/>
<rect x="433.90" y="867.43" width="5.6" height="5.6" fill="#fff" stroke="#333" stroke-width="0.75"/>
<rect x="435.20" y="867.32" width="5.6" height="5.6" fill="#fff" stroke="#333" stroke-width="0.75"/>
<rect x="436.50" y="867.91" width="5.6" height="5.6" fill="#fff" stroke="#333" stroke-width="0.75"/>
<rect x="437.80" y="870.94" width="5.6" height="5.6" fill="#fff" stroke="#333" stroke-width="0.75"/>
<rect x="439.10" y="871.92" width="5.6" height="5.6" fill="#fff" stroke="#333" stroke-width="0.75"/>
<rect x="440.40" y="873.15" width="5.6" height="5.6" fill="#fff" stroke="#333" stroke-width="0.75"/>
<rect x="441.70" y="875.18" width="5.6" height="5.6" fill="#fff" stroke="#333" stroke-width="0.75"/>
<rect x="443.00" y="877.19" width="5.6" height="5.6" fill="#fff" stroke="#333" stroke-width="0.75"/>
<rect x="307.8" y="833.1" width="8.4" height="8.6" fill="#000"/>
<rect x="346.2" y="769.7" width="9.1" height="8.8" fill="#800080"/>
<text transform="translate(490.00,732.60) scale(0.99,1)" font-size="20.3" text-anchor="start" fill="#000" font-weight="bold" >k</text>
<line x1="554.70" y1="751.80" x2="554.70" y2="990.20" stroke="#000" stroke-width="1.1" />
<line x1="548.90" y1="752.69" x2="554.70" y2="752.69" stroke="#000" stroke-width="1.1" />
<text transform="translate(543.20,757.19) scale(1.04,1)" font-size="12.5" text-anchor="end" fill="#000" font-weight="normal" >900</text>
<line x1="548.90" y1="798.56" x2="554.70" y2="798.56" stroke="#000" stroke-width="1.1" />
<text transform="translate(543.20,803.06) scale(1.04,1)" font-size="12.5" text-anchor="end" fill="#000" font-weight="normal" >600</text>
<line x1="548.90" y1="844.43" x2="554.70" y2="844.43" stroke="#000" stroke-width="1.1" />
<text transform="translate(543.20,848.93) scale(1.04,1)" font-size="12.5" text-anchor="end" fill="#000" font-weight="normal" >300</text>
<line x1="548.90" y1="936.17" x2="554.70" y2="936.17" stroke="#000" stroke-width="1.1" />
<text transform="translate(543.20,940.67) scale(1.04,1)" font-size="12.5" text-anchor="end" fill="#000" font-weight="normal" >−300</text>
<line x1="548.90" y1="982.04" x2="554.70" y2="982.04" stroke="#000" stroke-width="1.1" />
<text transform="translate(543.20,986.54) scale(1.04,1)" font-size="12.5" text-anchor="end" fill="#000" font-weight="normal" >−600</text>
<line x1="489.40" y1="890.30" x2="620.00" y2="890.30" stroke="#000" stroke-width="1.1" />
<line x1="502.90" y1="890.30" x2="502.90" y2="896.30" stroke="#000" stroke-width="1.1" />
<text transform="translate(507.30,899.0) rotate(-90) scale(1.04,1)" font-size="12.5" text-anchor="end" fill="#000">−100</text>
<line x1="528.80" y1="890.30" x2="528.80" y2="896.30" stroke="#000" stroke-width="1.1" />
<text transform="translate(533.20,899.0) rotate(-90) scale(1.04,1)" font-size="12.5" text-anchor="end" fill="#000">−50</text>
<line x1="580.60" y1="890.30" x2="580.60" y2="896.30" stroke="#000" stroke-width="1.1" />
<text transform="translate(585.00,899.0) rotate(-90) scale(1.04,1)" font-size="12.5" text-anchor="end" fill="#000">50</text>
<line x1="606.50" y1="890.30" x2="606.50" y2="896.30" stroke="#000" stroke-width="1.1" />
<text transform="translate(610.90,899.0) rotate(-90) scale(1.04,1)" font-size="12.5" text-anchor="end" fill="#000">100</text>
<text transform="translate(564.5,942.9) scale(1.03,1)" font-size="12.5" fill="#000"><tspan font-style="italic">V</tspan><tspan font-size="8.8" dy="3.5">m</tspan><tspan dy="-3.5"> (mV)</tspan></text>
<text transform="translate(509.30,816.70) rotate(-90) scale(0.9916,1)" font-size="13" text-anchor="middle" fill="#000">Current density (pA pF<tspan font-size="9.1" dy="-5">−1</tspan><tspan dy="5">)</tspan></text>
<polyline points="490.20,986.50 490.22,985.21 490.25,983.47 490.29,981.40 490.32,979.11 490.37,976.71 490.41,974.32 490.46,972.05 490.50,970.00 490.54,968.15 490.57,966.38 490.59,964.67 490.62,962.99 490.67,961.33 490.72,959.66 490.80,957.95 490.90,956.20 491.02,954.35 491.16,952.40 491.32,950.40 491.49,948.40 491.68,946.45 491.89,944.60 492.13,942.90 492.40,941.40 492.70,940.09 493.05,938.91 493.42,937.85 493.81,936.91 494.22,936.07 494.62,935.31 495.02,934.63 495.40,934.00 495.74,933.48 496.04,933.09 496.33,932.80 496.62,932.58 496.94,932.40 497.31,932.24 497.76,932.04 498.30,931.80 498.94,931.52 499.64,931.25 500.41,930.97 501.23,930.69 502.11,930.41 503.03,930.12 504.00,929.82 505.00,929.50 506.03,929.20 507.07,928.94 508.16,928.68 509.29,928.41 510.49,928.09 511.77,927.70 513.13,927.22 514.60,926.60 516.22,925.85 518.00,924.98 519.90,924.01 521.86,922.98 523.84,921.88 525.79,920.76 527.66,919.62 529.40,918.50 531.04,917.38 532.63,916.24 534.17,915.07 535.67,913.88 537.12,912.66 538.52,911.41 539.88,910.12 541.20,908.80 542.48,907.39 543.73,905.89 544.93,904.32 546.09,902.74 547.20,901.17 548.24,899.67 549.21,898.26 550.10,897.00 550.92,895.84 551.68,894.73 552.38,893.68 553.01,892.71 553.57,891.84 554.05,891.07 554.47,890.42 554.80,889.90 554.80,889.90 556.06,887.93 557.74,885.30 559.75,882.16 561.97,878.68 564.31,875.02 566.65,871.33 568.88,867.77 570.90,864.50 572.75,861.49 574.55,858.59 576.30,855.73 578.03,852.89 579.74,850.02 581.45,847.08 583.16,844.02 584.90,840.80 586.67,837.40 588.47,833.84 590.27,830.17 592.08,826.42 593.86,822.64 595.60,818.86 597.28,815.14 598.90,811.50 600.45,807.92 601.95,804.34 603.40,800.78 604.81,797.24 606.18,793.73 607.52,790.27 608.82,786.85 610.10,783.50 611.39,780.05 612.72,776.43 614.03,772.77 615.30,769.20 616.48,765.85 617.53,762.84 618.42,760.32 619.10,758.40" fill="none" stroke="#800080" stroke-width="1.6" stroke-linejoin="round" />
<polyline points="490.20,913.27 490.24,912.87 490.29,911.75 490.35,910.42 490.41,909.20 490.50,907.83 490.60,906.56 490.74,905.54 490.90,904.38 491.09,903.08 491.31,902.78 491.55,901.90 491.81,901.56 492.10,900.70 492.41,900.28 492.74,900.15 493.10,898.99 493.47,898.49 493.87,897.99 494.28,897.39 494.71,897.12 495.18,897.23 495.68,896.72 496.22,896.19 496.80,896.00 497.40,896.19 498.00,895.72 498.63,895.63 499.29,895.63 500.02,895.72 500.84,895.72 501.76,895.43 502.80,895.13 503.98,895.02 505.27,895.24 506.67,895.07 508.15,894.63 509.70,894.69 511.30,894.56 512.94,894.42 514.60,894.20 516.31,893.92 518.09,893.97 519.93,893.65 521.81,894.09 523.72,893.83 525.63,893.35 527.53,893.73 529.40,893.48 531.28,892.76 533.20,893.34 535.13,892.95 537.06,893.02 538.96,892.17 540.80,892.32 542.55,892.09 544.20,891.84 545.80,891.60 547.39,891.52 548.95,890.73 550.43,890.51 551.79,890.21 552.99,890.14 554.01,889.93 554.80,889.97 554.80,889.90 555.73,889.47 556.98,888.90 558.46,888.23 560.11,887.48 561.84,886.67 563.58,885.82 565.26,884.96 566.80,884.10 568.26,883.23 569.73,882.31 571.20,881.36 572.66,880.38 574.07,879.39 575.43,878.38 576.71,877.39 577.90,876.40 578.98,875.43 579.96,874.48 580.86,873.53 581.71,872.57 582.53,871.60 583.33,870.60 584.15,869.57 585.00,868.50 585.84,867.46 586.64,866.48 587.41,865.52 588.19,864.51 589.01,863.40 589.88,862.13 590.83,860.65 591.90,858.90 593.12,856.79 594.50,854.34 595.97,851.65 597.49,848.81 599.02,845.93 600.49,843.10 601.87,840.43 603.10,838.00 604.16,835.85 605.10,833.91 605.94,832.09 606.74,830.34 607.51,828.59 608.31,826.76 609.16,824.78 610.10,822.60 611.19,820.05 612.42,817.13 613.72,814.00 615.04,810.84 616.30,807.79 617.44,805.03 618.39,802.71 619.10,801.00" fill="none" stroke="#000" stroke-width="1.9" stroke-linejoin="round" />
<text transform="translate(633.50,732.60) scale(0.99,1)" font-size="20.3" text-anchor="start" fill="#000" font-weight="bold" >l</text>
<line x1="697.50" y1="751.70" x2="697.50" y2="990.10" stroke="#000" stroke-width="1.1" />
<line x1="691.90" y1="990.10" x2="946.00" y2="990.10" stroke="#000" stroke-width="1.1" />
<line x1="691.90" y1="752.70" x2="697.50" y2="752.70" stroke="#000" stroke-width="1.1" />
<text transform="translate(686.30,757.40) scale(1.06,1)" font-size="13" text-anchor="end" fill="#000" font-weight="normal" >1,500</text>
<line x1="691.90" y1="800.18" x2="697.50" y2="800.18" stroke="#000" stroke-width="1.1" />
<text transform="translate(686.30,804.88) scale(1.06,1)" font-size="13" text-anchor="end" fill="#000" font-weight="normal" >1,200</text>
<line x1="691.90" y1="847.66" x2="697.50" y2="847.66" stroke="#000" stroke-width="1.1" />
<text transform="translate(686.30,852.36) scale(1.06,1)" font-size="13" text-anchor="end" fill="#000" font-weight="normal" >900</text>
<line x1="691.90" y1="895.14" x2="697.50" y2="895.14" stroke="#000" stroke-width="1.1" />
<text transform="translate(686.30,899.84) scale(1.06,1)" font-size="13" text-anchor="end" fill="#000" font-weight="normal" >600</text>
<line x1="691.90" y1="942.62" x2="697.50" y2="942.62" stroke="#000" stroke-width="1.1" />
<text transform="translate(686.30,947.32) scale(1.06,1)" font-size="13" text-anchor="end" fill="#000" font-weight="normal" >300</text>
<line x1="691.90" y1="990.10" x2="697.50" y2="990.10" stroke="#000" stroke-width="1.1" />
<text transform="translate(686.30,994.80) scale(1.06,1)" font-size="13" text-anchor="end" fill="#000" font-weight="normal" >0</text>
<rect x="716.50" y="891.18" width="42.40" height="98.92" fill="#000" />
<line x1="737.70" y1="870.21" x2="737.70" y2="891.18" stroke="#000" stroke-width="1.1" />
<line x1="730.00" y1="870.21" x2="745.40" y2="870.21" stroke="#000" stroke-width="1.1" />
<rect x="762.30" y="815.37" width="43.10" height="174.73" fill="#800080" />
<line x1="783.85" y1="787.91" x2="783.85" y2="815.37" stroke="#800080" stroke-width="1.1" />
<line x1="776.15" y1="787.91" x2="791.55" y2="787.91" stroke="#800080" stroke-width="1.1" />
<rect x="842.30" y="956.71" width="42.30" height="33.39" fill="#000" />
<line x1="863.45" y1="946.42" x2="863.45" y2="956.71" stroke="#000" stroke-width="1.1" />
<line x1="855.75" y1="946.42" x2="871.15" y2="946.42" stroke="#000" stroke-width="1.1" />
<rect x="888.00" y="924.73" width="43.90" height="65.37" fill="#800080" />
<line x1="909.95" y1="908.12" x2="909.95" y2="924.73" stroke="#800080" stroke-width="1.1" />
<line x1="902.25" y1="908.12" x2="917.65" y2="908.12" stroke="#800080" stroke-width="1.1" />
<polyline points="736.10,801.00 736.10,762.00 781.00,762.00 781.00,772.40" fill="none" stroke="#000" stroke-width="1.1" stroke-linejoin="round" stroke-linejoin="miter"/>
<path d="M753.50,752.70 L754.29,754.61 L756.35,754.77 L754.78,756.12 L755.26,758.13 L753.50,757.05 L751.74,758.13 L752.22,756.12 L750.65,754.77 L752.71,754.61 Z" fill="#000" stroke="#000" stroke-width="0.5" stroke-linejoin="round"/>
<path d="M760.60,752.70 L761.39,754.61 L763.45,754.77 L761.88,756.12 L762.36,758.13 L760.60,757.05 L758.84,758.13 L759.32,756.12 L757.75,754.77 L759.81,754.61 Z" fill="#000" stroke="#000" stroke-width="0.5" stroke-linejoin="round"/>
<path d="M767.70,752.70 L768.49,754.61 L770.55,754.77 L768.98,756.12 L769.46,758.13 L767.70,757.05 L765.94,758.13 L766.42,756.12 L764.85,754.77 L766.91,754.61 Z" fill="#000" stroke="#000" stroke-width="0.5" stroke-linejoin="round"/>
<polyline points="862.00,909.20 862.00,885.40 908.40,885.40 908.40,890.60" fill="none" stroke="#000" stroke-width="1.1" stroke-linejoin="round" stroke-linejoin="miter"/>
<path d="M878.20,875.70 L878.99,877.61 L881.05,877.77 L879.48,879.12 L879.96,881.13 L878.20,880.05 L876.44,881.13 L876.92,879.12 L875.35,877.77 L877.41,877.61 Z" fill="#000" stroke="#000" stroke-width="0.5" stroke-linejoin="round"/>
<path d="M885.30,875.70 L886.09,877.61 L888.15,877.77 L886.58,879.12 L887.06,881.13 L885.30,880.05 L883.54,881.13 L884.02,879.12 L882.45,877.77 L884.51,877.61 Z" fill="#000" stroke="#000" stroke-width="0.5" stroke-linejoin="round"/>
<path d="M892.40,875.70 L893.19,877.61 L895.25,877.77 L893.68,879.12 L894.16,881.13 L892.40,880.05 L890.64,881.13 L891.12,879.12 L889.55,877.77 L891.61,877.61 Z" fill="#000" stroke="#000" stroke-width="0.5" stroke-linejoin="round"/>
<line x1="760.60" y1="990.10" x2="760.60" y2="996.60" stroke="#000" stroke-width="1.1" />
<line x1="886.40" y1="990.10" x2="886.40" y2="996.60" stroke="#000" stroke-width="1.1" />
<text transform="translate(672.40,1013.20) scale(1.06,1)" font-size="13" text-anchor="start" fill="#000" font-weight="normal" >Steviol</text>
<text transform="translate(738.90,1013.50) scale(1.06,1)" font-size="13" text-anchor="middle" fill="#000" font-weight="normal" >−</text>
<text transform="translate(784.70,1013.50) scale(1.06,1)" font-size="13" text-anchor="middle" fill="#000" font-weight="normal" >+</text>
<text transform="translate(864.00,1013.50) scale(1.06,1)" font-size="13" text-anchor="middle" fill="#000" font-weight="normal" >−</text>
<text transform="translate(913.60,1013.50) scale(1.06,1)" font-size="13" text-anchor="middle" fill="#000" font-weight="normal" >+</text>
<text transform="translate(759.60,1034.30) scale(1.06,1)" font-size="13" text-anchor="middle" fill="#000" font-weight="normal" >+100 mV</text>
<text transform="translate(887.00,1034.30) scale(1.06,1)" font-size="13" text-anchor="middle" fill="#000" font-weight="normal" >−100 mV</text>
<text transform="translate(645.00,873.20) rotate(-90) scale(1.1041,1)" font-size="13" text-anchor="middle" fill="#000">Current density (pA pF<tspan font-size="9.1" dy="-5">−1</tspan><tspan dy="5">)</tspan></text>
<text transform="translate(4.20,16.80) scale(0.99,1)" font-size="20.3" text-anchor="start" fill="#000" font-weight="bold" >a</text>
<text transform="translate(95.30,40.20) scale(1.06,1)" font-size="13" text-anchor="middle" fill="#000" font-weight="normal" >Stevioside</text>
<path d="M114.10,115.50 L102.40,105.00 L120.50,86.20 L155.90,86.20 L174.00,103.30 L157.70,121.90 L126.30,122.20" fill="none" stroke="#0000c8" stroke-width="2.4" stroke-linejoin="round" stroke-linecap="round"/>
<text transform="translate(119.30,127.14) scale(0.97,1)" font-size="13.8" text-anchor="middle" fill="#0808b0">O</text>
<line x1="120.50" y1="86.20" x2="120.50" y2="76.00" stroke="#0000c8" stroke-width="2.4" stroke-linecap="round"/>
<text transform="translate(114.40,73.64) scale(0.97,1)" font-size="13.8" text-anchor="middle" fill="#0808b0">HO</text>
<line x1="155.90" y1="86.20" x2="155.90" y2="76.00" stroke="#0000c8" stroke-width="2.4" stroke-linecap="round"/>
<text transform="translate(160.60,73.64) scale(0.97,1)" font-size="13.8" text-anchor="middle" fill="#0808b0">OH</text>
<line x1="174.00" y1="103.30" x2="174.00" y2="91.20" stroke="#0000c8" stroke-width="2.4" stroke-linecap="round"/>
<text transform="translate(178.60,89.64) scale(0.97,1)" font-size="13.8" text-anchor="middle" fill="#0808b0">OH</text>
<path d="M157.70,121.90 L171.60,130.60 L171.60,148.00" fill="none" stroke="#0000c8" stroke-width="2.4" stroke-linejoin="round" stroke-linecap="round"/>
<text transform="translate(176.30,160.84) scale(0.97,1)" font-size="13.8" text-anchor="middle" fill="#0808b0">OH</text>
<line x1="102.40" y1="105.00" x2="92.60" y2="122.60" stroke="#0000c8" stroke-width="2.4" stroke-linecap="round"/>
<text transform="translate(87.80,133.74) scale(0.97,1)" font-size="13.8" text-anchor="middle" fill="#0808b0">O</text>
<path d="M17.40,162.00 L5.60,149.00 L23.30,132.70 L59.90,132.70 L76.70,149.80 L59.30,167.80 L29.70,168.40" fill="none" stroke="#0000c8" stroke-width="2.4" stroke-linejoin="round" stroke-linecap="round"/>
<text transform="translate(23.30,173.94) scale(0.97,1)" font-size="13.8" text-anchor="middle" fill="#0808b0">O</text>
<line x1="23.30" y1="132.70" x2="23.30" y2="121.90" stroke="#0000c8" stroke-width="2.4" stroke-linecap="round"/>
<text transform="translate(19.20,119.54) scale(0.97,1)" font-size="13.8" text-anchor="middle" fill="#0808b0">HO</text>
<line x1="59.90" y1="132.70" x2="59.90" y2="121.90" stroke="#0000c8" stroke-width="2.4" stroke-linecap="round"/>
<text transform="translate(64.50,119.54) scale(0.97,1)" font-size="13.8" text-anchor="middle" fill="#0808b0">OH</text>
<path d="M5.60,149.00 L5.60,174.80 L11.60,181.70" fill="none" stroke="#0000c8" stroke-width="2.4" stroke-linejoin="round" stroke-linecap="round"/>
<text transform="translate(23.80,193.94) scale(0.97,1)" font-size="13.8" text-anchor="middle" fill="#0808b0">OH</text>
<line x1="59.30" y1="167.80" x2="59.30" y2="186.40" stroke="#0000c8" stroke-width="2.4" stroke-linecap="round"/>
<text transform="translate(54.10,200.94) scale(0.97,1)" font-size="13.8" text-anchor="middle" fill="#0808b0">HO</text>
<line x1="76.70" y1="149.80" x2="85.30" y2="135.00" stroke="#0000c8" stroke-width="2.4" stroke-linecap="round"/>
<line x1="59.30" y1="167.80" x2="90.10" y2="151.50" stroke="#0000c8" stroke-width="2.4" stroke-linecap="round"/>
<path d="M65.80,237.60 L36.30,237.60 L18.80,255.80" fill="none" stroke="#0000c8" stroke-width="2.4" stroke-linejoin="round" stroke-linecap="round"/>
<path d="M77.00,244.50 L89.00,260.20 L72.00,272.70 L36.30,272.70" fill="none" stroke="#0000c8" stroke-width="2.4" stroke-linejoin="round" stroke-linecap="round"/>
<line x1="18.80" y1="255.80" x2="36.30" y2="272.70" stroke="#0000c8" stroke-width="3.4" stroke-linecap="round"/>
<text transform="translate(74.50,242.14) scale(0.97,1)" font-size="13.8" text-anchor="middle" fill="#0808b0">O</text>
<path d="M36.30,237.60 L36.30,220.70 L28.00,216.60" fill="none" stroke="#0000c8" stroke-width="2.4" stroke-linejoin="round" stroke-linecap="round"/>
<text transform="translate(16.30,219.34) scale(0.97,1)" font-size="13.8" text-anchor="middle" fill="#0808b0">HO</text>
<line x1="18.80" y1="255.80" x2="18.80" y2="269.60" stroke="#0000c8" stroke-width="3.0" stroke-linecap="round"/>
<text transform="translate(22.60,283.24) scale(0.97,1)" font-size="13.8" text-anchor="middle" fill="#0808b0">OH</text>
<line x1="36.30" y1="272.70" x2="36.30" y2="284.50" stroke="#0000c8" stroke-width="3.0" stroke-linecap="round"/>
<text transform="translate(40.70,298.94) scale(0.97,1)" font-size="13.8" text-anchor="middle" fill="#0808b0">OH</text>
<line x1="72.00" y1="272.70" x2="72.00" y2="284.50" stroke="#0000c8" stroke-width="2.4" stroke-linecap="round"/>
<text transform="translate(77.00,298.94) scale(0.97,1)" font-size="13.8" text-anchor="middle" fill="#0808b0">OH</text>
<line x1="89.00" y1="260.20" x2="95.80" y2="299.80" stroke="#0000c8" stroke-width="2.4" stroke-linecap="round"/>
<text transform="translate(95.90,153.24) scale(0.97,1)" font-size="13.8" text-anchor="middle" fill="#6c0a6c">O</text>
<line x1="100.20" y1="154.30" x2="106.40" y2="162.20" stroke="#800080" stroke-width="2.4" stroke-linecap="round"/>
<path d="M91.90,183.50 L106.40,162.20 L130.20,160.60 L147.50,179.00 L145.00,204.20" fill="none" stroke="#800080" stroke-width="2.4" stroke-linejoin="round" stroke-linecap="round"/>
<path d="M91.90,183.50 L99.20,207.60 L122.90,216.20 L145.00,204.20 L166.90,217.20 L166.90,242.00 L145.30,254.20 L122.90,243.00 L122.90,216.20" fill="none" stroke="#800080" stroke-width="2.4" stroke-linejoin="round" stroke-linecap="round"/>
<path d="M122.90,243.00 L100.70,254.60 L100.70,279.70 L122.80,292.40 L144.90,280.20 L145.30,254.20" fill="none" stroke="#800080" stroke-width="2.4" stroke-linejoin="round" stroke-linecap="round"/>
<line x1="108.23" y1="164.62" x2="105.58" y2="165.20" stroke="#800080" stroke-width="1.6"/>
<line x1="108.96" y1="167.42" x2="106.07" y2="168.04" stroke="#800080" stroke-width="1.6"/>
<line x1="109.68" y1="170.21" x2="106.56" y2="170.88" stroke="#800080" stroke-width="1.6"/>
<line x1="110.41" y1="173.00" x2="107.06" y2="173.73" stroke="#800080" stroke-width="1.6"/>
<line x1="111.13" y1="175.79" x2="107.55" y2="176.57" stroke="#800080" stroke-width="1.6"/>
<line x1="111.86" y1="178.59" x2="108.04" y2="179.41" stroke="#800080" stroke-width="1.6"/>
<line x1="112.58" y1="181.38" x2="108.54" y2="182.26" stroke="#800080" stroke-width="1.6"/>
<line x1="113.31" y1="184.17" x2="109.03" y2="185.10" stroke="#800080" stroke-width="1.6"/>
<line x1="114.03" y1="186.97" x2="109.52" y2="187.94" stroke="#800080" stroke-width="1.6"/>
<line x1="114.75" y1="189.76" x2="110.02" y2="190.78" stroke="#800080" stroke-width="1.6"/>
<line x1="115.48" y1="192.55" x2="110.51" y2="193.63" stroke="#800080" stroke-width="1.6"/>
<line x1="115.52" y1="194.06" x2="114.56" y2="197.61" stroke="#800080" stroke-width="1.6"/>
<line x1="118.03" y1="194.65" x2="117.02" y2="198.37" stroke="#800080" stroke-width="1.6"/>
<line x1="120.54" y1="195.25" x2="119.48" y2="199.13" stroke="#800080" stroke-width="1.6"/>
<line x1="123.04" y1="195.84" x2="121.94" y2="199.88" stroke="#800080" stroke-width="1.6"/>
<line x1="125.55" y1="196.44" x2="124.40" y2="200.64" stroke="#800080" stroke-width="1.6"/>
<line x1="128.05" y1="197.03" x2="126.87" y2="201.39" stroke="#800080" stroke-width="1.6"/>
<line x1="130.56" y1="197.63" x2="129.33" y2="202.15" stroke="#800080" stroke-width="1.6"/>
<line x1="133.06" y1="198.22" x2="131.79" y2="202.90" stroke="#800080" stroke-width="1.6"/>
<line x1="135.57" y1="198.82" x2="134.25" y2="203.66" stroke="#800080" stroke-width="1.6"/>
<line x1="138.07" y1="199.41" x2="136.71" y2="204.41" stroke="#800080" stroke-width="1.6"/>
<line x1="140.58" y1="200.01" x2="139.17" y2="205.17" stroke="#800080" stroke-width="1.6"/>
<line x1="143.08" y1="200.60" x2="141.63" y2="205.92" stroke="#800080" stroke-width="1.6"/>
<line x1="130.20" y1="160.60" x2="140.40" y2="145.60" stroke="#800080" stroke-width="2.4" stroke-linecap="round"/>
<line x1="135.42" y1="159.32" x2="143.38" y2="147.62" stroke="#800080" stroke-width="2.4" stroke-linecap="round"/>
<text transform="translate(140.00,145.74) scale(0.97,1)" font-size="13.8" fill="#6c0a6c">CH<tspan font-size="9.9" dy="3.7">2</tspan></text>
<path d="M122.90,216.20 L135.50,226.04 L137.30,223.16 Z" fill="#800080" stroke="#800080" stroke-width="0.6" stroke-linejoin="round"/>
<text transform="translate(142.20,233.74) scale(0.97,1)" font-size="13.8" text-anchor="middle" fill="#6c0a6c">H</text>
<line x1="121.48" y1="242.95" x2="122.11" y2="241.82" stroke="#800080" stroke-width="1.6"/>
<line x1="119.11" y1="241.98" x2="120.04" y2="240.32" stroke="#800080" stroke-width="1.6"/>
<line x1="116.75" y1="241.01" x2="117.97" y2="238.82" stroke="#800080" stroke-width="1.6"/>
<line x1="114.39" y1="240.04" x2="115.90" y2="237.33" stroke="#800080" stroke-width="1.6"/>
<line x1="112.03" y1="239.07" x2="113.82" y2="235.83" stroke="#800080" stroke-width="1.6"/>
<line x1="109.66" y1="238.10" x2="111.75" y2="234.34" stroke="#800080" stroke-width="1.6"/>
<text transform="translate(107.40,235.54) scale(0.97,1)" font-size="13.8" text-anchor="end" fill="#6c0a6c">H<tspan font-size="9.9" dy="3.7">3</tspan><tspan dy="-3.7">C</tspan></text>
<path d="M145.30,254.20 L151.52,261.51 L153.68,258.89 Z" fill="#800080" stroke="#800080" stroke-width="0.6" stroke-linejoin="round"/>
<text transform="translate(159.20,267.44) scale(0.97,1)" font-size="13.8" text-anchor="middle" fill="#6c0a6c">H</text>
<path d="M144.90,280.20 L163.65,281.60 L163.55,277.80 Z" fill="#800080" stroke="#800080" stroke-width="0.6" stroke-linejoin="round"/>
<text transform="translate(166.80,284.94) scale(0.97,1)" font-size="13.8" fill="#6c0a6c">CH<tspan font-size="9.9" dy="3.7">3</tspan></text>
<line x1="145.62" y1="281.31" x2="144.18" y2="281.31" stroke="#800080" stroke-width="1.6"/>
<line x1="145.86" y1="283.54" x2="143.94" y2="283.54" stroke="#800080" stroke-width="1.6"/>
<line x1="146.09" y1="285.76" x2="143.71" y2="285.76" stroke="#800080" stroke-width="1.6"/>
<line x1="146.33" y1="287.99" x2="143.47" y2="287.99" stroke="#800080" stroke-width="1.6"/>
<line x1="146.57" y1="290.21" x2="143.23" y2="290.21" stroke="#800080" stroke-width="1.6"/>
<line x1="146.81" y1="292.44" x2="142.99" y2="292.44" stroke="#800080" stroke-width="1.6"/>
<line x1="147.04" y1="294.66" x2="142.76" y2="294.66" stroke="#800080" stroke-width="1.6"/>
<line x1="147.28" y1="296.89" x2="142.52" y2="296.89" stroke="#800080" stroke-width="1.6"/>
<line x1="144.90" y1="299.40" x2="159.60" y2="308.80" stroke="#800080" stroke-width="2.4" stroke-linecap="round"/>
<line x1="149.67" y1="298.42" x2="161.43" y2="305.94" stroke="#800080" stroke-width="2.4" stroke-linecap="round"/>
<text transform="translate(166.40,314.84) scale(0.97,1)" font-size="13.8" text-anchor="middle" fill="#6c0a6c">O</text>
<text transform="translate(96.00,310.14) scale(0.97,1)" font-size="13.8" text-anchor="middle" fill="#6c0a6c">O</text>
<line x1="102.60" y1="304.90" x2="144.90" y2="299.40" stroke="#800080" stroke-width="2.4" stroke-linecap="round"/>
<text transform="translate(4.20,376.90) scale(0.99,1)" font-size="20.3" text-anchor="start" fill="#000" font-weight="bold" >e</text>
<text transform="translate(97.00,393.80) scale(1.06,1)" font-size="13" text-anchor="middle" fill="#000" font-weight="normal" >Rebaudioside A</text>
<path d="M118.19,477.92 L107.08,467.95 L124.27,450.09 L157.91,450.09 L175.10,466.33 L159.61,484.00 L129.78,484.29" fill="none" stroke="#0000c8" stroke-width="2.4" stroke-linejoin="round" stroke-linecap="round"/>
<text transform="translate(123.13,489.23) scale(0.97,1)" font-size="13.8" text-anchor="middle" fill="#0808b0">O</text>
<line x1="124.27" y1="450.09" x2="124.27" y2="440.40" stroke="#0000c8" stroke-width="2.4" stroke-linecap="round"/>
<text transform="translate(118.48,438.41) scale(0.97,1)" font-size="13.8" text-anchor="middle" fill="#0808b0">HO</text>
<line x1="157.91" y1="450.09" x2="157.91" y2="440.40" stroke="#0000c8" stroke-width="2.4" stroke-linecap="round"/>
<text transform="translate(162.37,438.41) scale(0.97,1)" font-size="13.8" text-anchor="middle" fill="#0808b0">OH</text>
<line x1="175.10" y1="466.33" x2="175.10" y2="454.84" stroke="#0000c8" stroke-width="2.4" stroke-linecap="round"/>
<text transform="translate(179.47,453.61) scale(0.97,1)" font-size="13.8" text-anchor="middle" fill="#0808b0">OH</text>
<path d="M159.61,484.00 L172.82,492.27 L172.82,508.80" fill="none" stroke="#0000c8" stroke-width="2.4" stroke-linejoin="round" stroke-linecap="round"/>
<text transform="translate(177.29,521.25) scale(0.97,1)" font-size="13.8" text-anchor="middle" fill="#0808b0">OH</text>
<line x1="107.08" y1="467.95" x2="97.77" y2="484.67" stroke="#0000c8" stroke-width="2.4" stroke-linecap="round"/>
<text transform="translate(93.21,495.50) scale(0.97,1)" font-size="13.8" text-anchor="middle" fill="#0808b0">O</text>
<path d="M26.33,522.10 L15.12,509.75 L31.93,494.26 L66.70,494.26 L82.66,510.51 L66.13,527.61 L38.02,528.18" fill="none" stroke="#0000c8" stroke-width="2.4" stroke-linejoin="round" stroke-linecap="round"/>
<text transform="translate(31.93,533.69) scale(0.97,1)" font-size="13.8" text-anchor="middle" fill="#0808b0">O</text>
<line x1="31.93" y1="494.26" x2="31.93" y2="484.00" stroke="#0000c8" stroke-width="2.4" stroke-linecap="round"/>
<text transform="translate(28.04,482.01) scale(0.97,1)" font-size="13.8" text-anchor="middle" fill="#0808b0">HO</text>
<path d="M15.12,509.75 L15.12,534.26 L20.82,540.81" fill="none" stroke="#0000c8" stroke-width="2.4" stroke-linejoin="round" stroke-linecap="round"/>
<text transform="translate(32.41,552.69) scale(0.97,1)" font-size="13.8" text-anchor="middle" fill="#0808b0">OH</text>
<line x1="66.13" y1="527.61" x2="66.13" y2="545.28" stroke="#0000c8" stroke-width="2.4" stroke-linecap="round"/>
<text transform="translate(61.19,559.34) scale(0.97,1)" font-size="13.8" text-anchor="middle" fill="#0808b0">HO</text>
<line x1="82.66" y1="510.51" x2="90.83" y2="496.45" stroke="#0000c8" stroke-width="2.4" stroke-linecap="round"/>
<line x1="66.13" y1="527.61" x2="95.39" y2="512.12" stroke="#0000c8" stroke-width="2.4" stroke-linecap="round"/>
<path d="M72.31,593.92 L44.28,593.92 L27.66,611.21" fill="none" stroke="#0000c8" stroke-width="2.4" stroke-linejoin="round" stroke-linecap="round"/>
<path d="M82.95,600.47 L94.35,615.39 L78.20,627.26 L44.28,627.26" fill="none" stroke="#0000c8" stroke-width="2.4" stroke-linejoin="round" stroke-linecap="round"/>
<line x1="27.66" y1="611.21" x2="44.28" y2="627.26" stroke="#0000c8" stroke-width="3.4" stroke-linecap="round"/>
<text transform="translate(80.57,598.48) scale(0.97,1)" font-size="13.8" text-anchor="middle" fill="#0808b0">O</text>
<path d="M44.28,593.92 L44.28,577.87 L36.40,573.97" fill="none" stroke="#0000c8" stroke-width="2.4" stroke-linejoin="round" stroke-linecap="round"/>
<text transform="translate(25.29,576.82) scale(0.97,1)" font-size="13.8" text-anchor="middle" fill="#0808b0">HO</text>
<line x1="27.66" y1="611.21" x2="27.66" y2="624.32" stroke="#0000c8" stroke-width="3.0" stroke-linecap="round"/>
<text transform="translate(31.27,637.53) scale(0.97,1)" font-size="13.8" text-anchor="middle" fill="#0808b0">OH</text>
<line x1="44.28" y1="627.26" x2="44.28" y2="638.47" stroke="#0000c8" stroke-width="3.0" stroke-linecap="round"/>
<text transform="translate(48.47,652.44) scale(0.97,1)" font-size="13.8" text-anchor="middle" fill="#0808b0">OH</text>
<line x1="78.20" y1="627.26" x2="78.20" y2="638.47" stroke="#0000c8" stroke-width="2.4" stroke-linecap="round"/>
<text transform="translate(82.95,652.44) scale(0.97,1)" font-size="13.8" text-anchor="middle" fill="#0808b0">OH</text>
<line x1="94.35" y1="615.39" x2="100.81" y2="653.01" stroke="#0000c8" stroke-width="2.4" stroke-linecap="round"/>
<text transform="translate(100.91,514.03) scale(0.97,1)" font-size="13.8" text-anchor="middle" fill="#6c0a6c">O</text>
<line x1="104.99" y1="514.78" x2="110.88" y2="522.29" stroke="#800080" stroke-width="2.4" stroke-linecap="round"/>
<path d="M97.11,542.52 L110.88,522.29 L133.49,520.77 L149.93,538.25 L147.55,562.19" fill="none" stroke="#800080" stroke-width="2.4" stroke-linejoin="round" stroke-linecap="round"/>
<path d="M97.11,542.52 L104.04,565.42 L126.55,573.59 L147.55,562.19 L168.36,574.54 L168.36,598.10 L147.84,609.69 L126.55,599.05 L126.55,573.59" fill="none" stroke="#800080" stroke-width="2.4" stroke-linejoin="round" stroke-linecap="round"/>
<path d="M126.55,599.05 L105.46,610.07 L105.46,633.91 L126.46,645.98 L147.46,634.39 L147.84,609.69" fill="none" stroke="#800080" stroke-width="2.4" stroke-linejoin="round" stroke-linecap="round"/>
<line x1="112.69" y1="524.58" x2="110.03" y2="525.15" stroke="#800080" stroke-width="1.6"/>
<line x1="113.38" y1="527.23" x2="110.49" y2="527.85" stroke="#800080" stroke-width="1.6"/>
<line x1="114.08" y1="529.88" x2="110.96" y2="530.56" stroke="#800080" stroke-width="1.6"/>
<line x1="114.77" y1="532.53" x2="111.42" y2="533.26" stroke="#800080" stroke-width="1.6"/>
<line x1="115.46" y1="535.19" x2="111.88" y2="535.96" stroke="#800080" stroke-width="1.6"/>
<line x1="116.16" y1="537.84" x2="112.35" y2="538.66" stroke="#800080" stroke-width="1.6"/>
<line x1="116.85" y1="540.49" x2="112.81" y2="541.36" stroke="#800080" stroke-width="1.6"/>
<line x1="117.55" y1="543.14" x2="113.27" y2="544.07" stroke="#800080" stroke-width="1.6"/>
<line x1="118.24" y1="545.79" x2="113.74" y2="546.77" stroke="#800080" stroke-width="1.6"/>
<line x1="118.94" y1="548.45" x2="114.20" y2="549.47" stroke="#800080" stroke-width="1.6"/>
<line x1="119.63" y1="551.10" x2="114.66" y2="552.17" stroke="#800080" stroke-width="1.6"/>
<line x1="119.57" y1="552.47" x2="118.61" y2="556.02" stroke="#800080" stroke-width="1.6"/>
<line x1="121.95" y1="553.03" x2="120.94" y2="556.74" stroke="#800080" stroke-width="1.6"/>
<line x1="124.33" y1="553.59" x2="123.28" y2="557.47" stroke="#800080" stroke-width="1.6"/>
<line x1="126.72" y1="554.15" x2="125.62" y2="558.19" stroke="#800080" stroke-width="1.6"/>
<line x1="129.10" y1="554.71" x2="127.96" y2="558.91" stroke="#800080" stroke-width="1.6"/>
<line x1="131.48" y1="555.27" x2="130.29" y2="559.63" stroke="#800080" stroke-width="1.6"/>
<line x1="133.86" y1="555.83" x2="132.63" y2="560.35" stroke="#800080" stroke-width="1.6"/>
<line x1="136.24" y1="556.39" x2="134.97" y2="561.07" stroke="#800080" stroke-width="1.6"/>
<line x1="138.62" y1="556.96" x2="137.30" y2="561.80" stroke="#800080" stroke-width="1.6"/>
<line x1="141.00" y1="557.52" x2="139.64" y2="562.52" stroke="#800080" stroke-width="1.6"/>
<line x1="143.38" y1="558.08" x2="141.98" y2="563.24" stroke="#800080" stroke-width="1.6"/>
<line x1="145.76" y1="558.64" x2="144.32" y2="563.96" stroke="#800080" stroke-width="1.6"/>
<line x1="133.49" y1="520.77" x2="143.18" y2="506.52" stroke="#800080" stroke-width="2.4" stroke-linecap="round"/>
<line x1="138.60" y1="519.66" x2="146.16" y2="508.54" stroke="#800080" stroke-width="2.4" stroke-linecap="round"/>
<text transform="translate(142.80,506.90) scale(0.97,1)" font-size="13.8" fill="#6c0a6c">CH<tspan font-size="9.9" dy="3.7">2</tspan></text>
<path d="M126.55,573.59 L138.48,583.01 L140.28,580.13 Z" fill="#800080" stroke="#800080" stroke-width="0.6" stroke-linejoin="round"/>
<text transform="translate(144.89,590.50) scale(0.97,1)" font-size="13.8" text-anchor="middle" fill="#6c0a6c">H</text>
<line x1="125.19" y1="599.03" x2="125.82" y2="597.90" stroke="#800080" stroke-width="1.6"/>
<line x1="122.93" y1="598.12" x2="123.86" y2="596.46" stroke="#800080" stroke-width="1.6"/>
<line x1="120.68" y1="597.21" x2="121.90" y2="595.03" stroke="#800080" stroke-width="1.6"/>
<line x1="118.43" y1="596.30" x2="119.94" y2="593.59" stroke="#800080" stroke-width="1.6"/>
<line x1="116.18" y1="595.39" x2="117.98" y2="592.16" stroke="#800080" stroke-width="1.6"/>
<line x1="113.93" y1="594.48" x2="116.02" y2="590.73" stroke="#800080" stroke-width="1.6"/>
<text transform="translate(111.83,592.21) scale(0.97,1)" font-size="13.8" text-anchor="end" fill="#6c0a6c">H<tspan font-size="9.9" dy="3.7">3</tspan><tspan dy="-3.7">C</tspan></text>
<path d="M147.84,609.69 L153.69,616.70 L155.85,614.08 Z" fill="#800080" stroke="#800080" stroke-width="0.6" stroke-linejoin="round"/>
<text transform="translate(161.04,622.52) scale(0.97,1)" font-size="13.8" text-anchor="middle" fill="#6c0a6c">H</text>
<path d="M147.46,634.39 L165.27,635.81 L165.17,632.02 Z" fill="#800080" stroke="#800080" stroke-width="0.6" stroke-linejoin="round"/>
<text transform="translate(168.26,639.14) scale(0.97,1)" font-size="13.8" fill="#6c0a6c">CH<tspan font-size="9.9" dy="3.7">3</tspan></text>
<line x1="148.17" y1="635.45" x2="146.74" y2="635.45" stroke="#800080" stroke-width="1.6"/>
<line x1="148.41" y1="637.56" x2="146.50" y2="637.56" stroke="#800080" stroke-width="1.6"/>
<line x1="148.65" y1="639.67" x2="146.26" y2="639.67" stroke="#800080" stroke-width="1.6"/>
<line x1="148.89" y1="641.79" x2="146.02" y2="641.79" stroke="#800080" stroke-width="1.6"/>
<line x1="149.12" y1="643.90" x2="145.79" y2="643.90" stroke="#800080" stroke-width="1.6"/>
<line x1="149.36" y1="646.02" x2="145.55" y2="646.02" stroke="#800080" stroke-width="1.6"/>
<line x1="149.60" y1="648.13" x2="145.31" y2="648.13" stroke="#800080" stroke-width="1.6"/>
<line x1="149.84" y1="650.24" x2="145.07" y2="650.24" stroke="#800080" stroke-width="1.6"/>
<line x1="147.46" y1="652.63" x2="161.42" y2="661.56" stroke="#800080" stroke-width="2.4" stroke-linecap="round"/>
<line x1="152.08" y1="651.55" x2="163.25" y2="658.70" stroke="#800080" stroke-width="2.4" stroke-linecap="round"/>
<text transform="translate(167.88,667.55) scale(0.97,1)" font-size="13.8" text-anchor="middle" fill="#6c0a6c">O</text>
<text transform="translate(101.00,663.08) scale(0.97,1)" font-size="13.8" text-anchor="middle" fill="#6c0a6c">O</text>
<line x1="107.27" y1="657.86" x2="147.46" y2="652.63" stroke="#800080" stroke-width="2.4" stroke-linecap="round"/>
<line x1="66.70" y1="494.26" x2="80.20" y2="469.80" stroke="#0000c8" stroke-width="2.4" stroke-linecap="round"/>
<text transform="translate(83.50,470.04) scale(0.97,1)" font-size="13.8" text-anchor="middle" fill="#0808b0">O</text>
<path d="M61.00,427.90 L33.10,427.90 L16.30,444.80" fill="none" stroke="#000" stroke-width="2.4" stroke-linejoin="round" stroke-linecap="round"/>
<line x1="72.70" y1="433.70" x2="83.70" y2="444.80" stroke="#000" stroke-width="2.4" stroke-linecap="round"/>
<path d="M16.30,444.80 L32.60,461.00 L66.90,461.00 L83.70,444.80" fill="none" stroke="#000" stroke-width="3.5" stroke-linejoin="round" stroke-linecap="round"/>
<line x1="83.70" y1="444.80" x2="83.70" y2="457.60" stroke="#000" stroke-width="2.4" stroke-linecap="round"/>
<text transform="translate(67.40,432.84) scale(0.97,1)" font-size="13.8" text-anchor="middle" fill="#000">O</text>
<path d="M33.10,427.90 L33.10,411.60 L47.30,411.60" fill="none" stroke="#000" stroke-width="2.4" stroke-linejoin="round" stroke-linecap="round"/>
<text transform="translate(60.50,416.94) scale(0.97,1)" font-size="13.8" text-anchor="middle" fill="#000">OH</text>
<line x1="66.90" y1="461.00" x2="66.90" y2="448.80" stroke="#000" stroke-width="3.0" stroke-linecap="round"/>
<text transform="translate(60.70,446.14) scale(0.97,1)" font-size="13.8" text-anchor="middle" fill="#000">HO</text>
<line x1="32.60" y1="461.00" x2="32.60" y2="453.50" stroke="#000" stroke-width="3.0" stroke-linecap="round"/>
<text transform="translate(38.40,451.14) scale(0.97,1)" font-size="13.8" text-anchor="middle" fill="#000">OH</text>
<line x1="16.30" y1="444.80" x2="16.30" y2="429.70" stroke="#000" stroke-width="2.4" stroke-linecap="round"/>
<text transform="translate(10.50,426.74) scale(0.97,1)" font-size="13.8" text-anchor="middle" fill="#000">HO</text>
<text transform="translate(4.20,732.60) scale(0.99,1)" font-size="20.3" text-anchor="start" fill="#000" font-weight="bold" >i</text>
<text transform="translate(111.60,753.60) scale(1.06,1)" font-size="13" text-anchor="middle" fill="#000" font-weight="normal" >Steviol</text>
<path d="M62.70,825.30 L78.50,803.10 L106.50,800.60 L125.50,821.50 L121.70,848.80" fill="none" stroke="#800080" stroke-width="2.7" stroke-linejoin="round" stroke-linecap="round"/>
<path d="M62.70,825.30 L70.30,852.60 L97.90,861.50 L121.70,848.80 L146.40,862.10 L146.40,890.40 L122.30,904.40 L97.60,890.40 L97.90,861.50" fill="none" stroke="#800080" stroke-width="2.7" stroke-linejoin="round" stroke-linecap="round"/>
<path d="M97.60,890.40 L73.50,903.80 L73.50,932.30 L97.60,946.30 L122.30,932.30 L122.30,904.40" fill="none" stroke="#800080" stroke-width="2.7" stroke-linejoin="round" stroke-linecap="round"/>
<line x1="80.30" y1="805.91" x2="78.01" y2="806.49" stroke="#800080" stroke-width="1.5"/>
<line x1="81.15" y1="808.66" x2="78.57" y2="809.31" stroke="#800080" stroke-width="1.5"/>
<line x1="82.01" y1="811.41" x2="79.13" y2="812.14" stroke="#800080" stroke-width="1.5"/>
<line x1="82.87" y1="814.16" x2="79.69" y2="814.97" stroke="#800080" stroke-width="1.5"/>
<line x1="83.73" y1="816.92" x2="80.25" y2="817.80" stroke="#800080" stroke-width="1.5"/>
<line x1="84.59" y1="819.67" x2="80.81" y2="820.63" stroke="#800080" stroke-width="1.5"/>
<line x1="85.45" y1="822.42" x2="81.37" y2="823.46" stroke="#800080" stroke-width="1.5"/>
<line x1="86.31" y1="825.18" x2="81.93" y2="826.29" stroke="#800080" stroke-width="1.5"/>
<line x1="87.17" y1="827.93" x2="82.49" y2="829.12" stroke="#800080" stroke-width="1.5"/>
<line x1="88.03" y1="830.68" x2="83.05" y2="831.95" stroke="#800080" stroke-width="1.5"/>
<line x1="88.88" y1="833.43" x2="83.61" y2="834.78" stroke="#800080" stroke-width="1.5"/>
<line x1="89.79" y1="835.06" x2="88.15" y2="839.88" stroke="#800080" stroke-width="1.5"/>
<line x1="92.50" y1="836.09" x2="90.93" y2="840.71" stroke="#800080" stroke-width="1.5"/>
<line x1="95.20" y1="837.13" x2="93.70" y2="841.54" stroke="#800080" stroke-width="1.5"/>
<line x1="97.91" y1="838.16" x2="96.48" y2="842.37" stroke="#800080" stroke-width="1.5"/>
<line x1="100.62" y1="839.20" x2="99.26" y2="843.20" stroke="#800080" stroke-width="1.5"/>
<line x1="103.33" y1="840.24" x2="102.03" y2="844.03" stroke="#800080" stroke-width="1.5"/>
<line x1="106.03" y1="841.27" x2="104.81" y2="844.86" stroke="#800080" stroke-width="1.5"/>
<line x1="108.74" y1="842.31" x2="107.59" y2="845.69" stroke="#800080" stroke-width="1.5"/>
<line x1="111.45" y1="843.34" x2="110.36" y2="846.52" stroke="#800080" stroke-width="1.5"/>
<line x1="114.15" y1="844.38" x2="113.14" y2="847.35" stroke="#800080" stroke-width="1.5"/>
<line x1="116.86" y1="845.42" x2="115.92" y2="848.18" stroke="#800080" stroke-width="1.5"/>
<line x1="119.57" y1="846.45" x2="118.69" y2="849.02" stroke="#800080" stroke-width="1.5"/>
<line x1="106.50" y1="800.60" x2="114.10" y2="784.10" stroke="#800080" stroke-width="2.7" stroke-linecap="round"/>
<line x1="111.05" y1="800.29" x2="117.73" y2="785.77" stroke="#800080" stroke-width="2.7" stroke-linecap="round"/>
<text transform="translate(114.70,781.44) scale(0.97,1)" font-size="13.8" fill="#6c0a6c">CH<tspan font-size="9.9" dy="3.7">2</tspan></text>
<text transform="translate(61.40,783.64) scale(0.97,1)" font-size="13.8" text-anchor="middle" fill="#6c0a6c">HO</text>
<line x1="69.00" y1="786.60" x2="78.50" y2="803.10" stroke="#800080" stroke-width="2.7" stroke-linecap="round"/>
<path d="M97.90,861.50 L111.35,874.14 L114.25,870.06 Z" fill="#800080" stroke="#800080" stroke-width="0.6" stroke-linejoin="round"/>
<text transform="translate(120.70,881.74) scale(0.97,1)" font-size="13.8" text-anchor="middle" fill="#6c0a6c">H</text>
<line x1="96.04" y1="890.45" x2="96.61" y2="889.20" stroke="#800080" stroke-width="1.5"/>
<line x1="93.34" y1="889.63" x2="94.21" y2="887.72" stroke="#800080" stroke-width="1.5"/>
<line x1="90.64" y1="888.82" x2="91.81" y2="886.23" stroke="#800080" stroke-width="1.5"/>
<line x1="87.94" y1="888.00" x2="89.41" y2="884.75" stroke="#800080" stroke-width="1.5"/>
<line x1="85.24" y1="887.18" x2="87.01" y2="883.27" stroke="#800080" stroke-width="1.5"/>
<line x1="82.54" y1="886.37" x2="84.61" y2="881.78" stroke="#800080" stroke-width="1.5"/>
<text transform="translate(80.40,882.94) scale(0.97,1)" font-size="13.8" text-anchor="end" fill="#6c0a6c">H<tspan font-size="9.9" dy="3.7">3</tspan><tspan dy="-3.7">C</tspan></text>
<path d="M122.30,904.40 L128.62,911.41 L131.18,907.59 Z" fill="#800080" stroke="#800080" stroke-width="0.6" stroke-linejoin="round"/>
<text transform="translate(137.80,917.94) scale(0.97,1)" font-size="13.8" text-anchor="middle" fill="#6c0a6c">H</text>
<path d="M122.30,932.30 L142.60,934.80 L142.60,929.80 Z" fill="#800080" stroke="#800080" stroke-width="0.6" stroke-linejoin="round"/>
<text transform="translate(147.00,936.94) scale(0.97,1)" font-size="13.8" fill="#6c0a6c">CH<tspan font-size="9.9" dy="3.7">3</tspan></text>
<line x1="123.02" y1="933.48" x2="121.58" y2="933.48" stroke="#800080" stroke-width="1.5"/>
<line x1="123.25" y1="935.83" x2="121.35" y2="935.83" stroke="#800080" stroke-width="1.5"/>
<line x1="123.48" y1="938.19" x2="121.12" y2="938.19" stroke="#800080" stroke-width="1.5"/>
<line x1="123.72" y1="940.54" x2="120.88" y2="940.54" stroke="#800080" stroke-width="1.5"/>
<line x1="123.95" y1="942.90" x2="120.65" y2="942.90" stroke="#800080" stroke-width="1.5"/>
<line x1="124.18" y1="945.26" x2="120.42" y2="945.26" stroke="#800080" stroke-width="1.5"/>
<line x1="124.42" y1="947.61" x2="120.18" y2="947.61" stroke="#800080" stroke-width="1.5"/>
<line x1="124.65" y1="949.97" x2="119.95" y2="949.97" stroke="#800080" stroke-width="1.5"/>
<line x1="124.88" y1="952.32" x2="119.72" y2="952.32" stroke="#800080" stroke-width="1.5"/>
<line x1="122.30" y1="955.10" x2="137.50" y2="964.00" stroke="#800080" stroke-width="2.7" stroke-linecap="round"/>
<line x1="126.60" y1="952.98" x2="139.52" y2="960.55" stroke="#800080" stroke-width="2.7" stroke-linecap="round"/>
<text transform="translate(146.50,969.64) scale(0.97,1)" font-size="13.8" text-anchor="middle" fill="#6c0a6c">O</text>
<line x1="122.30" y1="955.10" x2="110.90" y2="961.50" stroke="#800080" stroke-width="2.7" stroke-linecap="round"/>
<text transform="translate(97.90,970.94) scale(0.97,1)" font-size="13.8" text-anchor="middle" fill="#6c0a6c">HO</text>
</svg></body></html>
